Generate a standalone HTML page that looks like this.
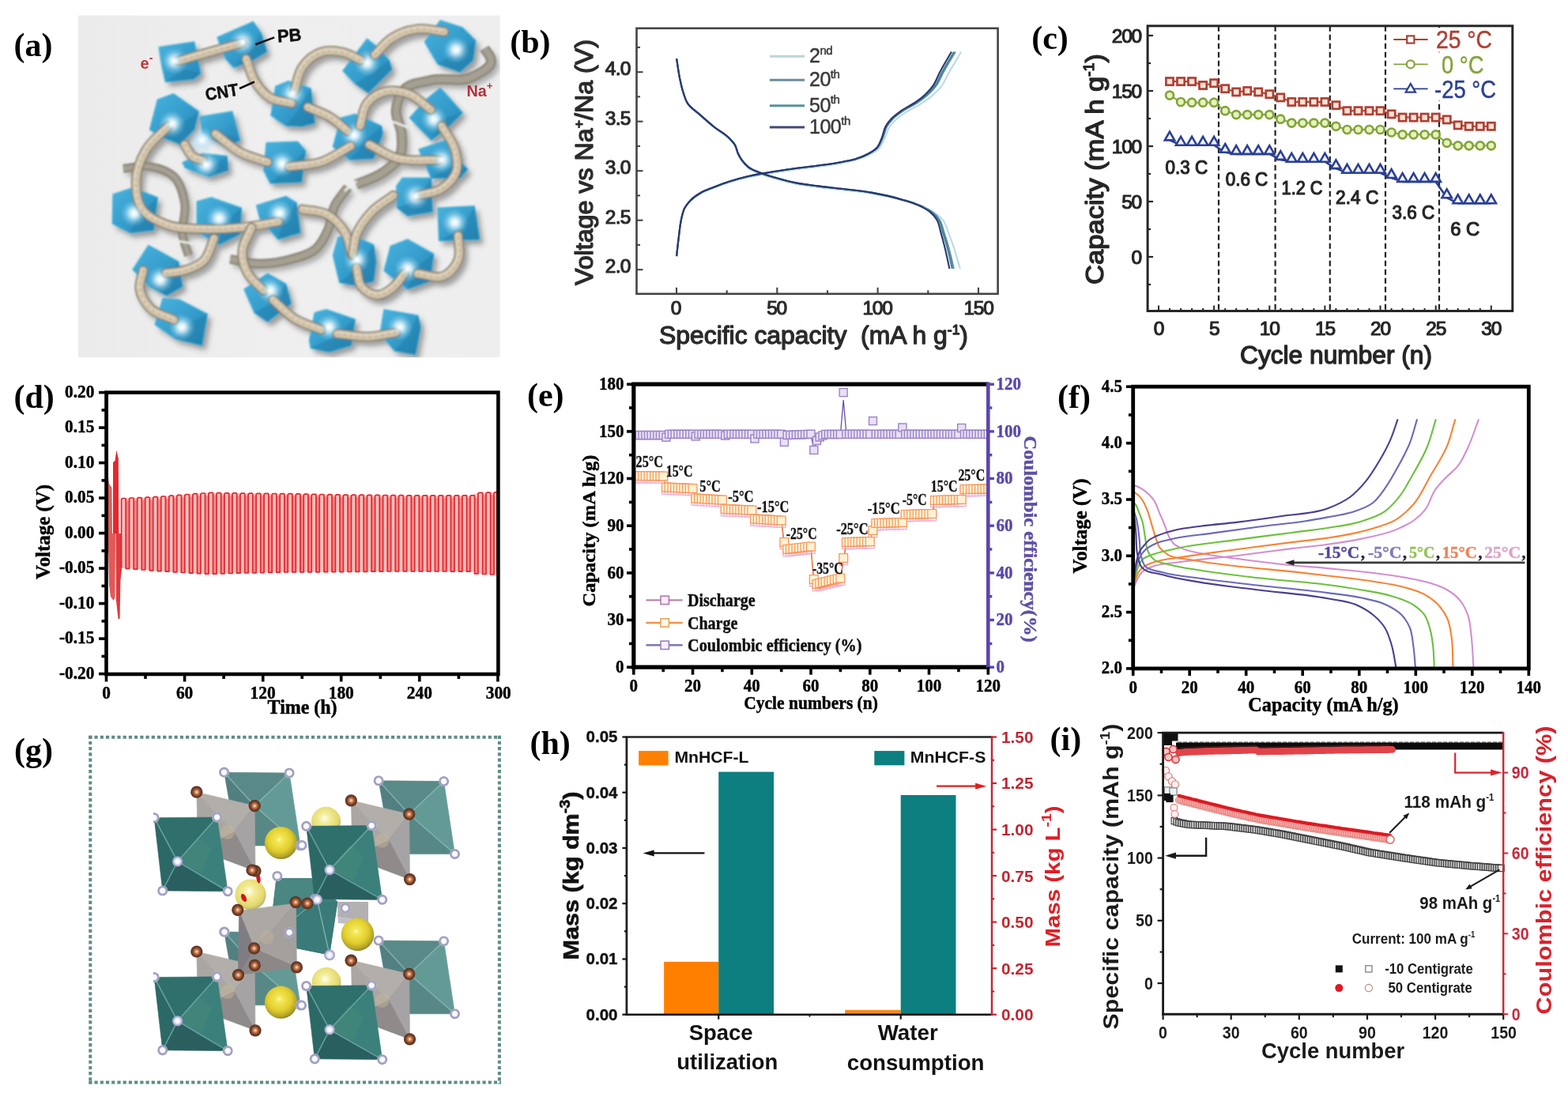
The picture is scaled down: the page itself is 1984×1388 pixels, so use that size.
<!DOCTYPE html>
<html lang="en">
<head>
<meta charset="utf-8">
<title>Figure</title>
<style>
html,body{margin:0;padding:0;background:#fff;}
body{width:1984px;height:1388px;overflow:hidden;}
svg{display:block;}
text{white-space:pre;}
</style>
</head>
<body>
<svg width="1984" height="1388" viewBox="0 0 1984 1388">
<defs>

<radialGradient id="aGlow" cx="0.5" cy="0.5" r="0.5"><stop offset="0" stop-color="#ffffff" stop-opacity="1"/><stop offset="0.22" stop-color="#f2fbff" stop-opacity="0.95"/><stop offset="0.55" stop-color="#bfe6f6" stop-opacity="0.5"/><stop offset="1" stop-color="#8fd0ec" stop-opacity="0"/></radialGradient>
<linearGradient id="aBg" x1="0" y1="0" x2="1" y2="0"><stop offset="0" stop-color="#ebebeb"/><stop offset="0.5" stop-color="#efefef"/><stop offset="1" stop-color="#eeeeee"/></linearGradient>
<linearGradient id="aCube" x1="0" y1="0" x2="1" y2="1"><stop offset="0" stop-color="#44aedb"/><stop offset="0.5" stop-color="#2a97c8"/><stop offset="1" stop-color="#1878aa"/></linearGradient>
<filter id="aSh" x="-20%" y="-20%" width="140%" height="140%"><feGaussianBlur stdDeviation="3.2"/></filter>
<filter id="aSoft" x="-10%" y="-10%" width="120%" height="120%"><feGaussianBlur stdDeviation="0.8"/></filter>
<pattern id="aGrid" width="3" height="3" patternUnits="userSpaceOnUse"><path d="M0 0H3M0 0V3" stroke="#7fd0ee" stroke-width="0.7" fill="none" opacity="0.5"/></pattern>
<pattern id="aTube" width="4" height="4" patternUnits="userSpaceOnUse" patternTransform="rotate(35)"><rect width="4" height="4" fill="#bfb398"/><path d="M0 1H4M0 3H4" stroke="#ece2cc" stroke-width="0.9" opacity="0.75"/></pattern>
<clipPath id="aclip"><rect x="99" y="19.6" width="533.6" height="432.6"/></clipPath>

<clipPath id="eclip"><rect x="795" y="480" width="455.8" height="370"/></clipPath>

<radialGradient id="gW" cx="0.5" cy="0.5" r="0.5"><stop offset="0" stop-color="#ffffff"/><stop offset="0.45" stop-color="#eef0ff"/><stop offset="0.72" stop-color="#b9bbdc"/><stop offset="1" stop-color="#8d8fb4"/></radialGradient>
<radialGradient id="gR" cx="0.5" cy="0.5" r="0.5"><stop offset="0" stop-color="#ffffff"/><stop offset="0.5" stop-color="#f4f4fb"/><stop offset="0.62" stop-color="#a9a9c8"/><stop offset="0.9" stop-color="#9a9abc"/><stop offset="1" stop-color="#c9c9dc"/></radialGradient>
<radialGradient id="gB" cx="0.5" cy="0.5" r="0.5"><stop offset="0" stop-color="#fff4e8"/><stop offset="0.22" stop-color="#e0996c"/><stop offset="0.6" stop-color="#8a4a2c"/><stop offset="1" stop-color="#4c2a1c"/></radialGradient>
<radialGradient id="gY" cx="0.45" cy="0.4" r="0.6"><stop offset="0" stop-color="#fffbe0"/><stop offset="0.12" stop-color="#f6e95a"/><stop offset="0.6" stop-color="#e2cf2e"/><stop offset="0.88" stop-color="#b5a528"/><stop offset="1" stop-color="#8f8430"/></radialGradient>
<radialGradient id="gYp" cx="0.45" cy="0.4" r="0.6"><stop offset="0" stop-color="#fffff0"/><stop offset="0.3" stop-color="#f3ec9a"/><stop offset="0.8" stop-color="#e3d86a"/><stop offset="1" stop-color="#b9b27a"/></radialGradient>
<clipPath id="gclip"><rect x="194" y="940" width="400" height="420"/></clipPath>

</defs>
<rect x="0" y="0" width="1984" height="1388" fill="#ffffff"/>
<g id="labels">
<text font-family='"Liberation Serif", serif' font-size="42" font-weight="bold" fill="#000" x="17.5" y="71">(a)</text>
<text font-family='"Liberation Serif", serif' font-size="42" font-weight="bold" fill="#000" x="645.2" y="67">(b)</text>
<text font-family='"Liberation Serif", serif' font-size="42" font-weight="bold" fill="#000" x="1305.2" y="61.6">(c)</text>
<text font-family='"Liberation Serif", serif' font-size="42" font-weight="bold" fill="#000" x="17.4" y="516.2">(d)</text>
<text font-family='"Liberation Serif", serif' font-size="42" font-weight="bold" fill="#000" x="666.9" y="514.3">(e)</text>
<text font-family='"Liberation Serif", serif' font-size="42" font-weight="bold" fill="#000" x="1338.1" y="516">(f)</text>
<text font-family='"Liberation Serif", serif' font-size="42" font-weight="bold" fill="#000" x="17.9" y="963">(g)</text>
<text font-family='"Liberation Serif", serif' font-size="42" font-weight="bold" fill="#000" x="670.5" y="954">(h)</text>
<text font-family='"Liberation Serif", serif' font-size="42" font-weight="bold" fill="#000" x="1328.5" y="948.5">(i)</text>
</g>
<g id="panel-a">
<rect x="99" y="19.6" width="533.6" height="432.6" fill="url(#aBg)"/>
<g clip-path="url(#aclip)" filter="url(#aSoft)"><g transform="translate(5 6)" opacity="0.5" filter="url(#aSh)"><path d="M225.2 77.2C238.2 73.5 251.1 69.7 264.1 66C278.2 62 292.4 58.1 306.5 54.2" fill="none" stroke="#505050" stroke-width="12" stroke-linecap="round"/><path d="M311.5 74.5C314.9 83.5 316.7 93.4 321.7 101.6C326.9 110.1 333.4 118.6 342 123.6C350.1 128.3 360.1 128.1 369.1 130.4" fill="none" stroke="#505050" stroke-width="12" stroke-linecap="round"/><path d="M372.5 115.1C375.9 105 376.4 93.4 382.7 84.7C388.5 76.5 396.8 69.1 406.4 66C415 63.2 424.6 64.2 433.5 66C441.9 67.8 449.3 72.8 457.2 76.2" fill="none" stroke="#505050" stroke-width="12" stroke-linecap="round"/><path d="M474.1 69.4C480.9 62.6 486.5 54.5 494.4 49.1C504.4 42.4 516.3 38 528.3 36.6C539.5 35.2 550.9 38.8 562.1 40" fill="none" stroke="#505050" stroke-width="12" stroke-linecap="round"/><path d="M389.4 135.5C398.5 139.4 408.1 142.3 416.5 147.3C425.2 152.5 432.3 159.7 440.2 165.9" fill="none" stroke="#505050" stroke-width="12" stroke-linecap="round"/><path d="M455.5 159.2C458.5 149.6 458.3 138.2 464.6 130.4C470.3 123.3 478.8 118 487.6 115.8C497.6 113.3 508.5 115.6 518.1 119.2C528.6 123.1 536.2 132.3 545.2 138.8" fill="none" stroke="#505050" stroke-width="12" stroke-linecap="round"/><path d="M467.3 182.9C478.6 188.5 489.1 196.1 501.2 199.8C518.5 205 537.3 201.6 555.4 202.5" fill="none" stroke="#505050" stroke-width="12" stroke-linecap="round"/><path d="M558.8 159.2C564.4 169.3 572.7 178.4 575.7 189.6C578 198.4 580.1 208.1 577.4 216.7C574.5 225.9 566.8 233.4 558.8 238.7C550 244.6 538.4 244.4 528.3 247.2" fill="none" stroke="#505050" stroke-width="12" stroke-linecap="round"/><path d="M272.6 169.3C283.3 177.2 292.9 186.9 304.8 193C315.4 198.5 327.4 200.9 338.6 204.9" fill="none" stroke="#505050" stroke-width="12" stroke-linecap="round"/><path d="M365.7 210.6C379.3 208.7 393.4 209.1 406.4 204.9C419.8 200.5 431.2 191.3 443.6 184.6" fill="none" stroke="#505050" stroke-width="12" stroke-linecap="round"/><path d="M213.3 159.2C203.7 169.3 191.6 177.6 184.6 189.6C177.4 201.9 172.2 216.1 172 230.3C171.9 241.8 173 254.6 179.5 264.1C186.3 274.1 198.7 279.3 210 283.8C224.8 289.7 241.5 288.9 257.4 289.5C273.2 290.2 289 289.3 304.8 287.8C320.7 286.3 336.4 282.9 352.2 280.4" fill="none" stroke="#505050" stroke-width="12" stroke-linecap="round"/><path d="M382.7 264.8C392.8 266.8 403.9 266.1 413.1 270.9C423.1 276.1 431.3 284.9 436.8 294.6C441.8 303.3 442.5 313.8 445.3 323.4" fill="none" stroke="#505050" stroke-width="12" stroke-linecap="round"/><path d="M497.8 247.2C488.8 254 478.5 259.4 470.7 267.5C462.3 276.3 454.4 286.5 450.4 298C447.8 305.6 447.7 313.8 446.3 321.7" fill="none" stroke="#505050" stroke-width="12" stroke-linecap="round"/><path d="M318.3 287.8C314.4 298 306.9 307.4 306.5 318.3C306.1 327.6 308.9 337.2 313.2 345.4C317.9 354.2 326.8 360.1 333.6 367.4" fill="none" stroke="#505050" stroke-width="12" stroke-linecap="round"/><path d="M345.4 379.3C354.4 387.2 362.3 396.6 372.5 403C382.9 409.5 395.1 412.5 406.4 417.2" fill="none" stroke="#505050" stroke-width="12" stroke-linecap="round"/><path d="M426.7 422.3C440.2 423.5 453.7 426.6 467.3 426C478.7 425.5 489.9 422.4 501.2 420.6" fill="none" stroke="#505050" stroke-width="12" stroke-linecap="round"/><path d="M270.9 301.4C266.4 311 265 322.8 257.4 330.2C251 336.3 242.1 339.5 233.7 342C226 344.3 217.9 344.3 210 345.4" fill="none" stroke="#505050" stroke-width="12" stroke-linecap="round"/><path d="M181.2 342C179.7 349.9 175.7 357.8 176.8 365.7C178 374.6 183.4 383 189.6 389.4C197.5 397.6 210 399.6 220.1 404.7" fill="none" stroke="#505050" stroke-width="12" stroke-linecap="round"/><path d="M451.1 338.6C453.3 346.8 452.3 356.6 457.8 363C462.8 368.7 470.6 373.3 478.2 373.2C485.5 373.1 492.1 367.7 497.8 363C503.7 358.3 507.3 351.3 512 345.4" fill="none" stroke="#505050" stroke-width="12" stroke-linecap="round"/><path d="M528.3 346.1C539.6 347 551.9 353.7 562.1 348.8C569.7 345.2 575.6 337.8 579.1 330.2C583.5 320.4 579.5 308.7 579.7 298" fill="none" stroke="#505050" stroke-width="12" stroke-linecap="round"/><path d="M233.7 182.9C237 187.9 238.9 194.5 243.8 198.1C247.7 201 252.9 201.5 257.4 203.2" fill="none" stroke="#505050" stroke-width="12" stroke-linecap="round"/><path d="M612.9 61C615.8 66 621.1 70.4 621.4 76.2C621.9 86.2 608.1 91.6 599.4 96.5C583.6 105.5 562.8 97.3 545.2 101.6C533.6 104.4 519.5 104.7 511.3 113.4C505.2 120.1 502.1 129.8 501.2 138.8C500.1 149.2 507.2 158.9 508 169.3C508.6 178.3 509.8 188.1 506.3 196.4C502.2 206 492.7 212.4 484.3 218.4C474.2 225.6 461.7 228.6 450.4 233.7" fill="none" stroke="#666" stroke-width="10"/><path d="M440.2 237C434.6 244.9 427.5 252 423.3 260.8C418.7 270.2 419.2 281.6 414.8 291.2C410.9 299.8 406.6 308.7 399.6 314.9C391.3 322.2 379.7 324.7 369.1 327.8C354.9 332 339.9 334.1 325.1 333.6C313.7 333.1 302.5 329.7 291.2 327.8" fill="none" stroke="#666" stroke-width="9"/><path d="M155.8 213.3C167.1 212.4 178.5 208.8 189.6 210.6C200.5 212.4 212.2 215.8 220.1 223.5C228.8 232 231.6 245.4 233.7 257.4C236 270.7 228.9 284.6 231 298C232.3 306.8 236.1 314.9 238.7 323.4" fill="none" stroke="#666" stroke-width="8"/><polygon points="201.1,59.7 245.8,52.8 254.1,92.9 245,100.3 209.3,103.6 204.4,81.3" fill="#4a4a4a"/><polygon points="274.8,47.3 320.4,27.4 330.3,41.5 337.8,65.5 318.7,77.1 295.5,85.4 285.6,74.6" fill="#4a4a4a"/><polygon points="348.6,109.4 365.1,102.5 393.3,111.9 398.3,155.9 381.7,160 361.8,159.2 342.8,145.9" fill="#4a4a4a"/><polygon points="189.4,164.1 199.4,126 219.3,118.6 251.6,140.9 245.8,164.1 227.6,182.4 206,174.1" fill="#4a4a4a"/><polygon points="253.3,147.6 293.9,140.9 303.8,177.4 285.6,185.7 255.7,169.1" fill="#4a4a4a"/><polygon points="230.9,205.6 255.7,194 287.2,197.3 288.9,215.5 264,223.8 234.2,212.2" fill="#4a4a4a"/><polygon points="337,180.7 376.7,179.1 386.7,190.7 381.7,230.4 341.9,232.1 333.6,215.5" fill="#4a4a4a"/><polygon points="433.7,89.6 464.4,49 477.6,59.7 492.5,76.3 495.9,87.9 466,117.7 449.4,106.1" fill="#4a4a4a"/><polygon points="537.3,53.1 557.2,25.7 585.4,34.9 601.9,51.4 598.6,76.3 582,91.2 553.9,81.3" fill="#4a4a4a"/><polygon points="421.3,185.7 431.2,149.2 449.4,144.3 482.6,159.2 484.3,169.1 472.7,200.6 442.8,202.3" fill="#4a4a4a"/><polygon points="518.2,149.2 539,126 557.2,111.1 585.4,142.6 568.8,159.2 545.6,177.4" fill="#4a4a4a"/><polygon points="529.8,189 563.8,177.4 570.4,192.3 592,213.9 582,225.5 545.6,225.5" fill="#4a4a4a"/><polygon points="143,245.7 167.9,237.5 199.4,249.9 194.4,291.3 164.6,294.6 142.2,283" fill="#4a4a4a"/><polygon points="249.1,254.9 267.3,249.9 305.5,263.1 303.8,296.3 277.3,309.6 249.1,293" fill="#4a4a4a"/><polygon points="324.5,259.8 361.8,248.2 375.1,256.5 380.1,294.6 351.9,302.9 328.7,276.4" fill="#4a4a4a"/><polygon points="167.9,341.1 187.8,310.4 225.9,331.1 230.9,362.6 211,374.2 189.4,362.6" fill="#4a4a4a"/><polygon points="196.1,410.7 206,377.5 227.6,379.2 262.4,397.4 255.7,437.2 222.6,428.9" fill="#4a4a4a"/><polygon points="308.8,365.9 338.6,346 361.8,359.3 368.5,384.1 338.6,407.3 322,395.7" fill="#4a4a4a"/><polygon points="501.7,235 509.1,225 545.6,225 547.2,268.1 515.7,273.1 502.5,263.1" fill="#4a4a4a"/><polygon points="553.9,263.1 600.3,260.7 606.9,302.9 555.5,304.6" fill="#4a4a4a"/><polygon points="421.3,322.8 427.9,299.6 449.4,299.6 472.7,309.6 476,331.1 472.7,356 449.4,360.9 429.6,357.6" fill="#4a4a4a"/><polygon points="485.9,342.7 494.2,311.2 515.7,302.9 548.9,321.2 543.9,356 515.7,365.9" fill="#4a4a4a"/><polygon points="391.4,430.6 398.1,395.7 413,391.6 449.4,404 444.5,437.2 416.3,445.5 393.1,440.5" fill="#4a4a4a"/><polygon points="480.9,422.3 485.9,391.6 529,399.1 532.3,414 525.7,448.8 499.2,443.8" fill="#4a4a4a"/></g>
<path d="M612.9 61C615.8 66 621.1 70.4 621.4 76.2C621.9 86.2 608.1 91.6 599.4 96.5C583.6 105.5 562.8 97.3 545.2 101.6C533.6 104.4 519.5 104.7 511.3 113.4C505.2 120.1 502.1 129.8 501.2 138.8C500.1 149.2 507.2 158.9 508 169.3C508.6 178.3 509.8 188.1 506.3 196.4C502.2 206 492.7 212.4 484.3 218.4C474.2 225.6 461.7 228.6 450.4 233.7" fill="none" stroke="#8b8678" stroke-width="13"/>
<path d="M612.9 61C615.8 66 621.1 70.4 621.4 76.2C621.9 86.2 608.1 91.6 599.4 96.5C583.6 105.5 562.8 97.3 545.2 101.6C533.6 104.4 519.5 104.7 511.3 113.4C505.2 120.1 502.1 129.8 501.2 138.8C500.1 149.2 507.2 158.9 508 169.3C508.6 178.3 509.8 188.1 506.3 196.4C502.2 206 492.7 212.4 484.3 218.4C474.2 225.6 461.7 228.6 450.4 233.7" fill="none" stroke="#a5a092" stroke-width="8"/>
<path d="M440.2 237C434.6 244.9 427.5 252 423.3 260.8C418.7 270.2 419.2 281.6 414.8 291.2C410.9 299.8 406.6 308.7 399.6 314.9C391.3 322.2 379.7 324.7 369.1 327.8C354.9 332 339.9 334.1 325.1 333.6C313.7 333.1 302.5 329.7 291.2 327.8" fill="none" stroke="#8b8678" stroke-width="12"/>
<path d="M440.2 237C434.6 244.9 427.5 252 423.3 260.8C418.7 270.2 419.2 281.6 414.8 291.2C410.9 299.8 406.6 308.7 399.6 314.9C391.3 322.2 379.7 324.7 369.1 327.8C354.9 332 339.9 334.1 325.1 333.6C313.7 333.1 302.5 329.7 291.2 327.8" fill="none" stroke="#a5a092" stroke-width="7"/>
<path d="M155.8 213.3C167.1 212.4 178.5 208.8 189.6 210.6C200.5 212.4 212.2 215.8 220.1 223.5C228.8 232 231.6 245.4 233.7 257.4C236 270.7 228.9 284.6 231 298C232.3 306.8 236.1 314.9 238.7 323.4" fill="none" stroke="#8b8678" stroke-width="11"/>
<path d="M155.8 213.3C167.1 212.4 178.5 208.8 189.6 210.6C200.5 212.4 212.2 215.8 220.1 223.5C228.8 232 231.6 245.4 233.7 257.4C236 270.7 228.9 284.6 231 298C232.3 306.8 236.1 314.9 238.7 323.4" fill="none" stroke="#a5a092" stroke-width="6"/>
<rect x="496.3" y="156.2" width="20" height="2.6" fill="#ededed" transform="rotate(20 506.3 157.5)"/>
<rect x="433.6" y="234.1" width="20" height="2.6" fill="#ededed" transform="rotate(-40 443.6 235.4)"/>
<rect x="223.7" y="305.2" width="20" height="2.6" fill="#ededed" transform="rotate(10 233.7 306.5)"/>
<polygon points="201.1,59.7 245.8,52.8 254.1,92.9 245,100.3 209.3,103.6 204.4,81.3" fill="url(#aCube)" stroke="#3fb0dc" stroke-width="1.2" stroke-linejoin="round"/>
<polygon points="232.6,87.8 254.1,92.9 245,100.3 209.3,103.6" fill="#156f9e" opacity="0.45"/>
<polygon points="201.1,59.7 245.8,52.8 254.1,92.9 245,100.3 209.3,103.6 204.4,81.3" fill="url(#aGrid)"/>
<circle cx="220.9" cy="77.1" r="17" fill="url(#aGlow)"/>
<polygon points="274.8,47.3 320.4,27.4 330.3,41.5 337.8,65.5 318.7,77.1 295.5,85.4 285.6,74.6" fill="url(#aCube)" stroke="#3fb0dc" stroke-width="1.2" stroke-linejoin="round"/>
<polygon points="315,65.8 330.3,41.5 337.8,65.5 318.7,77.1 295.5,85.4" fill="#156f9e" opacity="0.45"/>
<polygon points="274.8,47.3 320.4,27.4 330.3,41.5 337.8,65.5 318.7,77.1 295.5,85.4 285.6,74.6" fill="url(#aGrid)"/>
<circle cx="307.1" cy="53.1" r="17" fill="url(#aGlow)"/>
<polygon points="348.6,109.4 365.1,102.5 393.3,111.9 398.3,155.9 381.7,160 361.8,159.2 342.8,145.9" fill="url(#aCube)" stroke="#3fb0dc" stroke-width="1.2" stroke-linejoin="round"/>
<polygon points="376.2,141 393.3,111.9 398.3,155.9 381.7,160 361.8,159.2" fill="#156f9e" opacity="0.45"/>
<polygon points="348.6,109.4 365.1,102.5 393.3,111.9 398.3,155.9 381.7,160 361.8,159.2 342.8,145.9" fill="url(#aGrid)"/>
<circle cx="370.1" cy="118.6" r="17" fill="url(#aGlow)"/>
<polygon points="189.4,164.1 199.4,126 219.3,118.6 251.6,140.9 245.8,164.1 227.6,182.4 206,174.1" fill="url(#aCube)" stroke="#3fb0dc" stroke-width="1.2" stroke-linejoin="round"/>
<polygon points="225.9,158.9 251.6,140.9 245.8,164.1 227.6,182.4 206,174.1" fill="#156f9e" opacity="0.45"/>
<polygon points="189.4,164.1 199.4,126 219.3,118.6 251.6,140.9 245.8,164.1 227.6,182.4 206,174.1" fill="url(#aGrid)"/>
<circle cx="217.6" cy="156.7" r="17" fill="url(#aGlow)"/>
<polygon points="253.3,147.6 293.9,140.9 303.8,177.4 285.6,185.7 255.7,169.1" fill="url(#aCube)" stroke="#3fb0dc" stroke-width="1.2" stroke-linejoin="round"/>
<polygon points="284.5,170.1 303.8,177.4 285.6,185.7" fill="#156f9e" opacity="0.45"/>
<polygon points="253.3,147.6 293.9,140.9 303.8,177.4 285.6,185.7 255.7,169.1" fill="url(#aGrid)"/>
<circle cx="255.7" cy="177.4" r="17" fill="url(#aGlow)"/>
<polygon points="230.9,205.6 255.7,194 287.2,197.3 288.9,215.5 264,223.8 234.2,212.2" fill="url(#aCube)" stroke="#3fb0dc" stroke-width="1.2" stroke-linejoin="round"/>
<polygon points="266.2,214.1 287.2,197.3 288.9,215.5 264,223.8" fill="#156f9e" opacity="0.45"/>
<polygon points="230.9,205.6 255.7,194 287.2,197.3 288.9,215.5 264,223.8 234.2,212.2" fill="url(#aGrid)"/>
<circle cx="260.7" cy="208.1" r="17" fill="url(#aGlow)"/>
<polygon points="337,180.7 376.7,179.1 386.7,190.7 381.7,230.4 341.9,232.1 333.6,215.5" fill="url(#aCube)" stroke="#3fb0dc" stroke-width="1.2" stroke-linejoin="round"/>
<polygon points="365.6,210.8 386.7,190.7 381.7,230.4 341.9,232.1" fill="#156f9e" opacity="0.45"/>
<polygon points="337,180.7 376.7,179.1 386.7,190.7 381.7,230.4 341.9,232.1 333.6,215.5" fill="url(#aGrid)"/>
<circle cx="356.9" cy="207.2" r="17" fill="url(#aGlow)"/>
<polygon points="433.7,89.6 464.4,49 477.6,59.7 492.5,76.3 495.9,87.9 466,117.7 449.4,106.1" fill="url(#aCube)" stroke="#3fb0dc" stroke-width="1.2" stroke-linejoin="round"/>
<polygon points="474.5,89.8 492.5,76.3 495.9,87.9 466,117.7 449.4,106.1" fill="#156f9e" opacity="0.45"/>
<polygon points="433.7,89.6 464.4,49 477.6,59.7 492.5,76.3 495.9,87.9 466,117.7 449.4,106.1" fill="url(#aGrid)"/>
<circle cx="464.4" cy="79.6" r="17" fill="url(#aGlow)"/>
<polygon points="537.3,53.1 557.2,25.7 585.4,34.9 601.9,51.4 598.6,76.3 582,91.2 553.9,81.3" fill="url(#aCube)" stroke="#3fb0dc" stroke-width="1.2" stroke-linejoin="round"/>
<polygon points="579.8,65.1 601.9,51.4 598.6,76.3 582,91.2 553.9,81.3" fill="#156f9e" opacity="0.45"/>
<polygon points="537.3,53.1 557.2,25.7 585.4,34.9 601.9,51.4 598.6,76.3 582,91.2 553.9,81.3" fill="url(#aGrid)"/>
<circle cx="577.1" cy="63" r="17" fill="url(#aGlow)"/>
<polygon points="421.3,185.7 431.2,149.2 449.4,144.3 482.6,159.2 484.3,169.1 472.7,200.6 442.8,202.3" fill="url(#aCube)" stroke="#3fb0dc" stroke-width="1.2" stroke-linejoin="round"/>
<polygon points="460.9,178.9 482.6,159.2 484.3,169.1 472.7,200.6 442.8,202.3" fill="#156f9e" opacity="0.45"/>
<polygon points="421.3,185.7 431.2,149.2 449.4,144.3 482.6,159.2 484.3,169.1 472.7,200.6 442.8,202.3" fill="url(#aGrid)"/>
<circle cx="447.8" cy="170.8" r="17" fill="url(#aGlow)"/>
<polygon points="518.2,149.2 539,126 557.2,111.1 585.4,142.6 568.8,159.2 545.6,177.4" fill="url(#aCube)" stroke="#3fb0dc" stroke-width="1.2" stroke-linejoin="round"/>
<polygon points="558.3,150.3 585.4,142.6 568.8,159.2 545.6,177.4" fill="#156f9e" opacity="0.45"/>
<polygon points="518.2,149.2 539,126 557.2,111.1 585.4,142.6 568.8,159.2 545.6,177.4" fill="url(#aGrid)"/>
<circle cx="548.9" cy="150.9" r="17" fill="url(#aGlow)"/>
<polygon points="529.8,189 563.8,177.4 570.4,192.3 592,213.9 582,225.5 545.6,225.5" fill="url(#aCube)" stroke="#3fb0dc" stroke-width="1.2" stroke-linejoin="round"/>
<polygon points="570,209.9 592,213.9 582,225.5 545.6,225.5" fill="#156f9e" opacity="0.45"/>
<polygon points="529.8,189 563.8,177.4 570.4,192.3 592,213.9 582,225.5 545.6,225.5" fill="url(#aGrid)"/>
<circle cx="558.8" cy="202.3" r="17" fill="url(#aGlow)"/>
<polygon points="143,245.7 167.9,237.5 199.4,249.9 194.4,291.3 164.6,294.6 142.2,283" fill="url(#aCube)" stroke="#3fb0dc" stroke-width="1.2" stroke-linejoin="round"/>
<polygon points="174.6,273 199.4,249.9 194.4,291.3 164.6,294.6" fill="#156f9e" opacity="0.45"/>
<polygon points="143,245.7 167.9,237.5 199.4,249.9 194.4,291.3 164.6,294.6 142.2,283" fill="url(#aGrid)"/>
<circle cx="169.6" cy="269.8" r="17" fill="url(#aGlow)"/>
<polygon points="249.1,254.9 267.3,249.9 305.5,263.1 303.8,296.3 277.3,309.6 249.1,293" fill="url(#aCube)" stroke="#3fb0dc" stroke-width="1.2" stroke-linejoin="round"/>
<polygon points="281.4,283.8 305.5,263.1 303.8,296.3 277.3,309.6" fill="#156f9e" opacity="0.45"/>
<polygon points="249.1,254.9 267.3,249.9 305.5,263.1 303.8,296.3 277.3,309.6 249.1,293" fill="url(#aGrid)"/>
<circle cx="277.3" cy="276.4" r="17" fill="url(#aGlow)"/>
<polygon points="324.5,259.8 361.8,248.2 375.1,256.5 380.1,294.6 351.9,302.9 328.7,276.4" fill="url(#aCube)" stroke="#3fb0dc" stroke-width="1.2" stroke-linejoin="round"/>
<polygon points="359.7,279.1 375.1,256.5 380.1,294.6 351.9,302.9" fill="#156f9e" opacity="0.45"/>
<polygon points="324.5,259.8 361.8,248.2 375.1,256.5 380.1,294.6 351.9,302.9 328.7,276.4" fill="url(#aGrid)"/>
<circle cx="353.5" cy="269.8" r="17" fill="url(#aGlow)"/>
<polygon points="167.9,341.1 187.8,310.4 225.9,331.1 230.9,362.6 211,374.2 189.4,362.6" fill="url(#aCube)" stroke="#3fb0dc" stroke-width="1.2" stroke-linejoin="round"/>
<polygon points="208.2,353 225.9,331.1 230.9,362.6 211,374.2 189.4,362.6" fill="#156f9e" opacity="0.45"/>
<polygon points="167.9,341.1 187.8,310.4 225.9,331.1 230.9,362.6 211,374.2 189.4,362.6" fill="url(#aGrid)"/>
<circle cx="202.7" cy="353.5" r="17" fill="url(#aGlow)"/>
<polygon points="196.1,410.7 206,377.5 227.6,379.2 262.4,397.4 255.7,437.2 222.6,428.9" fill="url(#aCube)" stroke="#3fb0dc" stroke-width="1.2" stroke-linejoin="round"/>
<polygon points="234.4,411.1 262.4,397.4 255.7,437.2 222.6,428.9" fill="#156f9e" opacity="0.45"/>
<polygon points="196.1,410.7 206,377.5 227.6,379.2 262.4,397.4 255.7,437.2 222.6,428.9" fill="url(#aGrid)"/>
<circle cx="230.1" cy="414" r="17" fill="url(#aGlow)"/>
<polygon points="308.8,365.9 338.6,346 361.8,359.3 368.5,384.1 338.6,407.3 322,395.7" fill="url(#aCube)" stroke="#3fb0dc" stroke-width="1.2" stroke-linejoin="round"/>
<polygon points="345.7,382.4 361.8,359.3 368.5,384.1 338.6,407.3 322,395.7" fill="#156f9e" opacity="0.45"/>
<polygon points="308.8,365.9 338.6,346 361.8,359.3 368.5,384.1 338.6,407.3 322,395.7" fill="url(#aGrid)"/>
<circle cx="341.9" cy="367.6" r="17" fill="url(#aGlow)"/>
<polygon points="501.7,235 509.1,225 545.6,225 547.2,268.1 515.7,273.1 502.5,263.1" fill="url(#aCube)" stroke="#3fb0dc" stroke-width="1.2" stroke-linejoin="round"/>
<polygon points="526.3,254.2 545.6,225 547.2,268.1 515.7,273.1 502.5,263.1" fill="#156f9e" opacity="0.45"/>
<polygon points="501.7,235 509.1,225 545.6,225 547.2,268.1 515.7,273.1 502.5,263.1" fill="url(#aGrid)"/>
<circle cx="525.7" cy="248.2" r="17" fill="url(#aGlow)"/>
<polygon points="553.9,263.1 600.3,260.7 606.9,302.9 555.5,304.6" fill="url(#aCube)" stroke="#3fb0dc" stroke-width="1.2" stroke-linejoin="round"/>
<polygon points="585.1,288.8 600.3,260.7 606.9,302.9 555.5,304.6" fill="#156f9e" opacity="0.45"/>
<polygon points="553.9,263.1 600.3,260.7 606.9,302.9 555.5,304.6" fill="url(#aGrid)"/>
<circle cx="575.4" cy="281.4" r="17" fill="url(#aGlow)"/>
<polygon points="421.3,322.8 427.9,299.6 449.4,299.6 472.7,309.6 476,331.1 472.7,356 449.4,360.9 429.6,357.6" fill="url(#aCube)" stroke="#3fb0dc" stroke-width="1.2" stroke-linejoin="round"/>
<polygon points="455.9,335.7 472.7,309.6 476,331.1 472.7,356 449.4,360.9 429.6,357.6" fill="#156f9e" opacity="0.45"/>
<polygon points="421.3,322.8 427.9,299.6 449.4,299.6 472.7,309.6 476,331.1 472.7,356 449.4,360.9 429.6,357.6" fill="url(#aGrid)"/>
<circle cx="451.1" cy="328.6" r="17" fill="url(#aGlow)"/>
<polygon points="485.9,342.7 494.2,311.2 515.7,302.9 548.9,321.2 543.9,356 515.7,365.9" fill="url(#aCube)" stroke="#3fb0dc" stroke-width="1.2" stroke-linejoin="round"/>
<polygon points="523.4,339.3 548.9,321.2 543.9,356 515.7,365.9" fill="#156f9e" opacity="0.45"/>
<polygon points="485.9,342.7 494.2,311.2 515.7,302.9 548.9,321.2 543.9,356 515.7,365.9" fill="url(#aGrid)"/>
<circle cx="515.7" cy="340.2" r="17" fill="url(#aGlow)"/>
<polygon points="391.4,430.6 398.1,395.7 413,391.6 449.4,404 444.5,437.2 416.3,445.5 393.1,440.5" fill="url(#aCube)" stroke="#3fb0dc" stroke-width="1.2" stroke-linejoin="round"/>
<polygon points="421.1,426.7 449.4,404 444.5,437.2 416.3,445.5 393.1,440.5" fill="#156f9e" opacity="0.45"/>
<polygon points="391.4,430.6 398.1,395.7 413,391.6 449.4,404 444.5,437.2 416.3,445.5 393.1,440.5" fill="url(#aGrid)"/>
<circle cx="416.3" cy="414" r="17" fill="url(#aGlow)"/>
<polygon points="480.9,422.3 485.9,391.6 529,399.1 532.3,414 525.7,448.8 499.2,443.8" fill="url(#aCube)" stroke="#3fb0dc" stroke-width="1.2" stroke-linejoin="round"/>
<polygon points="514.8,425.9 529,399.1 532.3,414 525.7,448.8 499.2,443.8" fill="#156f9e" opacity="0.45"/>
<polygon points="480.9,422.3 485.9,391.6 529,399.1 532.3,414 525.7,448.8 499.2,443.8" fill="url(#aGrid)"/>
<circle cx="505.8" cy="414" r="17" fill="url(#aGlow)"/>
<path d="M225.2 77.2C238.2 73.5 251.1 69.7 264.1 66C278.2 62 292.4 58.1 306.5 54.2" fill="none" stroke="#7c7466" stroke-width="12.4" stroke-linecap="round"/>
<path d="M225.2 77.2C238.2 73.5 251.1 69.7 264.1 66C278.2 62 292.4 58.1 306.5 54.2" fill="none" stroke="url(#aTube)" stroke-width="9.4" stroke-linecap="round"/>
<path d="M225.2 77.2C238.2 73.5 251.1 69.7 264.1 66C278.2 62 292.4 58.1 306.5 54.2" fill="none" stroke="#f3ecdc" stroke-width="2.4" stroke-linecap="round" opacity="0.5" transform="translate(-1 -1.6)"/>
<path d="M225.2 77.2C238.2 73.5 251.1 69.7 264.1 66C278.2 62 292.4 58.1 306.5 54.2" fill="none" stroke="#d08c7a" stroke-width="2.2" stroke-dasharray="3 5" opacity="0.5"/>
<path d="M311.5 74.5C314.9 83.5 316.7 93.4 321.7 101.6C326.9 110.1 333.4 118.6 342 123.6C350.1 128.3 360.1 128.1 369.1 130.4" fill="none" stroke="#7c7466" stroke-width="12.4" stroke-linecap="round"/>
<path d="M311.5 74.5C314.9 83.5 316.7 93.4 321.7 101.6C326.9 110.1 333.4 118.6 342 123.6C350.1 128.3 360.1 128.1 369.1 130.4" fill="none" stroke="url(#aTube)" stroke-width="9.4" stroke-linecap="round"/>
<path d="M311.5 74.5C314.9 83.5 316.7 93.4 321.7 101.6C326.9 110.1 333.4 118.6 342 123.6C350.1 128.3 360.1 128.1 369.1 130.4" fill="none" stroke="#f3ecdc" stroke-width="2.4" stroke-linecap="round" opacity="0.5" transform="translate(-1 -1.6)"/>
<path d="M311.5 74.5C314.9 83.5 316.7 93.4 321.7 101.6C326.9 110.1 333.4 118.6 342 123.6C350.1 128.3 360.1 128.1 369.1 130.4" fill="none" stroke="#d08c7a" stroke-width="2.2" stroke-dasharray="3 5" opacity="0.5"/>
<path d="M372.5 115.1C375.9 105 376.4 93.4 382.7 84.7C388.5 76.5 396.8 69.1 406.4 66C415 63.2 424.6 64.2 433.5 66C441.9 67.8 449.3 72.8 457.2 76.2" fill="none" stroke="#7c7466" stroke-width="12.4" stroke-linecap="round"/>
<path d="M372.5 115.1C375.9 105 376.4 93.4 382.7 84.7C388.5 76.5 396.8 69.1 406.4 66C415 63.2 424.6 64.2 433.5 66C441.9 67.8 449.3 72.8 457.2 76.2" fill="none" stroke="url(#aTube)" stroke-width="9.4" stroke-linecap="round"/>
<path d="M372.5 115.1C375.9 105 376.4 93.4 382.7 84.7C388.5 76.5 396.8 69.1 406.4 66C415 63.2 424.6 64.2 433.5 66C441.9 67.8 449.3 72.8 457.2 76.2" fill="none" stroke="#f3ecdc" stroke-width="2.4" stroke-linecap="round" opacity="0.5" transform="translate(-1 -1.6)"/>
<path d="M372.5 115.1C375.9 105 376.4 93.4 382.7 84.7C388.5 76.5 396.8 69.1 406.4 66C415 63.2 424.6 64.2 433.5 66C441.9 67.8 449.3 72.8 457.2 76.2" fill="none" stroke="#d08c7a" stroke-width="2.2" stroke-dasharray="3 5" opacity="0.5"/>
<path d="M474.1 69.4C480.9 62.6 486.5 54.5 494.4 49.1C504.4 42.4 516.3 38 528.3 36.6C539.5 35.2 550.9 38.8 562.1 40" fill="none" stroke="#7c7466" stroke-width="12.4" stroke-linecap="round"/>
<path d="M474.1 69.4C480.9 62.6 486.5 54.5 494.4 49.1C504.4 42.4 516.3 38 528.3 36.6C539.5 35.2 550.9 38.8 562.1 40" fill="none" stroke="url(#aTube)" stroke-width="9.4" stroke-linecap="round"/>
<path d="M474.1 69.4C480.9 62.6 486.5 54.5 494.4 49.1C504.4 42.4 516.3 38 528.3 36.6C539.5 35.2 550.9 38.8 562.1 40" fill="none" stroke="#f3ecdc" stroke-width="2.4" stroke-linecap="round" opacity="0.5" transform="translate(-1 -1.6)"/>
<path d="M474.1 69.4C480.9 62.6 486.5 54.5 494.4 49.1C504.4 42.4 516.3 38 528.3 36.6C539.5 35.2 550.9 38.8 562.1 40" fill="none" stroke="#d08c7a" stroke-width="2.2" stroke-dasharray="3 5" opacity="0.5"/>
<path d="M389.4 135.5C398.5 139.4 408.1 142.3 416.5 147.3C425.2 152.5 432.3 159.7 440.2 165.9" fill="none" stroke="#7c7466" stroke-width="12.4" stroke-linecap="round"/>
<path d="M389.4 135.5C398.5 139.4 408.1 142.3 416.5 147.3C425.2 152.5 432.3 159.7 440.2 165.9" fill="none" stroke="url(#aTube)" stroke-width="9.4" stroke-linecap="round"/>
<path d="M389.4 135.5C398.5 139.4 408.1 142.3 416.5 147.3C425.2 152.5 432.3 159.7 440.2 165.9" fill="none" stroke="#f3ecdc" stroke-width="2.4" stroke-linecap="round" opacity="0.5" transform="translate(-1 -1.6)"/>
<path d="M389.4 135.5C398.5 139.4 408.1 142.3 416.5 147.3C425.2 152.5 432.3 159.7 440.2 165.9" fill="none" stroke="#d08c7a" stroke-width="2.2" stroke-dasharray="3 5" opacity="0.5"/>
<path d="M455.5 159.2C458.5 149.6 458.3 138.2 464.6 130.4C470.3 123.3 478.8 118 487.6 115.8C497.6 113.3 508.5 115.6 518.1 119.2C528.6 123.1 536.2 132.3 545.2 138.8" fill="none" stroke="#7c7466" stroke-width="12.4" stroke-linecap="round"/>
<path d="M455.5 159.2C458.5 149.6 458.3 138.2 464.6 130.4C470.3 123.3 478.8 118 487.6 115.8C497.6 113.3 508.5 115.6 518.1 119.2C528.6 123.1 536.2 132.3 545.2 138.8" fill="none" stroke="url(#aTube)" stroke-width="9.4" stroke-linecap="round"/>
<path d="M455.5 159.2C458.5 149.6 458.3 138.2 464.6 130.4C470.3 123.3 478.8 118 487.6 115.8C497.6 113.3 508.5 115.6 518.1 119.2C528.6 123.1 536.2 132.3 545.2 138.8" fill="none" stroke="#f3ecdc" stroke-width="2.4" stroke-linecap="round" opacity="0.5" transform="translate(-1 -1.6)"/>
<path d="M455.5 159.2C458.5 149.6 458.3 138.2 464.6 130.4C470.3 123.3 478.8 118 487.6 115.8C497.6 113.3 508.5 115.6 518.1 119.2C528.6 123.1 536.2 132.3 545.2 138.8" fill="none" stroke="#d08c7a" stroke-width="2.2" stroke-dasharray="3 5" opacity="0.5"/>
<path d="M467.3 182.9C478.6 188.5 489.1 196.1 501.2 199.8C518.5 205 537.3 201.6 555.4 202.5" fill="none" stroke="#7c7466" stroke-width="12.4" stroke-linecap="round"/>
<path d="M467.3 182.9C478.6 188.5 489.1 196.1 501.2 199.8C518.5 205 537.3 201.6 555.4 202.5" fill="none" stroke="url(#aTube)" stroke-width="9.4" stroke-linecap="round"/>
<path d="M467.3 182.9C478.6 188.5 489.1 196.1 501.2 199.8C518.5 205 537.3 201.6 555.4 202.5" fill="none" stroke="#f3ecdc" stroke-width="2.4" stroke-linecap="round" opacity="0.5" transform="translate(-1 -1.6)"/>
<path d="M467.3 182.9C478.6 188.5 489.1 196.1 501.2 199.8C518.5 205 537.3 201.6 555.4 202.5" fill="none" stroke="#d08c7a" stroke-width="2.2" stroke-dasharray="3 5" opacity="0.5"/>
<path d="M558.8 159.2C564.4 169.3 572.7 178.4 575.7 189.6C578 198.4 580.1 208.1 577.4 216.7C574.5 225.9 566.8 233.4 558.8 238.7C550 244.6 538.4 244.4 528.3 247.2" fill="none" stroke="#7c7466" stroke-width="12.4" stroke-linecap="round"/>
<path d="M558.8 159.2C564.4 169.3 572.7 178.4 575.7 189.6C578 198.4 580.1 208.1 577.4 216.7C574.5 225.9 566.8 233.4 558.8 238.7C550 244.6 538.4 244.4 528.3 247.2" fill="none" stroke="url(#aTube)" stroke-width="9.4" stroke-linecap="round"/>
<path d="M558.8 159.2C564.4 169.3 572.7 178.4 575.7 189.6C578 198.4 580.1 208.1 577.4 216.7C574.5 225.9 566.8 233.4 558.8 238.7C550 244.6 538.4 244.4 528.3 247.2" fill="none" stroke="#f3ecdc" stroke-width="2.4" stroke-linecap="round" opacity="0.5" transform="translate(-1 -1.6)"/>
<path d="M558.8 159.2C564.4 169.3 572.7 178.4 575.7 189.6C578 198.4 580.1 208.1 577.4 216.7C574.5 225.9 566.8 233.4 558.8 238.7C550 244.6 538.4 244.4 528.3 247.2" fill="none" stroke="#d08c7a" stroke-width="2.2" stroke-dasharray="3 5" opacity="0.5"/>
<path d="M272.6 169.3C283.3 177.2 292.9 186.9 304.8 193C315.4 198.5 327.4 200.9 338.6 204.9" fill="none" stroke="#7c7466" stroke-width="12.4" stroke-linecap="round"/>
<path d="M272.6 169.3C283.3 177.2 292.9 186.9 304.8 193C315.4 198.5 327.4 200.9 338.6 204.9" fill="none" stroke="url(#aTube)" stroke-width="9.4" stroke-linecap="round"/>
<path d="M272.6 169.3C283.3 177.2 292.9 186.9 304.8 193C315.4 198.5 327.4 200.9 338.6 204.9" fill="none" stroke="#f3ecdc" stroke-width="2.4" stroke-linecap="round" opacity="0.5" transform="translate(-1 -1.6)"/>
<path d="M272.6 169.3C283.3 177.2 292.9 186.9 304.8 193C315.4 198.5 327.4 200.9 338.6 204.9" fill="none" stroke="#d08c7a" stroke-width="2.2" stroke-dasharray="3 5" opacity="0.5"/>
<path d="M365.7 210.6C379.3 208.7 393.4 209.1 406.4 204.9C419.8 200.5 431.2 191.3 443.6 184.6" fill="none" stroke="#7c7466" stroke-width="12.4" stroke-linecap="round"/>
<path d="M365.7 210.6C379.3 208.7 393.4 209.1 406.4 204.9C419.8 200.5 431.2 191.3 443.6 184.6" fill="none" stroke="url(#aTube)" stroke-width="9.4" stroke-linecap="round"/>
<path d="M365.7 210.6C379.3 208.7 393.4 209.1 406.4 204.9C419.8 200.5 431.2 191.3 443.6 184.6" fill="none" stroke="#f3ecdc" stroke-width="2.4" stroke-linecap="round" opacity="0.5" transform="translate(-1 -1.6)"/>
<path d="M365.7 210.6C379.3 208.7 393.4 209.1 406.4 204.9C419.8 200.5 431.2 191.3 443.6 184.6" fill="none" stroke="#d08c7a" stroke-width="2.2" stroke-dasharray="3 5" opacity="0.5"/>
<path d="M213.3 159.2C203.7 169.3 191.6 177.6 184.6 189.6C177.4 201.9 172.2 216.1 172 230.3C171.9 241.8 173 254.6 179.5 264.1C186.3 274.1 198.7 279.3 210 283.8C224.8 289.7 241.5 288.9 257.4 289.5C273.2 290.2 289 289.3 304.8 287.8C320.7 286.3 336.4 282.9 352.2 280.4" fill="none" stroke="#7c7466" stroke-width="12.4" stroke-linecap="round"/>
<path d="M213.3 159.2C203.7 169.3 191.6 177.6 184.6 189.6C177.4 201.9 172.2 216.1 172 230.3C171.9 241.8 173 254.6 179.5 264.1C186.3 274.1 198.7 279.3 210 283.8C224.8 289.7 241.5 288.9 257.4 289.5C273.2 290.2 289 289.3 304.8 287.8C320.7 286.3 336.4 282.9 352.2 280.4" fill="none" stroke="url(#aTube)" stroke-width="9.4" stroke-linecap="round"/>
<path d="M213.3 159.2C203.7 169.3 191.6 177.6 184.6 189.6C177.4 201.9 172.2 216.1 172 230.3C171.9 241.8 173 254.6 179.5 264.1C186.3 274.1 198.7 279.3 210 283.8C224.8 289.7 241.5 288.9 257.4 289.5C273.2 290.2 289 289.3 304.8 287.8C320.7 286.3 336.4 282.9 352.2 280.4" fill="none" stroke="#f3ecdc" stroke-width="2.4" stroke-linecap="round" opacity="0.5" transform="translate(-1 -1.6)"/>
<path d="M213.3 159.2C203.7 169.3 191.6 177.6 184.6 189.6C177.4 201.9 172.2 216.1 172 230.3C171.9 241.8 173 254.6 179.5 264.1C186.3 274.1 198.7 279.3 210 283.8C224.8 289.7 241.5 288.9 257.4 289.5C273.2 290.2 289 289.3 304.8 287.8C320.7 286.3 336.4 282.9 352.2 280.4" fill="none" stroke="#d08c7a" stroke-width="2.2" stroke-dasharray="3 5" opacity="0.5"/>
<path d="M382.7 264.8C392.8 266.8 403.9 266.1 413.1 270.9C423.1 276.1 431.3 284.9 436.8 294.6C441.8 303.3 442.5 313.8 445.3 323.4" fill="none" stroke="#7c7466" stroke-width="12.4" stroke-linecap="round"/>
<path d="M382.7 264.8C392.8 266.8 403.9 266.1 413.1 270.9C423.1 276.1 431.3 284.9 436.8 294.6C441.8 303.3 442.5 313.8 445.3 323.4" fill="none" stroke="url(#aTube)" stroke-width="9.4" stroke-linecap="round"/>
<path d="M382.7 264.8C392.8 266.8 403.9 266.1 413.1 270.9C423.1 276.1 431.3 284.9 436.8 294.6C441.8 303.3 442.5 313.8 445.3 323.4" fill="none" stroke="#f3ecdc" stroke-width="2.4" stroke-linecap="round" opacity="0.5" transform="translate(-1 -1.6)"/>
<path d="M382.7 264.8C392.8 266.8 403.9 266.1 413.1 270.9C423.1 276.1 431.3 284.9 436.8 294.6C441.8 303.3 442.5 313.8 445.3 323.4" fill="none" stroke="#d08c7a" stroke-width="2.2" stroke-dasharray="3 5" opacity="0.5"/>
<path d="M497.8 247.2C488.8 254 478.5 259.4 470.7 267.5C462.3 276.3 454.4 286.5 450.4 298C447.8 305.6 447.7 313.8 446.3 321.7" fill="none" stroke="#7c7466" stroke-width="12.4" stroke-linecap="round"/>
<path d="M497.8 247.2C488.8 254 478.5 259.4 470.7 267.5C462.3 276.3 454.4 286.5 450.4 298C447.8 305.6 447.7 313.8 446.3 321.7" fill="none" stroke="url(#aTube)" stroke-width="9.4" stroke-linecap="round"/>
<path d="M497.8 247.2C488.8 254 478.5 259.4 470.7 267.5C462.3 276.3 454.4 286.5 450.4 298C447.8 305.6 447.7 313.8 446.3 321.7" fill="none" stroke="#f3ecdc" stroke-width="2.4" stroke-linecap="round" opacity="0.5" transform="translate(-1 -1.6)"/>
<path d="M497.8 247.2C488.8 254 478.5 259.4 470.7 267.5C462.3 276.3 454.4 286.5 450.4 298C447.8 305.6 447.7 313.8 446.3 321.7" fill="none" stroke="#d08c7a" stroke-width="2.2" stroke-dasharray="3 5" opacity="0.5"/>
<path d="M318.3 287.8C314.4 298 306.9 307.4 306.5 318.3C306.1 327.6 308.9 337.2 313.2 345.4C317.9 354.2 326.8 360.1 333.6 367.4" fill="none" stroke="#7c7466" stroke-width="12.4" stroke-linecap="round"/>
<path d="M318.3 287.8C314.4 298 306.9 307.4 306.5 318.3C306.1 327.6 308.9 337.2 313.2 345.4C317.9 354.2 326.8 360.1 333.6 367.4" fill="none" stroke="url(#aTube)" stroke-width="9.4" stroke-linecap="round"/>
<path d="M318.3 287.8C314.4 298 306.9 307.4 306.5 318.3C306.1 327.6 308.9 337.2 313.2 345.4C317.9 354.2 326.8 360.1 333.6 367.4" fill="none" stroke="#f3ecdc" stroke-width="2.4" stroke-linecap="round" opacity="0.5" transform="translate(-1 -1.6)"/>
<path d="M318.3 287.8C314.4 298 306.9 307.4 306.5 318.3C306.1 327.6 308.9 337.2 313.2 345.4C317.9 354.2 326.8 360.1 333.6 367.4" fill="none" stroke="#d08c7a" stroke-width="2.2" stroke-dasharray="3 5" opacity="0.5"/>
<path d="M345.4 379.3C354.4 387.2 362.3 396.6 372.5 403C382.9 409.5 395.1 412.5 406.4 417.2" fill="none" stroke="#7c7466" stroke-width="12.4" stroke-linecap="round"/>
<path d="M345.4 379.3C354.4 387.2 362.3 396.6 372.5 403C382.9 409.5 395.1 412.5 406.4 417.2" fill="none" stroke="url(#aTube)" stroke-width="9.4" stroke-linecap="round"/>
<path d="M345.4 379.3C354.4 387.2 362.3 396.6 372.5 403C382.9 409.5 395.1 412.5 406.4 417.2" fill="none" stroke="#f3ecdc" stroke-width="2.4" stroke-linecap="round" opacity="0.5" transform="translate(-1 -1.6)"/>
<path d="M345.4 379.3C354.4 387.2 362.3 396.6 372.5 403C382.9 409.5 395.1 412.5 406.4 417.2" fill="none" stroke="#d08c7a" stroke-width="2.2" stroke-dasharray="3 5" opacity="0.5"/>
<path d="M426.7 422.3C440.2 423.5 453.7 426.6 467.3 426C478.7 425.5 489.9 422.4 501.2 420.6" fill="none" stroke="#7c7466" stroke-width="12.4" stroke-linecap="round"/>
<path d="M426.7 422.3C440.2 423.5 453.7 426.6 467.3 426C478.7 425.5 489.9 422.4 501.2 420.6" fill="none" stroke="url(#aTube)" stroke-width="9.4" stroke-linecap="round"/>
<path d="M426.7 422.3C440.2 423.5 453.7 426.6 467.3 426C478.7 425.5 489.9 422.4 501.2 420.6" fill="none" stroke="#f3ecdc" stroke-width="2.4" stroke-linecap="round" opacity="0.5" transform="translate(-1 -1.6)"/>
<path d="M426.7 422.3C440.2 423.5 453.7 426.6 467.3 426C478.7 425.5 489.9 422.4 501.2 420.6" fill="none" stroke="#d08c7a" stroke-width="2.2" stroke-dasharray="3 5" opacity="0.5"/>
<path d="M270.9 301.4C266.4 311 265 322.8 257.4 330.2C251 336.3 242.1 339.5 233.7 342C226 344.3 217.9 344.3 210 345.4" fill="none" stroke="#7c7466" stroke-width="12.4" stroke-linecap="round"/>
<path d="M270.9 301.4C266.4 311 265 322.8 257.4 330.2C251 336.3 242.1 339.5 233.7 342C226 344.3 217.9 344.3 210 345.4" fill="none" stroke="url(#aTube)" stroke-width="9.4" stroke-linecap="round"/>
<path d="M270.9 301.4C266.4 311 265 322.8 257.4 330.2C251 336.3 242.1 339.5 233.7 342C226 344.3 217.9 344.3 210 345.4" fill="none" stroke="#f3ecdc" stroke-width="2.4" stroke-linecap="round" opacity="0.5" transform="translate(-1 -1.6)"/>
<path d="M270.9 301.4C266.4 311 265 322.8 257.4 330.2C251 336.3 242.1 339.5 233.7 342C226 344.3 217.9 344.3 210 345.4" fill="none" stroke="#d08c7a" stroke-width="2.2" stroke-dasharray="3 5" opacity="0.5"/>
<path d="M181.2 342C179.7 349.9 175.7 357.8 176.8 365.7C178 374.6 183.4 383 189.6 389.4C197.5 397.6 210 399.6 220.1 404.7" fill="none" stroke="#7c7466" stroke-width="12.4" stroke-linecap="round"/>
<path d="M181.2 342C179.7 349.9 175.7 357.8 176.8 365.7C178 374.6 183.4 383 189.6 389.4C197.5 397.6 210 399.6 220.1 404.7" fill="none" stroke="url(#aTube)" stroke-width="9.4" stroke-linecap="round"/>
<path d="M181.2 342C179.7 349.9 175.7 357.8 176.8 365.7C178 374.6 183.4 383 189.6 389.4C197.5 397.6 210 399.6 220.1 404.7" fill="none" stroke="#f3ecdc" stroke-width="2.4" stroke-linecap="round" opacity="0.5" transform="translate(-1 -1.6)"/>
<path d="M181.2 342C179.7 349.9 175.7 357.8 176.8 365.7C178 374.6 183.4 383 189.6 389.4C197.5 397.6 210 399.6 220.1 404.7" fill="none" stroke="#d08c7a" stroke-width="2.2" stroke-dasharray="3 5" opacity="0.5"/>
<path d="M451.1 338.6C453.3 346.8 452.3 356.6 457.8 363C462.8 368.7 470.6 373.3 478.2 373.2C485.5 373.1 492.1 367.7 497.8 363C503.7 358.3 507.3 351.3 512 345.4" fill="none" stroke="#7c7466" stroke-width="12.4" stroke-linecap="round"/>
<path d="M451.1 338.6C453.3 346.8 452.3 356.6 457.8 363C462.8 368.7 470.6 373.3 478.2 373.2C485.5 373.1 492.1 367.7 497.8 363C503.7 358.3 507.3 351.3 512 345.4" fill="none" stroke="url(#aTube)" stroke-width="9.4" stroke-linecap="round"/>
<path d="M451.1 338.6C453.3 346.8 452.3 356.6 457.8 363C462.8 368.7 470.6 373.3 478.2 373.2C485.5 373.1 492.1 367.7 497.8 363C503.7 358.3 507.3 351.3 512 345.4" fill="none" stroke="#f3ecdc" stroke-width="2.4" stroke-linecap="round" opacity="0.5" transform="translate(-1 -1.6)"/>
<path d="M451.1 338.6C453.3 346.8 452.3 356.6 457.8 363C462.8 368.7 470.6 373.3 478.2 373.2C485.5 373.1 492.1 367.7 497.8 363C503.7 358.3 507.3 351.3 512 345.4" fill="none" stroke="#d08c7a" stroke-width="2.2" stroke-dasharray="3 5" opacity="0.5"/>
<path d="M528.3 346.1C539.6 347 551.9 353.7 562.1 348.8C569.7 345.2 575.6 337.8 579.1 330.2C583.5 320.4 579.5 308.7 579.7 298" fill="none" stroke="#7c7466" stroke-width="12.4" stroke-linecap="round"/>
<path d="M528.3 346.1C539.6 347 551.9 353.7 562.1 348.8C569.7 345.2 575.6 337.8 579.1 330.2C583.5 320.4 579.5 308.7 579.7 298" fill="none" stroke="url(#aTube)" stroke-width="9.4" stroke-linecap="round"/>
<path d="M528.3 346.1C539.6 347 551.9 353.7 562.1 348.8C569.7 345.2 575.6 337.8 579.1 330.2C583.5 320.4 579.5 308.7 579.7 298" fill="none" stroke="#f3ecdc" stroke-width="2.4" stroke-linecap="round" opacity="0.5" transform="translate(-1 -1.6)"/>
<path d="M528.3 346.1C539.6 347 551.9 353.7 562.1 348.8C569.7 345.2 575.6 337.8 579.1 330.2C583.5 320.4 579.5 308.7 579.7 298" fill="none" stroke="#d08c7a" stroke-width="2.2" stroke-dasharray="3 5" opacity="0.5"/>
<path d="M233.7 182.9C237 187.9 238.9 194.5 243.8 198.1C247.7 201 252.9 201.5 257.4 203.2" fill="none" stroke="#7c7466" stroke-width="12.4" stroke-linecap="round"/>
<path d="M233.7 182.9C237 187.9 238.9 194.5 243.8 198.1C247.7 201 252.9 201.5 257.4 203.2" fill="none" stroke="url(#aTube)" stroke-width="9.4" stroke-linecap="round"/>
<path d="M233.7 182.9C237 187.9 238.9 194.5 243.8 198.1C247.7 201 252.9 201.5 257.4 203.2" fill="none" stroke="#f3ecdc" stroke-width="2.4" stroke-linecap="round" opacity="0.5" transform="translate(-1 -1.6)"/>
<path d="M233.7 182.9C237 187.9 238.9 194.5 243.8 198.1C247.7 201 252.9 201.5 257.4 203.2" fill="none" stroke="#d08c7a" stroke-width="2.2" stroke-dasharray="3 5" opacity="0.5"/>
<circle cx="220.9" cy="77.1" r="11" fill="url(#aGlow)"/>
<circle cx="307.1" cy="53.1" r="11" fill="url(#aGlow)"/>
<circle cx="370.1" cy="118.6" r="11" fill="url(#aGlow)"/>
<circle cx="217.6" cy="156.7" r="11" fill="url(#aGlow)"/>
<circle cx="255.7" cy="177.4" r="11" fill="url(#aGlow)"/>
<circle cx="260.7" cy="208.1" r="11" fill="url(#aGlow)"/>
<circle cx="356.9" cy="207.2" r="11" fill="url(#aGlow)"/>
<circle cx="464.4" cy="79.6" r="11" fill="url(#aGlow)"/>
<circle cx="577.1" cy="63" r="11" fill="url(#aGlow)"/>
<circle cx="447.8" cy="170.8" r="11" fill="url(#aGlow)"/>
<circle cx="548.9" cy="150.9" r="11" fill="url(#aGlow)"/>
<circle cx="558.8" cy="202.3" r="11" fill="url(#aGlow)"/>
<circle cx="169.6" cy="269.8" r="11" fill="url(#aGlow)"/>
<circle cx="277.3" cy="276.4" r="11" fill="url(#aGlow)"/>
<circle cx="353.5" cy="269.8" r="11" fill="url(#aGlow)"/>
<circle cx="202.7" cy="353.5" r="11" fill="url(#aGlow)"/>
<circle cx="230.1" cy="414" r="11" fill="url(#aGlow)"/>
<circle cx="341.9" cy="367.6" r="11" fill="url(#aGlow)"/>
<circle cx="525.7" cy="248.2" r="11" fill="url(#aGlow)"/>
<circle cx="575.4" cy="281.4" r="11" fill="url(#aGlow)"/>
<circle cx="451.1" cy="328.6" r="11" fill="url(#aGlow)"/>
<circle cx="515.7" cy="340.2" r="11" fill="url(#aGlow)"/>
<circle cx="416.3" cy="414" r="11" fill="url(#aGlow)"/>
<circle cx="505.8" cy="414" r="11" fill="url(#aGlow)"/></g>
<line x1="323.4" y1="56.2" x2="347.1" y2="47.4" stroke="#111" stroke-width="2.6" />
<line x1="303" y1="112" x2="322" y2="103.5" stroke="#111" stroke-width="2.6" />
<text font-family='"Liberation Sans", sans-serif' font-size="22.5" font-weight="bold" fill="#111" textLength="30.5" lengthAdjust="spacingAndGlyphs" transform="translate(351.5 53.4) rotate(-4)" stroke="#111" stroke-width="0.5">PB</text>
<text font-family='"Liberation Sans", sans-serif' font-size="22" font-weight="bold" fill="#111" textLength="42" lengthAdjust="spacingAndGlyphs" transform="translate(261 127.2) rotate(-9)" stroke="#111" stroke-width="0.5">CNT</text>
<text font-family='"Liberation Sans", sans-serif' font-size="20" font-weight="bold" fill="#c2343c" x="177.5" y="86.5">e<tspan font-size="14" dy="-9">-</tspan><tspan dy="9">&#8203;</tspan></text>
<text font-family='"Liberation Sans", sans-serif' font-size="19.5" font-weight="bold" fill="#b3303a" textLength="33" lengthAdjust="spacingAndGlyphs" x="590.5" y="122">Na<tspan font-size="13" dy="-9">+</tspan><tspan dy="9">&#8203;</tspan></text>
</g>
<g id="panel-b">
<path d="M856.1 74.1C857.4 82.3 858.3 90.6 860 98.8C861.4 105.4 862.7 112.1 864.9 118.6C866.3 122.8 867.5 127.2 869.8 131C873.6 137.2 880.3 141 885.7 145.8C891.7 151.3 897.8 156.8 904.1 161.9C910 166.7 917.1 170.2 922.4 175.6C925.1 178.4 927.9 181.1 929.8 184.4C931.8 187.8 932.1 191.9 933.8 195.5C935.1 198.3 936.6 201.1 938.4 203.7C940.8 207.1 943.6 210.3 946.9 212.9C951.9 216.8 958.2 218.6 964.1 220.9C970.5 223.4 977.1 225.1 983.7 227C991.8 229.3 999.9 231.5 1008.2 233.1C1017.1 234.8 1026.1 235.7 1035 236.9C1045.5 238.3 1056.1 239.2 1066.7 240.5C1079.5 242 1092.4 243.2 1105.2 245.4C1118.1 247.6 1131 250.3 1143.6 253.9C1152.4 256.4 1161.4 258.7 1169.8 262.5C1174.5 264.7 1179.4 266.8 1183.7 269.9C1187.5 272.7 1191.2 275.8 1193.9 279.7C1197.3 284.4 1198.4 290.3 1200.5 295.6C1202.9 301.6 1205.1 307.8 1207.1 313.9C1210 322.5 1212.3 331.3 1214.9 340" fill="none" stroke="#b9dbe6" stroke-width="2.1" stroke-linecap="butt"/>
<path d="M856.1 324.1C857 316.2 857.8 308.3 858.8 300.4C859.9 292.3 860.4 284 862.4 276.1C863.4 272 864.2 267.8 866.1 264.1C868 260.5 870.7 257.3 873.5 254.4C877.1 250.9 881.4 248 885.7 245.4C891.4 242 897.9 240 904.1 237.6C910.1 235.3 916.2 233.1 922.4 231.1C930.5 228.6 938.7 226.5 946.9 224.6C953 223.2 959.1 222 965.3 220.9C975.5 219 985.7 217.5 995.9 216C1008.9 214.1 1022 212.8 1035 211C1045.6 209.5 1056.2 208.3 1066.7 206.2C1072.2 205.1 1077.7 204.1 1083 202.5C1088.7 200.8 1094.4 198.8 1099.7 196C1104 193.8 1108.5 191.7 1111.8 188.2C1115.1 184.8 1116.9 180.2 1119 176C1121.4 171.3 1122.2 165.8 1125 161.3C1127.3 157.7 1130.4 154.5 1133.5 151.5C1137.5 147.7 1142.2 144.7 1146.8 141.7C1153.1 137.6 1160.1 134.8 1166.3 130.7C1170.9 127.7 1175.5 124.5 1179.6 120.9C1183.5 117.5 1187.4 114 1190.5 109.9C1194.6 104.7 1197 98.4 1200.2 92.7C1205.4 83.6 1210.8 74.6 1216.1 65.5" fill="none" stroke="#b9dbe6" stroke-width="2.1" />
<path d="M856.1 74.1C857.4 82.3 858.3 90.5 860 98.6C861.4 105.2 862.7 111.8 864.9 118.2C866.3 122.3 867.5 126.7 869.8 130.4C873.6 136.6 880.3 140.3 885.7 145.1C891.7 150.5 897.8 155.9 904.1 161C910 165.7 917 169.1 922.4 174.5C925.1 177.2 927.9 179.8 929.8 183.1C931.8 186.4 932.2 190.5 933.8 194C935.1 196.8 936.6 199.6 938.4 202.2C940.8 205.6 943.6 208.8 946.9 211.4C951.9 215.3 958.2 217.1 964.1 219.4C970.5 221.9 977.1 223.6 983.7 225.5C991.8 227.8 999.9 230 1008.2 231.6C1017.1 233.3 1026.1 234.2 1035 235.4C1045.5 236.8 1056.1 237.7 1066.7 239C1079.2 240.5 1091.8 241.7 1104.2 243.9C1116.8 246.1 1129.3 248.8 1141.6 252.4C1150.1 254.9 1158.8 257.1 1166.8 261C1171.2 263.2 1175.8 265.3 1179.7 268.4C1183.2 271.2 1186.5 274.4 1188.9 278.2C1192 282.9 1192.8 288.8 1194.5 294.1C1196.5 300.2 1198.4 306.3 1200.1 312.4C1202.7 321.5 1204.6 330.8 1206.9 340" fill="none" stroke="#5f8fa6" stroke-width="2.1" stroke-linecap="butt"/>
<path d="M856.1 324.1C857 316.1 857.8 308.2 858.8 300.2C859.9 292 860.4 283.7 862.4 275.7C863.4 271.6 864.2 267.3 866.1 263.5C868 259.9 870.6 256.6 873.5 253.7C877 250 881.3 247.1 885.7 244.5C891.4 241 897.9 239 904.1 236.5C910.1 234.1 916.2 231.8 922.4 229.8C930.5 227.2 938.7 225 946.9 223.1C953 221.7 959.1 220.5 965.3 219.4C975.5 217.5 985.7 216 995.9 214.5C1008.9 212.6 1022 211.3 1035 209.5C1045.6 208 1056.2 206.8 1066.7 204.7C1072.2 203.6 1077.7 202.7 1083 201C1088.5 199.3 1094 197.3 1099 194.5C1103.1 192.3 1107.4 190.1 1110.5 186.7C1113.6 183.3 1115.1 178.7 1117 174.5C1119.2 169.8 1119.8 164.3 1122.4 159.8C1124.5 156.2 1127.3 153 1130.2 150C1134 146.2 1138.5 143.2 1142.9 140.2C1148.9 136.1 1155.8 133.3 1161.8 129.2C1166.1 126.2 1170.5 123 1174.4 119.4C1178.1 116 1181.7 112.4 1184.6 108.4C1188.5 103.2 1190.6 96.9 1193.7 91.2C1198.5 82.5 1203.8 74.1 1208.9 65.5" fill="none" stroke="#5f8fa6" stroke-width="2.1" />
<path d="M856.1 74.1C857.4 82.3 858.3 90.5 860 98.6C861.4 105.2 862.7 111.8 864.9 118.2C866.3 122.3 867.5 126.7 869.8 130.4C873.6 136.6 880.3 140.3 885.7 145.1C891.7 150.5 897.8 155.9 904.1 161C910 165.7 917 169.1 922.4 174.5C925.1 177.2 927.9 179.8 929.8 183.1C931.8 186.4 932.2 190.5 933.8 194C935.1 196.8 936.6 199.6 938.4 202.2C940.8 205.6 943.6 208.8 946.9 211.4C951.9 215.3 958.2 217.1 964.1 219.4C970.5 221.9 977.1 223.6 983.7 225.5C991.8 227.8 999.9 230 1008.2 231.6C1017.1 233.3 1026.1 234.2 1035 235.4C1045.5 236.8 1056.1 237.7 1066.7 239C1079.1 240.5 1091.6 241.7 1103.9 243.9C1116.4 246.1 1128.9 248.8 1141.1 252.4C1149.5 254.9 1158.1 257.1 1166 261C1170.4 263.2 1174.9 265.3 1178.7 268.4C1182.1 271.2 1185.3 274.4 1187.7 278.2C1190.7 282.9 1191.3 288.8 1193 294.1C1194.9 300.2 1196.7 306.3 1198.4 312.4C1200.8 321.5 1202.7 330.8 1204.9 340" fill="none" stroke="#3f8592" stroke-width="2.1" stroke-linecap="butt"/>
<path d="M856.1 324.1C857 316.1 857.8 308.2 858.8 300.2C859.9 292 860.4 283.7 862.4 275.7C863.4 271.6 864.2 267.3 866.1 263.5C868 259.9 870.6 256.6 873.5 253.7C877 250 881.3 247.1 885.7 244.5C891.4 241 897.9 239 904.1 236.5C910.1 234.1 916.2 231.8 922.4 229.8C930.5 227.2 938.7 225 946.9 223.1C953 221.7 959.1 220.5 965.3 219.4C975.5 217.5 985.7 216 995.9 214.5C1008.9 212.6 1022 211.3 1035 209.5C1045.6 208 1056.2 206.8 1066.7 204.7C1072.2 203.6 1077.7 202.7 1083 201C1088.5 199.3 1093.9 197.3 1098.9 194.5C1102.9 192.3 1107.1 190.1 1110.2 186.7C1113.2 183.3 1114.7 178.7 1116.6 174.5C1118.7 169.7 1119.2 164.3 1121.7 159.8C1123.8 156.2 1126.5 153 1129.4 150C1133.1 146.2 1137.6 143.2 1141.9 140.2C1147.8 136.1 1154.7 133.3 1160.6 129.2C1164.9 126.2 1169.2 123 1173.1 119.4C1176.7 116 1180.3 112.4 1183.2 108.4C1187 103.2 1189 96.9 1192.1 91.2C1196.8 82.5 1202.1 74.1 1207.1 65.5" fill="none" stroke="#3f8592" stroke-width="2.1" />
<path d="M856.1 74.1C857.4 82.3 858.3 90.5 860 98.6C861.4 105.2 862.7 111.8 864.9 118.2C866.3 122.3 867.5 126.7 869.8 130.4C873.6 136.6 880.3 140.3 885.7 145.1C891.7 150.5 897.8 155.9 904.1 161C910 165.7 917 169.1 922.4 174.5C925.1 177.2 927.9 179.8 929.8 183.1C931.8 186.4 932.2 190.5 933.8 194C935.1 196.8 936.6 199.6 938.4 202.2C940.8 205.6 943.6 208.8 946.9 211.4C951.9 215.3 958.2 217.1 964.1 219.4C970.5 221.9 977.1 223.6 983.7 225.5C991.8 227.8 999.9 230 1008.2 231.6C1017.1 233.3 1026.1 234.2 1035 235.4C1045.5 236.8 1056.1 237.7 1066.7 239C1079 240.5 1091.3 241.7 1103.5 243.9C1115.9 246.1 1128.2 248.8 1140.2 252.4C1148.5 254.9 1157 257.1 1164.7 261C1168.9 263.2 1173.3 265.3 1176.9 268.4C1180.2 271.2 1183.3 274.5 1185.5 278.2C1188.3 283 1188.9 288.8 1190.4 294.1C1192.2 300.2 1193.8 306.3 1195.3 312.4C1197.6 321.5 1199.4 330.8 1201.4 340" fill="none" stroke="#2c356f" stroke-width="2.1" stroke-linecap="butt"/>
<path d="M856.1 324.1C857 316.1 857.8 308.2 858.8 300.2C859.9 292 860.4 283.7 862.4 275.7C863.4 271.6 864.2 267.3 866.1 263.5C868 259.9 870.6 256.6 873.5 253.7C877 250 881.3 247.1 885.7 244.5C891.4 241 897.9 239 904.1 236.5C910.1 234.1 916.2 231.8 922.4 229.8C930.5 227.2 938.7 225 946.9 223.1C953 221.7 959.1 220.5 965.3 219.4C975.5 217.5 985.7 216 995.9 214.5C1008.9 212.6 1022 211.3 1035 209.5C1045.6 208 1056.2 206.8 1066.7 204.7C1072.2 203.6 1077.7 202.7 1083 201C1088.4 199.3 1093.7 197.3 1098.6 194.5C1102.5 192.3 1106.7 190.1 1109.6 186.7C1112.6 183.3 1113.9 178.7 1115.7 174.5C1117.7 169.7 1118.1 164.3 1120.6 159.8C1122.6 156.2 1125.2 153 1128 150C1131.6 146.2 1136 143.2 1140.2 140.2C1146 136.1 1152.8 133.3 1158.6 129.2C1162.8 126.2 1167 123 1170.8 119.4C1174.4 116 1177.8 112.4 1180.6 108.4C1184.3 103.2 1186.2 96.9 1189.2 91.2C1193.8 82.5 1199 74.1 1203.9 65.5" fill="none" stroke="#2c356f" stroke-width="2.1" />
<rect x="805.5" y="35.8" width="457.1" height="336" fill="none" stroke="#444444" stroke-width="2.6"/>
<line x1="805.5" y1="341.2" x2="813.5" y2="341.2" stroke="#444444" stroke-width="2.1" />
<line x1="805.5" y1="309.9" x2="810" y2="309.9" stroke="#444444" stroke-width="2.1" />
<line x1="805.5" y1="278.7" x2="813.5" y2="278.7" stroke="#444444" stroke-width="2.1" />
<line x1="805.5" y1="247.4" x2="810" y2="247.4" stroke="#444444" stroke-width="2.1" />
<line x1="805.5" y1="216.2" x2="813.5" y2="216.2" stroke="#444444" stroke-width="2.1" />
<line x1="805.5" y1="184.9" x2="810" y2="184.9" stroke="#444444" stroke-width="2.1" />
<line x1="805.5" y1="153.7" x2="813.5" y2="153.7" stroke="#444444" stroke-width="2.1" />
<line x1="805.5" y1="122.4" x2="810" y2="122.4" stroke="#444444" stroke-width="2.1" />
<line x1="805.5" y1="91.2" x2="813.5" y2="91.2" stroke="#444444" stroke-width="2.1" />
<line x1="805.5" y1="59.9" x2="810" y2="59.9" stroke="#444444" stroke-width="2.1" />
<line x1="856" y1="371.8" x2="856" y2="363.8" stroke="#444444" stroke-width="2.1" />
<line x1="919.7" y1="371.8" x2="919.7" y2="367.3" stroke="#444444" stroke-width="2.1" />
<line x1="983.3" y1="371.8" x2="983.3" y2="363.8" stroke="#444444" stroke-width="2.1" />
<line x1="1047" y1="371.8" x2="1047" y2="367.3" stroke="#444444" stroke-width="2.1" />
<line x1="1110.6" y1="371.8" x2="1110.6" y2="363.8" stroke="#444444" stroke-width="2.1" />
<line x1="1174.3" y1="371.8" x2="1174.3" y2="367.3" stroke="#444444" stroke-width="2.1" />
<line x1="1238" y1="371.8" x2="1238" y2="363.8" stroke="#444444" stroke-width="2.1" />
<text font-family='"Liberation Sans", sans-serif' font-size="24.5" text-anchor="end" fill="#2b2b2b" letter-spacing="-0.8" x="797.5" y="95.4" stroke="#2b2b2b" stroke-width="1.15" stroke-linejoin="round">4.0</text>
<text font-family='"Liberation Sans", sans-serif' font-size="24.5" text-anchor="end" fill="#2b2b2b" letter-spacing="-0.8" x="797.5" y="157.9" stroke="#2b2b2b" stroke-width="1.15" stroke-linejoin="round">3.5</text>
<text font-family='"Liberation Sans", sans-serif' font-size="24.5" text-anchor="end" fill="#2b2b2b" letter-spacing="-0.8" x="797.5" y="220.4" stroke="#2b2b2b" stroke-width="1.15" stroke-linejoin="round">3.0</text>
<text font-family='"Liberation Sans", sans-serif' font-size="24.5" text-anchor="end" fill="#2b2b2b" letter-spacing="-0.8" x="797.5" y="282.9" stroke="#2b2b2b" stroke-width="1.15" stroke-linejoin="round">2.5</text>
<text font-family='"Liberation Sans", sans-serif' font-size="24.5" text-anchor="end" fill="#2b2b2b" letter-spacing="-0.8" x="797.5" y="345.4" stroke="#2b2b2b" stroke-width="1.15" stroke-linejoin="round">2.0</text>
<text font-family='"Liberation Sans", sans-serif' font-size="24.5" text-anchor="middle" fill="#2b2b2b" letter-spacing="-1.3" x="855" y="398.2" stroke="#2b2b2b" stroke-width="1.15" stroke-linejoin="round">0</text>
<text font-family='"Liberation Sans", sans-serif' font-size="24.5" text-anchor="middle" fill="#2b2b2b" letter-spacing="-1.3" x="982.5" y="398.2" stroke="#2b2b2b" stroke-width="1.15" stroke-linejoin="round">50</text>
<text font-family='"Liberation Sans", sans-serif' font-size="24.5" text-anchor="middle" fill="#2b2b2b" letter-spacing="-1.3" x="1110" y="398.2" stroke="#2b2b2b" stroke-width="1.15" stroke-linejoin="round">100</text>
<text font-family='"Liberation Sans", sans-serif' font-size="24.5" text-anchor="middle" fill="#2b2b2b" letter-spacing="-1.3" x="1238" y="398.2" stroke="#2b2b2b" stroke-width="1.15" stroke-linejoin="round">150</text>
<text font-family='"Liberation Sans", sans-serif' font-size="31" fill="#2b2b2b" textLength="391" lengthAdjust="spacingAndGlyphs" x="834" y="434.5" stroke="#2b2b2b" stroke-width="1.3" stroke-linejoin="round" xml:space="preserve">Specific capacity  (mA h g<tspan font-size="17" dy="-12">-1</tspan><tspan dy="12">&#8203;</tspan>)</text>
<text font-family='"Liberation Sans", sans-serif' font-size="31" fill="#2b2b2b" textLength="311" lengthAdjust="spacingAndGlyphs" transform="translate(750 361) rotate(-90)" stroke="#2b2b2b" stroke-width="1.3" stroke-linejoin="round">Voltage vs Na<tspan font-size="17" dy="-12">+</tspan><tspan dy="12">&#8203;</tspan>/Na (V)</text>
<line x1="973.9" y1="71.3" x2="1018" y2="71.3" stroke="#b9d6da" stroke-width="3" />
<text font-family='"Liberation Sans", sans-serif' font-size="25" fill="#3a3a3a" letter-spacing="-0.5" x="1024" y="79.1" stroke="#3a3a3a" stroke-width="0.5">2<tspan font-size="15" dy="-10.5">nd</tspan><tspan dy="10.5">&#8203;</tspan></text>
<line x1="973.9" y1="101.3" x2="1018" y2="101.3" stroke="#6a8c9c" stroke-width="3" />
<text font-family='"Liberation Sans", sans-serif' font-size="25" fill="#3a3a3a" letter-spacing="-0.5" x="1024" y="109.1" stroke="#3a3a3a" stroke-width="0.5">20<tspan font-size="15" dy="-10.5">th</tspan><tspan dy="10.5">&#8203;</tspan></text>
<line x1="973.9" y1="133.8" x2="1018" y2="133.8" stroke="#56909a" stroke-width="3" />
<text font-family='"Liberation Sans", sans-serif' font-size="25" fill="#3a3a3a" letter-spacing="-0.5" x="1024" y="141.6" stroke="#3a3a3a" stroke-width="0.5">50<tspan font-size="15" dy="-10.5">th</tspan><tspan dy="10.5">&#8203;</tspan></text>
<line x1="973.9" y1="161" x2="1018" y2="161" stroke="#45457a" stroke-width="3" />
<text font-family='"Liberation Sans", sans-serif' font-size="25" fill="#3a3a3a" letter-spacing="-0.5" x="1024" y="168.8" stroke="#3a3a3a" stroke-width="0.5">100<tspan font-size="15" dy="-10.5">th</tspan><tspan dy="10.5">&#8203;</tspan></text>
</g>
<g id="panel-c">
<line x1="1542" y1="32.8" x2="1542" y2="393.5" stroke="#222" stroke-width="2.2" stroke-dasharray="7 4"/>
<line x1="1613.6" y1="32.8" x2="1613.6" y2="393.5" stroke="#222" stroke-width="2.2" stroke-dasharray="7 4"/>
<line x1="1682.8" y1="32.8" x2="1682.8" y2="393.5" stroke="#222" stroke-width="2.2" stroke-dasharray="7 4"/>
<line x1="1753" y1="32.8" x2="1753" y2="393.5" stroke="#222" stroke-width="2.2" stroke-dasharray="7 4"/>
<line x1="1821" y1="32.8" x2="1821" y2="393.5" stroke="#222" stroke-width="2.2" stroke-dasharray="7 4"/>
<polyline points="1480,177.4 1494.1,183.7 1508.1,183.7 1522.1,183.7 1536.1,183.7 1550.2,192.8 1564.2,194.9 1578.2,194.9 1592.2,194.9 1606.3,194.9 1620.3,201.9 1634.3,204.7 1648.3,204.7 1662.4,204.7 1676.4,204.7 1690.4,213.1 1704.5,218.7 1718.5,218.7 1732.5,218.7 1746.5,218.7 1760.6,225 1774.6,229.9 1788.6,229.9 1802.6,229.9 1816.7,229.9 1830.7,250.2 1844.7,257.2 1858.7,257.2 1872.8,257.2 1886.8,257.2" fill="none" stroke="#2a3f94" stroke-width="2.6" />
<polygon points="1480,166.6 1486.2,177.4 1473.8,177.4" fill="#eef1fb" stroke="#2a3f94" stroke-width="2.6"/>
<polygon points="1494.1,172.9 1500.3,183.7 1487.9,183.7" fill="#eef1fb" stroke="#2a3f94" stroke-width="2.6"/>
<polygon points="1508.1,172.9 1514.3,183.7 1501.9,183.7" fill="#eef1fb" stroke="#2a3f94" stroke-width="2.6"/>
<polygon points="1522.1,172.9 1528.3,183.7 1515.9,183.7" fill="#eef1fb" stroke="#2a3f94" stroke-width="2.6"/>
<polygon points="1536.1,172.9 1542.3,183.7 1529.9,183.7" fill="#eef1fb" stroke="#2a3f94" stroke-width="2.6"/>
<polygon points="1550.2,182 1556.4,192.8 1544,192.8" fill="#eef1fb" stroke="#2a3f94" stroke-width="2.6"/>
<polygon points="1564.2,184.1 1570.4,194.9 1558,194.9" fill="#eef1fb" stroke="#2a3f94" stroke-width="2.6"/>
<polygon points="1578.2,184.1 1584.4,194.9 1572,194.9" fill="#eef1fb" stroke="#2a3f94" stroke-width="2.6"/>
<polygon points="1592.2,184.1 1598.4,194.9 1586,194.9" fill="#eef1fb" stroke="#2a3f94" stroke-width="2.6"/>
<polygon points="1606.3,184.1 1612.5,194.9 1600.1,194.9" fill="#eef1fb" stroke="#2a3f94" stroke-width="2.6"/>
<polygon points="1620.3,191.1 1626.5,201.9 1614.1,201.9" fill="#eef1fb" stroke="#2a3f94" stroke-width="2.6"/>
<polygon points="1634.3,193.9 1640.5,204.7 1628.1,204.7" fill="#eef1fb" stroke="#2a3f94" stroke-width="2.6"/>
<polygon points="1648.3,193.9 1654.5,204.7 1642.1,204.7" fill="#eef1fb" stroke="#2a3f94" stroke-width="2.6"/>
<polygon points="1662.4,193.9 1668.6,204.7 1656.2,204.7" fill="#eef1fb" stroke="#2a3f94" stroke-width="2.6"/>
<polygon points="1676.4,193.9 1682.6,204.7 1670.2,204.7" fill="#eef1fb" stroke="#2a3f94" stroke-width="2.6"/>
<polygon points="1690.4,202.3 1696.6,213.1 1684.2,213.1" fill="#eef1fb" stroke="#2a3f94" stroke-width="2.6"/>
<polygon points="1704.5,207.9 1710.7,218.7 1698.3,218.7" fill="#eef1fb" stroke="#2a3f94" stroke-width="2.6"/>
<polygon points="1718.5,207.9 1724.7,218.7 1712.3,218.7" fill="#eef1fb" stroke="#2a3f94" stroke-width="2.6"/>
<polygon points="1732.5,207.9 1738.7,218.7 1726.3,218.7" fill="#eef1fb" stroke="#2a3f94" stroke-width="2.6"/>
<polygon points="1746.5,207.9 1752.7,218.7 1740.3,218.7" fill="#eef1fb" stroke="#2a3f94" stroke-width="2.6"/>
<polygon points="1760.6,214.2 1766.8,225 1754.4,225" fill="#eef1fb" stroke="#2a3f94" stroke-width="2.6"/>
<polygon points="1774.6,219.1 1780.8,229.9 1768.4,229.9" fill="#eef1fb" stroke="#2a3f94" stroke-width="2.6"/>
<polygon points="1788.6,219.1 1794.8,229.9 1782.4,229.9" fill="#eef1fb" stroke="#2a3f94" stroke-width="2.6"/>
<polygon points="1802.6,219.1 1808.8,229.9 1796.4,229.9" fill="#eef1fb" stroke="#2a3f94" stroke-width="2.6"/>
<polygon points="1816.7,219.1 1822.9,229.9 1810.5,229.9" fill="#eef1fb" stroke="#2a3f94" stroke-width="2.6"/>
<polygon points="1830.7,239.4 1836.9,250.2 1824.5,250.2" fill="#eef1fb" stroke="#2a3f94" stroke-width="2.6"/>
<polygon points="1844.7,246.4 1850.9,257.2 1838.5,257.2" fill="#eef1fb" stroke="#2a3f94" stroke-width="2.6"/>
<polygon points="1858.7,246.4 1864.9,257.2 1852.5,257.2" fill="#eef1fb" stroke="#2a3f94" stroke-width="2.6"/>
<polygon points="1872.8,246.4 1879,257.2 1866.6,257.2" fill="#eef1fb" stroke="#2a3f94" stroke-width="2.6"/>
<polygon points="1886.8,246.4 1893,257.2 1880.6,257.2" fill="#eef1fb" stroke="#2a3f94" stroke-width="2.6"/>
<polyline points="1480,120.6 1494.1,129 1508.1,129.7 1522.1,129.7 1536.1,129.7 1550.2,140.2 1564.2,145.1 1578.2,145.1 1592.2,145.1 1606.3,145.1 1620.3,150.7 1634.3,155.6 1648.3,155.6 1662.4,155.6 1676.4,155.6 1690.4,159.8 1704.5,164 1718.5,164 1732.5,164 1746.5,164 1760.6,167.5 1774.6,170.3 1788.6,170.3 1802.6,170.3 1816.7,170.3 1830.7,180.8 1844.7,184.3 1858.7,184.3 1872.8,184.3 1886.8,184.3" fill="none" stroke="#83a43a" stroke-width="2" />
<circle cx="1480" cy="120.6" r="5" fill="#e6f3bd" stroke="#83a43a" stroke-width="2.7"/>
<circle cx="1494.1" cy="129" r="5" fill="#e6f3bd" stroke="#83a43a" stroke-width="2.7"/>
<circle cx="1508.1" cy="129.7" r="5" fill="#e6f3bd" stroke="#83a43a" stroke-width="2.7"/>
<circle cx="1522.1" cy="129.7" r="5" fill="#e6f3bd" stroke="#83a43a" stroke-width="2.7"/>
<circle cx="1536.1" cy="129.7" r="5" fill="#e6f3bd" stroke="#83a43a" stroke-width="2.7"/>
<circle cx="1550.2" cy="140.2" r="5" fill="#e6f3bd" stroke="#83a43a" stroke-width="2.7"/>
<circle cx="1564.2" cy="145.1" r="5" fill="#e6f3bd" stroke="#83a43a" stroke-width="2.7"/>
<circle cx="1578.2" cy="145.1" r="5" fill="#e6f3bd" stroke="#83a43a" stroke-width="2.7"/>
<circle cx="1592.2" cy="145.1" r="5" fill="#e6f3bd" stroke="#83a43a" stroke-width="2.7"/>
<circle cx="1606.3" cy="145.1" r="5" fill="#e6f3bd" stroke="#83a43a" stroke-width="2.7"/>
<circle cx="1620.3" cy="150.7" r="5" fill="#e6f3bd" stroke="#83a43a" stroke-width="2.7"/>
<circle cx="1634.3" cy="155.6" r="5" fill="#e6f3bd" stroke="#83a43a" stroke-width="2.7"/>
<circle cx="1648.3" cy="155.6" r="5" fill="#e6f3bd" stroke="#83a43a" stroke-width="2.7"/>
<circle cx="1662.4" cy="155.6" r="5" fill="#e6f3bd" stroke="#83a43a" stroke-width="2.7"/>
<circle cx="1676.4" cy="155.6" r="5" fill="#e6f3bd" stroke="#83a43a" stroke-width="2.7"/>
<circle cx="1690.4" cy="159.8" r="5" fill="#e6f3bd" stroke="#83a43a" stroke-width="2.7"/>
<circle cx="1704.5" cy="164" r="5" fill="#e6f3bd" stroke="#83a43a" stroke-width="2.7"/>
<circle cx="1718.5" cy="164" r="5" fill="#e6f3bd" stroke="#83a43a" stroke-width="2.7"/>
<circle cx="1732.5" cy="164" r="5" fill="#e6f3bd" stroke="#83a43a" stroke-width="2.7"/>
<circle cx="1746.5" cy="164" r="5" fill="#e6f3bd" stroke="#83a43a" stroke-width="2.7"/>
<circle cx="1760.6" cy="167.5" r="5" fill="#e6f3bd" stroke="#83a43a" stroke-width="2.7"/>
<circle cx="1774.6" cy="170.3" r="5" fill="#e6f3bd" stroke="#83a43a" stroke-width="2.7"/>
<circle cx="1788.6" cy="170.3" r="5" fill="#e6f3bd" stroke="#83a43a" stroke-width="2.7"/>
<circle cx="1802.6" cy="170.3" r="5" fill="#e6f3bd" stroke="#83a43a" stroke-width="2.7"/>
<circle cx="1816.7" cy="170.3" r="5" fill="#e6f3bd" stroke="#83a43a" stroke-width="2.7"/>
<circle cx="1830.7" cy="180.8" r="5" fill="#e6f3bd" stroke="#83a43a" stroke-width="2.7"/>
<circle cx="1844.7" cy="184.3" r="5" fill="#e6f3bd" stroke="#83a43a" stroke-width="2.7"/>
<circle cx="1858.7" cy="184.3" r="5" fill="#e6f3bd" stroke="#83a43a" stroke-width="2.7"/>
<circle cx="1872.8" cy="184.3" r="5" fill="#e6f3bd" stroke="#83a43a" stroke-width="2.7"/>
<circle cx="1886.8" cy="184.3" r="5" fill="#e6f3bd" stroke="#83a43a" stroke-width="2.7"/>
<polyline points="1480,103.1 1494.1,103.1 1508.1,103.1 1522.1,108 1536.1,105.2 1550.2,112.2 1564.2,116.4 1578.2,115 1592.2,116.4 1606.3,119.2 1620.3,123.4 1634.3,129 1648.3,129 1662.4,129 1676.4,129 1690.4,133.2 1704.5,140.2 1718.5,140.2 1732.5,140.2 1746.5,140.2 1760.6,144.4 1774.6,148.6 1788.6,148.6 1802.6,148.6 1816.7,148.6 1830.7,151.4 1844.7,158.4 1858.7,159.8 1872.8,159.8 1886.8,159.8" fill="none" stroke="#ae4034" stroke-width="2" />
<rect x="1475.4" y="98.5" width="9.2" height="9.2" fill="#fbe3d6" stroke="#ae4034" stroke-width="2.7"/>
<rect x="1489.5" y="98.5" width="9.2" height="9.2" fill="#fbe3d6" stroke="#ae4034" stroke-width="2.7"/>
<rect x="1503.5" y="98.5" width="9.2" height="9.2" fill="#fbe3d6" stroke="#ae4034" stroke-width="2.7"/>
<rect x="1517.5" y="103.4" width="9.2" height="9.2" fill="#fbe3d6" stroke="#ae4034" stroke-width="2.7"/>
<rect x="1531.5" y="100.6" width="9.2" height="9.2" fill="#fbe3d6" stroke="#ae4034" stroke-width="2.7"/>
<rect x="1545.6" y="107.6" width="9.2" height="9.2" fill="#fbe3d6" stroke="#ae4034" stroke-width="2.7"/>
<rect x="1559.6" y="111.8" width="9.2" height="9.2" fill="#fbe3d6" stroke="#ae4034" stroke-width="2.7"/>
<rect x="1573.6" y="110.4" width="9.2" height="9.2" fill="#fbe3d6" stroke="#ae4034" stroke-width="2.7"/>
<rect x="1587.6" y="111.8" width="9.2" height="9.2" fill="#fbe3d6" stroke="#ae4034" stroke-width="2.7"/>
<rect x="1601.7" y="114.6" width="9.2" height="9.2" fill="#fbe3d6" stroke="#ae4034" stroke-width="2.7"/>
<rect x="1615.7" y="118.8" width="9.2" height="9.2" fill="#fbe3d6" stroke="#ae4034" stroke-width="2.7"/>
<rect x="1629.7" y="124.4" width="9.2" height="9.2" fill="#fbe3d6" stroke="#ae4034" stroke-width="2.7"/>
<rect x="1643.7" y="124.4" width="9.2" height="9.2" fill="#fbe3d6" stroke="#ae4034" stroke-width="2.7"/>
<rect x="1657.8" y="124.4" width="9.2" height="9.2" fill="#fbe3d6" stroke="#ae4034" stroke-width="2.7"/>
<rect x="1671.8" y="124.4" width="9.2" height="9.2" fill="#fbe3d6" stroke="#ae4034" stroke-width="2.7"/>
<rect x="1685.8" y="128.6" width="9.2" height="9.2" fill="#fbe3d6" stroke="#ae4034" stroke-width="2.7"/>
<rect x="1699.9" y="135.6" width="9.2" height="9.2" fill="#fbe3d6" stroke="#ae4034" stroke-width="2.7"/>
<rect x="1713.9" y="135.6" width="9.2" height="9.2" fill="#fbe3d6" stroke="#ae4034" stroke-width="2.7"/>
<rect x="1727.9" y="135.6" width="9.2" height="9.2" fill="#fbe3d6" stroke="#ae4034" stroke-width="2.7"/>
<rect x="1741.9" y="135.6" width="9.2" height="9.2" fill="#fbe3d6" stroke="#ae4034" stroke-width="2.7"/>
<rect x="1756" y="139.8" width="9.2" height="9.2" fill="#fbe3d6" stroke="#ae4034" stroke-width="2.7"/>
<rect x="1770" y="144" width="9.2" height="9.2" fill="#fbe3d6" stroke="#ae4034" stroke-width="2.7"/>
<rect x="1784" y="144" width="9.2" height="9.2" fill="#fbe3d6" stroke="#ae4034" stroke-width="2.7"/>
<rect x="1798" y="144" width="9.2" height="9.2" fill="#fbe3d6" stroke="#ae4034" stroke-width="2.7"/>
<rect x="1812.1" y="144" width="9.2" height="9.2" fill="#fbe3d6" stroke="#ae4034" stroke-width="2.7"/>
<rect x="1826.1" y="146.8" width="9.2" height="9.2" fill="#fbe3d6" stroke="#ae4034" stroke-width="2.7"/>
<rect x="1840.1" y="153.8" width="9.2" height="9.2" fill="#fbe3d6" stroke="#ae4034" stroke-width="2.7"/>
<rect x="1854.1" y="155.2" width="9.2" height="9.2" fill="#fbe3d6" stroke="#ae4034" stroke-width="2.7"/>
<rect x="1868.2" y="155.2" width="9.2" height="9.2" fill="#fbe3d6" stroke="#ae4034" stroke-width="2.7"/>
<rect x="1882.2" y="155.2" width="9.2" height="9.2" fill="#fbe3d6" stroke="#ae4034" stroke-width="2.7"/>
<rect x="1452.1" y="32.8" width="461.7" height="360.7" fill="none" stroke="#262626" stroke-width="3"/>
<line x1="1452.1" y1="360" x2="1456.1" y2="360" stroke="#262626" stroke-width="2.2" />
<line x1="1452.1" y1="325" x2="1459.1" y2="325" stroke="#262626" stroke-width="2.2" />
<line x1="1452.1" y1="290" x2="1456.1" y2="290" stroke="#262626" stroke-width="2.2" />
<line x1="1452.1" y1="255" x2="1459.1" y2="255" stroke="#262626" stroke-width="2.2" />
<line x1="1452.1" y1="220" x2="1456.1" y2="220" stroke="#262626" stroke-width="2.2" />
<line x1="1452.1" y1="185" x2="1459.1" y2="185" stroke="#262626" stroke-width="2.2" />
<line x1="1452.1" y1="150" x2="1456.1" y2="150" stroke="#262626" stroke-width="2.2" />
<line x1="1452.1" y1="115" x2="1459.1" y2="115" stroke="#262626" stroke-width="2.2" />
<line x1="1452.1" y1="80" x2="1456.1" y2="80" stroke="#262626" stroke-width="2.2" />
<line x1="1452.1" y1="45" x2="1459.1" y2="45" stroke="#262626" stroke-width="2.2" />
<line x1="1466" y1="393.5" x2="1466" y2="386.5" stroke="#262626" stroke-width="2" />
<line x1="1480" y1="393.5" x2="1480" y2="390" stroke="#262626" stroke-width="2" />
<line x1="1494.1" y1="393.5" x2="1494.1" y2="390" stroke="#262626" stroke-width="2" />
<line x1="1508.1" y1="393.5" x2="1508.1" y2="390" stroke="#262626" stroke-width="2" />
<line x1="1522.1" y1="393.5" x2="1522.1" y2="390" stroke="#262626" stroke-width="2" />
<line x1="1536.1" y1="393.5" x2="1536.1" y2="386.5" stroke="#262626" stroke-width="2" />
<line x1="1550.2" y1="393.5" x2="1550.2" y2="390" stroke="#262626" stroke-width="2" />
<line x1="1564.2" y1="393.5" x2="1564.2" y2="390" stroke="#262626" stroke-width="2" />
<line x1="1578.2" y1="393.5" x2="1578.2" y2="390" stroke="#262626" stroke-width="2" />
<line x1="1592.2" y1="393.5" x2="1592.2" y2="390" stroke="#262626" stroke-width="2" />
<line x1="1606.3" y1="393.5" x2="1606.3" y2="386.5" stroke="#262626" stroke-width="2" />
<line x1="1620.3" y1="393.5" x2="1620.3" y2="390" stroke="#262626" stroke-width="2" />
<line x1="1634.3" y1="393.5" x2="1634.3" y2="390" stroke="#262626" stroke-width="2" />
<line x1="1648.3" y1="393.5" x2="1648.3" y2="390" stroke="#262626" stroke-width="2" />
<line x1="1662.4" y1="393.5" x2="1662.4" y2="390" stroke="#262626" stroke-width="2" />
<line x1="1676.4" y1="393.5" x2="1676.4" y2="386.5" stroke="#262626" stroke-width="2" />
<line x1="1690.4" y1="393.5" x2="1690.4" y2="390" stroke="#262626" stroke-width="2" />
<line x1="1704.5" y1="393.5" x2="1704.5" y2="390" stroke="#262626" stroke-width="2" />
<line x1="1718.5" y1="393.5" x2="1718.5" y2="390" stroke="#262626" stroke-width="2" />
<line x1="1732.5" y1="393.5" x2="1732.5" y2="390" stroke="#262626" stroke-width="2" />
<line x1="1746.5" y1="393.5" x2="1746.5" y2="386.5" stroke="#262626" stroke-width="2" />
<line x1="1760.6" y1="393.5" x2="1760.6" y2="390" stroke="#262626" stroke-width="2" />
<line x1="1774.6" y1="393.5" x2="1774.6" y2="390" stroke="#262626" stroke-width="2" />
<line x1="1788.6" y1="393.5" x2="1788.6" y2="390" stroke="#262626" stroke-width="2" />
<line x1="1802.6" y1="393.5" x2="1802.6" y2="390" stroke="#262626" stroke-width="2" />
<line x1="1816.7" y1="393.5" x2="1816.7" y2="386.5" stroke="#262626" stroke-width="2" />
<line x1="1830.7" y1="393.5" x2="1830.7" y2="390" stroke="#262626" stroke-width="2" />
<line x1="1844.7" y1="393.5" x2="1844.7" y2="390" stroke="#262626" stroke-width="2" />
<line x1="1858.7" y1="393.5" x2="1858.7" y2="390" stroke="#262626" stroke-width="2" />
<line x1="1872.8" y1="393.5" x2="1872.8" y2="390" stroke="#262626" stroke-width="2" />
<line x1="1886.8" y1="393.5" x2="1886.8" y2="386.5" stroke="#262626" stroke-width="2" />
<text font-family='"Liberation Sans", sans-serif' font-size="24.5" text-anchor="end" fill="#262626" letter-spacing="-1.2" x="1444" y="333.8" stroke="#262626" stroke-width="1.15" stroke-linejoin="round">0</text>
<text font-family='"Liberation Sans", sans-serif' font-size="24.5" text-anchor="end" fill="#262626" letter-spacing="-1.2" x="1444" y="263.8" stroke="#262626" stroke-width="1.15" stroke-linejoin="round">50</text>
<text font-family='"Liberation Sans", sans-serif' font-size="24.5" text-anchor="end" fill="#262626" letter-spacing="-1.2" x="1444" y="193.8" stroke="#262626" stroke-width="1.15" stroke-linejoin="round">100</text>
<text font-family='"Liberation Sans", sans-serif' font-size="24.5" text-anchor="end" fill="#262626" letter-spacing="-1.2" x="1444" y="123.8" stroke="#262626" stroke-width="1.15" stroke-linejoin="round">150</text>
<text font-family='"Liberation Sans", sans-serif' font-size="24.5" text-anchor="end" fill="#262626" letter-spacing="-1.2" x="1444" y="53.8" stroke="#262626" stroke-width="1.15" stroke-linejoin="round">200</text>
<text font-family='"Liberation Sans", sans-serif' font-size="24.5" text-anchor="middle" fill="#262626" letter-spacing="-1.2" x="1466" y="424" stroke="#262626" stroke-width="1.15" stroke-linejoin="round">0</text>
<text font-family='"Liberation Sans", sans-serif' font-size="24.5" text-anchor="middle" fill="#262626" letter-spacing="-1.2" x="1536.1" y="424" stroke="#262626" stroke-width="1.15" stroke-linejoin="round">5</text>
<text font-family='"Liberation Sans", sans-serif' font-size="24.5" text-anchor="middle" fill="#262626" letter-spacing="-1.2" x="1606.3" y="424" stroke="#262626" stroke-width="1.15" stroke-linejoin="round">10</text>
<text font-family='"Liberation Sans", sans-serif' font-size="24.5" text-anchor="middle" fill="#262626" letter-spacing="-1.2" x="1676.4" y="424" stroke="#262626" stroke-width="1.15" stroke-linejoin="round">15</text>
<text font-family='"Liberation Sans", sans-serif' font-size="24.5" text-anchor="middle" fill="#262626" letter-spacing="-1.2" x="1746.5" y="424" stroke="#262626" stroke-width="1.15" stroke-linejoin="round">20</text>
<text font-family='"Liberation Sans", sans-serif' font-size="24.5" text-anchor="middle" fill="#262626" letter-spacing="-1.2" x="1816.7" y="424" stroke="#262626" stroke-width="1.15" stroke-linejoin="round">25</text>
<text font-family='"Liberation Sans", sans-serif' font-size="24.5" text-anchor="middle" fill="#262626" letter-spacing="-1.2" x="1886.8" y="424" stroke="#262626" stroke-width="1.15" stroke-linejoin="round">30</text>
<text font-family='"Liberation Sans", sans-serif' font-size="32" fill="#262626" textLength="243" lengthAdjust="spacingAndGlyphs" x="1569" y="460" stroke="#262626" stroke-width="1.4" stroke-linejoin="round">Cycle number (n)</text>
<text font-family='"Liberation Sans", sans-serif' font-size="32" fill="#262626" textLength="292" lengthAdjust="spacingAndGlyphs" transform="translate(1396 360) rotate(-90)" stroke="#262626" stroke-width="1.4" stroke-linejoin="round">Capacity (mA h g<tspan font-size="18" dy="-12">-1</tspan><tspan dy="12">&#8203;</tspan>)</text>
<text font-family='"Liberation Sans", sans-serif' font-size="24" fill="#262626" textLength="53.6" lengthAdjust="spacingAndGlyphs" x="1474.6" y="219.6" stroke="#262626" stroke-width="1.2" stroke-linejoin="round">0.3 C</text>
<text font-family='"Liberation Sans", sans-serif' font-size="24" fill="#262626" textLength="53.6" lengthAdjust="spacingAndGlyphs" x="1550.7" y="235.1" stroke="#262626" stroke-width="1.2" stroke-linejoin="round">0.6 C</text>
<text font-family='"Liberation Sans", sans-serif' font-size="24" fill="#262626" textLength="51.8" lengthAdjust="spacingAndGlyphs" x="1621.6" y="245.5" stroke="#262626" stroke-width="1.2" stroke-linejoin="round">1.2 C</text>
<text font-family='"Liberation Sans", sans-serif' font-size="24" fill="#262626" textLength="54.3" lengthAdjust="spacingAndGlyphs" x="1690" y="258.3" stroke="#262626" stroke-width="1.2" stroke-linejoin="round">2.4 C</text>
<text font-family='"Liberation Sans", sans-serif' font-size="24" fill="#262626" textLength="53.6" lengthAdjust="spacingAndGlyphs" x="1761.6" y="276.6" stroke="#262626" stroke-width="1.2" stroke-linejoin="round">3.6 C</text>
<text font-family='"Liberation Sans", sans-serif' font-size="24" fill="#262626" textLength="37" lengthAdjust="spacingAndGlyphs" x="1835.3" y="298.4" stroke="#262626" stroke-width="1.2" stroke-linejoin="round">6 C</text>
<rect x="1812" y="35" width="84" height="30" fill="#fff"/>
<line x1="1763.3" y1="50" x2="1806.6" y2="50" stroke="#ae4034" stroke-width="1.8" />
<rect x="1780.2" y="45.4" width="9.2" height="9.2" fill="#fff" stroke="#ae4034" stroke-width="2.2"/>
<text font-family='"Liberation Sans", sans-serif' font-size="31.5" fill="#ae4034" textLength="71" lengthAdjust="spacingAndGlyphs" x="1817" y="61.4" stroke="#ae4034" stroke-width="0.5">25 °C</text>
<rect x="1812" y="66.3" width="84" height="30" fill="#fff"/>
<line x1="1763.3" y1="81.3" x2="1806.6" y2="81.3" stroke="#83a43a" stroke-width="1.8" />
<circle cx="1784.8" cy="81.3" r="5" fill="#fff" stroke="#83a43a" stroke-width="2.2"/>
<text font-family='"Liberation Sans", sans-serif' font-size="31.5" fill="#83a43a" textLength="53.5" lengthAdjust="spacingAndGlyphs" x="1824" y="92.7" stroke="#83a43a" stroke-width="0.5">0 °C</text>
<rect x="1812" y="97.4" width="84" height="30" fill="#fff"/>
<line x1="1763.3" y1="112.4" x2="1806.6" y2="112.4" stroke="#2a3f94" stroke-width="1.8" />
<polygon points="1784.8,105.9 1791,116.7 1778.6,116.7" fill="#fff" stroke="#2a3f94" stroke-width="2.2"/>
<text font-family='"Liberation Sans", sans-serif' font-size="31.5" fill="#2a3f94" textLength="78" lengthAdjust="spacingAndGlyphs" x="1815" y="123.8" stroke="#2a3f94" stroke-width="0.5">-25 °C</text>
</g>
<g id="panel-d">
<polygon points="153.6,630.6 157.6,630.4 161.6,630.2 165.6,630.1 169.6,629.9 173.6,629.7 177.6,629.6 181.6,629.4 185.6,629.2 189.6,629 193.6,628.9 197.6,628.7 201.6,628.5 205.6,628.1 209.6,627.8 213.6,627.5 217.6,627.1 221.6,626.8 225.6,626.4 229.6,626.1 233.6,625.8 237.6,625.4 241.6,625.1 245.6,624.8 249.6,624.5 253.6,624.2 257.6,623.9 261.6,623.6 265.6,623.4 269.6,623.5 273.6,623.5 277.6,623.6 281.6,623.7 285.6,623.8 289.6,623.8 293.6,623.9 297.6,624 301.6,624 305.6,624.1 309.6,624.1 313.6,624.1 317.6,624.2 321.6,624.2 325.6,624.3 329.6,624.3 333.6,624.3 337.6,624.4 341.6,624.4 345.6,624.5 349.6,624.5 353.6,624.5 357.6,624.6 361.6,624.6 365.6,624.7 369.6,624.8 373.6,624.9 377.6,625 381.6,625 385.6,625.1 389.6,625.2 393.6,625.3 397.6,625.4 401.6,625.4 405.6,625.5 409.6,625.6 413.6,625.7 417.6,625.8 421.6,625.8 425.6,625.9 429.6,626 433.6,626 437.6,626.1 441.6,626.1 445.6,626.1 449.6,626.2 453.6,626.2 457.6,626.2 461.6,626.3 465.6,626.3 469.6,626.4 473.6,626.4 477.6,626.4 481.6,626.5 485.6,626.5 489.6,626.5 493.6,626.6 497.6,626.6 501.6,626.6 505.6,626.7 509.6,626.7 513.6,626.7 517.6,626.8 521.6,626.8 525.6,626.8 529.6,626.8 533.6,626.8 537.6,626.8 541.6,626.8 545.6,626.8 549.6,626.8 553.6,626.8 557.6,626.8 561.6,626.8 565.6,626.8 569.6,626.8 573.6,626.8 577.6,626.8 581.6,626.8 585.6,626.8 589.6,626.8 593.6,626.8 597.6,626.8 601.6,624.4 605.6,623.3 609.6,623.3 613.6,623.2 617.6,623.1 621.6,623 625.6,622.9 629,622.8 629,727.3 625.6,727.1 621.6,726.9 617.6,726.7 613.6,726.5 609.6,726.3 605.6,726.1 601.6,725.2 597.6,723.2 593.6,723.2 589.6,723.2 585.6,723.1 581.6,723.1 577.6,723.1 573.6,723.1 569.6,723.1 565.6,723 561.6,723 557.6,723 553.6,723 549.6,723 545.6,722.9 541.6,722.9 537.6,722.9 533.6,722.9 529.6,722.8 525.6,722.8 521.6,722.8 517.6,722.8 513.6,722.9 509.6,722.9 505.6,722.9 501.6,723 497.6,723 493.6,723 489.6,723.1 485.6,723.1 481.6,723.1 477.6,723.2 473.6,723.2 469.6,723.2 465.6,723.3 461.6,723.3 457.6,723.4 453.6,723.4 449.6,723.4 445.6,723.5 441.6,723.5 437.6,723.5 433.6,723.6 429.6,723.6 425.6,723.6 421.6,723.6 417.6,723.7 413.6,723.7 409.6,723.7 405.6,723.7 401.6,723.8 397.6,723.8 393.6,723.8 389.6,723.8 385.6,723.9 381.6,723.9 377.6,723.9 373.6,723.9 369.6,723.9 365.6,724 361.6,724 357.6,724 353.6,724.1 349.6,724.2 345.6,724.3 341.6,724.4 337.6,724.4 333.6,724.5 329.6,724.6 325.6,724.7 321.6,724.8 317.6,724.8 313.6,724.9 309.6,725 305.6,725.1 301.6,725.2 297.6,725.3 293.6,725.4 289.6,725.6 285.6,725.7 281.6,725.8 277.6,726 273.6,726.1 269.6,726.2 265.6,726.4 261.6,726.2 257.6,726 253.6,725.8 249.6,725.6 245.6,725.3 241.6,725.1 237.6,724.8 233.6,724.6 229.6,724.3 225.6,724.1 221.6,723.8 217.6,723.6 213.6,723.3 209.6,723.1 205.6,722.8 201.6,722.6 197.6,722.3 193.6,722 189.6,721.6 185.6,721.3 181.6,721 177.6,720.6 173.6,720.3 169.6,720 165.6,719.6 161.6,719.3 157.6,719 153.6,718.6" fill="#fbc0bc"/>
<polygon points="136.5,600 138,612 141.5,617 142,675 136.5,675" fill="#d8605c"/>
<polygon points="136.5,675 138,740 140,755 143.5,760 145.5,756 146,675" fill="#e25a58"/>
<polygon points="143,675 143,585 145.5,583 147.3,569.5 149.8,580 150.3,675" fill="#e8262c"/>
<polygon points="146.5,675 147,760 149.5,783 151.6,783 152.4,735 154,722 154,675" fill="#e03a3e"/>
<line x1="136.3" y1="499" x2="136.3" y2="700" stroke="#5a1010" stroke-width="1.5" />
<rect x="159.2" y="633.5" width="4.4" height="85.8" fill="#f18c8c"/><rect x="169.2" y="633" width="4.4" height="87.1" fill="#f18c8c"/><rect x="179.3" y="632.6" width="4.4" height="88.4" fill="#f18c8c"/><rect x="189.3" y="632.2" width="4.4" height="89.6" fill="#f18c8c"/><rect x="199.3" y="631.7" width="4.4" height="90.8" fill="#f18c8c"/><rect x="209.4" y="631" width="4.4" height="92.2" fill="#f18c8c"/><rect x="219.4" y="630.2" width="4.4" height="93.6" fill="#f18c8c"/><rect x="229.4" y="629.4" width="4.4" height="95.1" fill="#f18c8c"/><rect x="239.5" y="628.5" width="4.4" height="96.6" fill="#f18c8c"/><rect x="249.5" y="627.7" width="4.4" height="98" fill="#f18c8c"/><rect x="259.5" y="627" width="4.4" height="99.2" fill="#f18c8c"/><rect x="269.5" y="626.4" width="4.4" height="99.7" fill="#f18c8c"/><rect x="279.6" y="626.6" width="4.4" height="99.2" fill="#f18c8c"/><rect x="289.6" y="626.8" width="4.4" height="98.7" fill="#f18c8c"/><rect x="299.6" y="626.9" width="4.4" height="98.2" fill="#f18c8c"/><rect x="309.7" y="627.1" width="4.4" height="97.9" fill="#f18c8c"/><rect x="319.7" y="627.2" width="4.4" height="97.6" fill="#f18c8c"/><rect x="329.7" y="627.3" width="4.4" height="97.3" fill="#f18c8c"/><rect x="339.8" y="627.4" width="4.4" height="97" fill="#f18c8c"/><rect x="349.8" y="627.5" width="4.4" height="96.7" fill="#f18c8c"/><rect x="359.8" y="627.6" width="4.4" height="96.4" fill="#f18c8c"/><rect x="369.8" y="627.7" width="4.4" height="96.2" fill="#f18c8c"/><rect x="379.9" y="627.9" width="4.4" height="95.9" fill="#f18c8c"/><rect x="389.9" y="628.1" width="4.4" height="95.7" fill="#f18c8c"/><rect x="399.9" y="628.3" width="4.4" height="95.4" fill="#f18c8c"/><rect x="410" y="628.5" width="4.4" height="95.2" fill="#f18c8c"/><rect x="420" y="628.7" width="4.4" height="94.9" fill="#f18c8c"/><rect x="430" y="628.9" width="4.4" height="94.6" fill="#f18c8c"/><rect x="440.1" y="629.1" width="4.4" height="94.4" fill="#f18c8c"/><rect x="450.1" y="629.2" width="4.4" height="94.2" fill="#f18c8c"/><rect x="460.1" y="629.2" width="4.4" height="94.1" fill="#f18c8c"/><rect x="470.1" y="629.3" width="4.4" height="93.9" fill="#f18c8c"/><rect x="480.2" y="629.4" width="4.4" height="93.7" fill="#f18c8c"/><rect x="490.2" y="629.5" width="4.4" height="93.5" fill="#f18c8c"/><rect x="500.2" y="629.6" width="4.4" height="93.4" fill="#f18c8c"/><rect x="510.3" y="629.7" width="4.4" height="93.2" fill="#f18c8c"/><rect x="520.3" y="629.8" width="4.4" height="93" fill="#f18c8c"/><rect x="530.3" y="629.8" width="4.4" height="93.1" fill="#f18c8c"/><rect x="540.4" y="629.8" width="4.4" height="93.1" fill="#f18c8c"/><rect x="550.4" y="629.8" width="4.4" height="93.2" fill="#f18c8c"/><rect x="560.4" y="629.8" width="4.4" height="93.2" fill="#f18c8c"/><rect x="570.4" y="629.8" width="4.4" height="93.3" fill="#f18c8c"/><rect x="580.5" y="629.8" width="4.4" height="93.3" fill="#f18c8c"/><rect x="590.5" y="629.8" width="4.4" height="93.4" fill="#f18c8c"/><rect x="600.5" y="629.8" width="4.4" height="96.1" fill="#f18c8c"/><rect x="610.6" y="626.3" width="4.4" height="100.2" fill="#f18c8c"/><rect x="620.6" y="626.1" width="4.4" height="100.9" fill="#f18c8c"/>
<path d="M153.6 718.6L153.6 631.9L154.8 630.5L158.6 630.5L159.2 631.5L159.2 719.3L163.6 719.3L163.6 631.4L164.8 630L168.6 630L169.2 631L169.2 720.1L173.7 720.1L173.7 631L174.9 629.6L178.7 629.6L179.3 630.6L179.3 721L183.7 721L183.7 630.6L184.9 629.2L188.7 629.2L189.3 630.2L189.3 721.8L193.7 721.8L193.7 630.1L194.9 628.7L198.7 628.7L199.3 629.7L199.3 722.6L203.8 722.6L203.8 629.4L204.9 628L208.8 628L209.4 629L209.4 723.2L213.8 723.2L213.8 628.6L215 627.2L218.8 627.2L219.4 628.2L219.4 723.8L223.8 723.8L223.8 627.8L225 626.4L228.8 626.4L229.4 627.4L229.4 724.5L233.8 724.5L233.8 626.9L235 625.5L238.9 625.5L239.5 626.5L239.5 725.1L243.9 725.1L243.9 626.1L245.1 624.7L248.9 624.7L249.5 625.7L249.5 725.7L253.9 725.7L253.9 625.4L255.1 624L258.9 624L259.5 625L259.5 726.2L263.9 726.2L263.9 624.8L265.1 623.4L268.9 623.4L269.5 624.4L269.5 726.2L274 726.2L274 625L275.2 623.6L279 623.6L279.6 624.6L279.6 725.8L284 725.8L284 625.2L285.2 623.8L289 623.8L289.6 624.8L289.6 725.5L294 725.5L294 625.3L295.2 623.9L299 623.9L299.6 624.9L299.6 725.2L304 725.2L304 625.5L305.2 624.1L309.1 624.1L309.7 625.1L309.7 725L314.1 725L314.1 625.6L315.3 624.2L319.1 624.2L319.7 625.2L319.7 724.8L324.1 724.8L324.1 625.7L325.3 624.3L329.1 624.3L329.7 625.3L329.7 724.6L334.1 724.6L334.1 625.8L335.3 624.4L339.2 624.4L339.8 625.4L339.8 724.4L344.2 724.4L344.2 625.9L345.4 624.5L349.2 624.5L349.8 625.5L349.8 724.2L354.2 724.2L354.2 626L355.4 624.6L359.2 624.6L359.8 625.6L359.8 724L364.2 724L364.2 626.1L365.4 624.7L369.2 624.7L369.8 625.7L369.8 723.9L374.3 723.9L374.3 626.3L375.5 624.9L379.3 624.9L379.9 625.9L379.9 723.9L384.3 723.9L384.3 626.5L385.5 625.1L389.3 625.1L389.9 626.1L389.9 723.8L394.3 723.8L394.3 626.7L395.5 625.3L399.3 625.3L399.9 626.3L399.9 723.8L404.3 723.8L404.3 626.9L405.5 625.5L409.4 625.5L410 626.5L410 723.7L414.4 723.7L414.4 627.1L415.6 625.7L419.4 625.7L420 626.7L420 723.6L424.4 723.6L424.4 627.3L425.6 625.9L429.4 625.9L430 626.9L430 723.6L434.4 723.6L434.4 627.5L435.6 626.1L439.5 626.1L440.1 627.1L440.1 723.5L444.5 723.5L444.5 627.6L445.7 626.2L449.5 626.2L450.1 627.2L450.1 723.4L454.5 723.4L454.5 627.6L455.7 626.2L459.5 626.2L460.1 627.2L460.1 723.3L464.5 723.3L464.5 627.7L465.7 626.3L469.5 626.3L470.1 627.3L470.1 723.2L474.6 723.2L474.6 627.8L475.8 626.4L479.6 626.4L480.2 627.4L480.2 723.1L484.6 723.1L484.6 627.9L485.8 626.5L489.6 626.5L490.2 627.5L490.2 723L494.6 723L494.6 628L495.8 626.6L499.6 626.6L500.2 627.6L500.2 723L504.6 723L504.6 628.1L505.8 626.7L509.7 626.7L510.3 627.7L510.3 722.9L514.7 722.9L514.7 628.2L515.9 626.8L519.7 626.8L520.3 627.8L520.3 722.8L524.7 722.8L524.7 628.2L525.9 626.8L529.7 626.8L530.3 627.8L530.3 722.9L534.7 722.9L534.7 628.2L535.9 626.8L539.8 626.8L540.4 627.8L540.4 722.9L544.8 722.9L544.8 628.2L546 626.8L549.8 626.8L550.4 627.8L550.4 723L554.8 723L554.8 628.2L556 626.8L559.8 626.8L560.4 627.8L560.4 723L564.8 723L564.8 628.2L566 626.8L569.8 626.8L570.4 627.8L570.4 723.1L574.9 723.1L574.9 628.2L576.1 626.8L579.9 626.8L580.5 627.8L580.5 723.1L584.9 723.1L584.9 628.2L586.1 626.8L589.9 626.8L590.5 627.8L590.5 723.2L594.9 723.2L594.9 628.2L596.1 626.8L599.9 626.8L600.5 627.8L600.5 725.9L604.9 725.9L604.9 624.7L606.1 623.3L610 623.3L610.6 624.3L610.6 726.5L615 726.5L615 624.5L616.2 623.1L620 623.1L620.6 624.1L620.6 727L625 727L625 624.3L626.2 622.9L628.4 622.9L629 623.9L629 727.4L629 727.4" fill="none" stroke="#e3252e" stroke-width="1.7" stroke-linejoin="round"/>
<rect x="134.5" y="496.6" width="495.9" height="356.4" fill="none" stroke="#000" stroke-width="4.6"/>
<line x1="125" y1="852.6" x2="134.5" y2="852.6" stroke="#000" stroke-width="3.6" />
<line x1="128.5" y1="830.4" x2="134.5" y2="830.4" stroke="#000" stroke-width="3.6" />
<line x1="125" y1="808.1" x2="134.5" y2="808.1" stroke="#000" stroke-width="3.6" />
<line x1="128.5" y1="785.9" x2="134.5" y2="785.9" stroke="#000" stroke-width="3.6" />
<line x1="125" y1="763.6" x2="134.5" y2="763.6" stroke="#000" stroke-width="3.6" />
<line x1="128.5" y1="741.4" x2="134.5" y2="741.4" stroke="#000" stroke-width="3.6" />
<line x1="125" y1="719.1" x2="134.5" y2="719.1" stroke="#000" stroke-width="3.6" />
<line x1="128.5" y1="696.9" x2="134.5" y2="696.9" stroke="#000" stroke-width="3.6" />
<line x1="125" y1="674.6" x2="134.5" y2="674.6" stroke="#000" stroke-width="3.6" />
<line x1="128.5" y1="652.4" x2="134.5" y2="652.4" stroke="#000" stroke-width="3.6" />
<line x1="125" y1="630.1" x2="134.5" y2="630.1" stroke="#000" stroke-width="3.6" />
<line x1="128.5" y1="607.9" x2="134.5" y2="607.9" stroke="#000" stroke-width="3.6" />
<line x1="125" y1="585.6" x2="134.5" y2="585.6" stroke="#000" stroke-width="3.6" />
<line x1="128.5" y1="563.4" x2="134.5" y2="563.4" stroke="#000" stroke-width="3.6" />
<line x1="125" y1="541.1" x2="134.5" y2="541.1" stroke="#000" stroke-width="3.6" />
<line x1="128.5" y1="518.9" x2="134.5" y2="518.9" stroke="#000" stroke-width="3.6" />
<line x1="125" y1="496.6" x2="134.5" y2="496.6" stroke="#000" stroke-width="3.6" />
<line x1="134.5" y1="853" x2="134.5" y2="862.5" stroke="#000" stroke-width="3.6" />
<line x1="184" y1="853" x2="184" y2="859" stroke="#000" stroke-width="3.6" />
<line x1="233.6" y1="853" x2="233.6" y2="862.5" stroke="#000" stroke-width="3.6" />
<line x1="283.1" y1="853" x2="283.1" y2="859" stroke="#000" stroke-width="3.6" />
<line x1="332.7" y1="853" x2="332.7" y2="862.5" stroke="#000" stroke-width="3.6" />
<line x1="382.2" y1="853" x2="382.2" y2="859" stroke="#000" stroke-width="3.6" />
<line x1="431.7" y1="853" x2="431.7" y2="862.5" stroke="#000" stroke-width="3.6" />
<line x1="481.3" y1="853" x2="481.3" y2="859" stroke="#000" stroke-width="3.6" />
<line x1="530.8" y1="853" x2="530.8" y2="862.5" stroke="#000" stroke-width="3.6" />
<line x1="580.4" y1="853" x2="580.4" y2="859" stroke="#000" stroke-width="3.6" />
<line x1="629.9" y1="853" x2="629.9" y2="862.5" stroke="#000" stroke-width="3.6" />
<text font-family='"Liberation Serif", serif' font-size="23" font-weight="bold" fill="#000" textLength="37.4" lengthAdjust="spacingAndGlyphs" x="82.1" y="502.8" stroke="#000" stroke-width="0.45" stroke-linejoin="round">0.20</text>
<text font-family='"Liberation Serif", serif' font-size="23" font-weight="bold" fill="#000" textLength="37.4" lengthAdjust="spacingAndGlyphs" x="82.1" y="547.3" stroke="#000" stroke-width="0.45" stroke-linejoin="round">0.15</text>
<text font-family='"Liberation Serif", serif' font-size="23" font-weight="bold" fill="#000" textLength="37.4" lengthAdjust="spacingAndGlyphs" x="82.1" y="591.8" stroke="#000" stroke-width="0.45" stroke-linejoin="round">0.10</text>
<text font-family='"Liberation Serif", serif' font-size="23" font-weight="bold" fill="#000" textLength="37.4" lengthAdjust="spacingAndGlyphs" x="82.1" y="636.3" stroke="#000" stroke-width="0.45" stroke-linejoin="round">0.05</text>
<text font-family='"Liberation Serif", serif' font-size="23" font-weight="bold" fill="#000" textLength="37.4" lengthAdjust="spacingAndGlyphs" x="82.1" y="680.8" stroke="#000" stroke-width="0.45" stroke-linejoin="round">0.00</text>
<text font-family='"Liberation Serif", serif' font-size="23" font-weight="bold" fill="#000" textLength="44.6" lengthAdjust="spacingAndGlyphs" x="74.9" y="725.3" stroke="#000" stroke-width="0.45" stroke-linejoin="round">-0.05</text>
<text font-family='"Liberation Serif", serif' font-size="23" font-weight="bold" fill="#000" textLength="44.6" lengthAdjust="spacingAndGlyphs" x="74.9" y="769.8" stroke="#000" stroke-width="0.45" stroke-linejoin="round">-0.10</text>
<text font-family='"Liberation Serif", serif' font-size="23" font-weight="bold" fill="#000" textLength="44.6" lengthAdjust="spacingAndGlyphs" x="74.9" y="814.3" stroke="#000" stroke-width="0.45" stroke-linejoin="round">-0.15</text>
<text font-family='"Liberation Serif", serif' font-size="23" font-weight="bold" fill="#000" textLength="44.6" lengthAdjust="spacingAndGlyphs" x="74.9" y="858.8" stroke="#000" stroke-width="0.45" stroke-linejoin="round">-0.20</text>
<text font-family='"Liberation Serif", serif' font-size="23" font-weight="bold" fill="#000" textLength="10.7" lengthAdjust="spacingAndGlyphs" x="129.2" y="884" stroke="#000" stroke-width="0.45" stroke-linejoin="round">0</text>
<text font-family='"Liberation Serif", serif' font-size="23" font-weight="bold" fill="#000" textLength="21.4" lengthAdjust="spacingAndGlyphs" x="222.9" y="884" stroke="#000" stroke-width="0.45" stroke-linejoin="round">60</text>
<text font-family='"Liberation Serif", serif' font-size="23" font-weight="bold" fill="#000" textLength="32.1" lengthAdjust="spacingAndGlyphs" x="316.6" y="884" stroke="#000" stroke-width="0.45" stroke-linejoin="round">120</text>
<text font-family='"Liberation Serif", serif' font-size="23" font-weight="bold" fill="#000" textLength="32.1" lengthAdjust="spacingAndGlyphs" x="415.7" y="884" stroke="#000" stroke-width="0.45" stroke-linejoin="round">180</text>
<text font-family='"Liberation Serif", serif' font-size="23" font-weight="bold" fill="#000" textLength="32.1" lengthAdjust="spacingAndGlyphs" x="514.8" y="884" stroke="#000" stroke-width="0.45" stroke-linejoin="round">240</text>
<text font-family='"Liberation Serif", serif' font-size="23" font-weight="bold" fill="#000" textLength="32.1" lengthAdjust="spacingAndGlyphs" x="614.7" y="884" stroke="#000" stroke-width="0.45" stroke-linejoin="round">300</text>
<text font-family='"Liberation Serif", serif' font-size="24.5" font-weight="bold" text-anchor="middle" fill="#000" textLength="88" lengthAdjust="spacingAndGlyphs" x="382.6" y="902.5" stroke="#000" stroke-width="0.45" stroke-linejoin="round">Time (h)</text>
<text font-family='"Liberation Serif", serif' font-size="24.5" font-weight="bold" fill="#000" textLength="120" lengthAdjust="spacingAndGlyphs" transform="translate(62.8 733) rotate(-90)" stroke="#000" stroke-width="0.45" stroke-linejoin="round">Voltage (V)</text>
</g>
<g id="panel-e">
<g clip-path="url(#eclip)">
<polyline points="805.5,605.4 809.3,605.5 813,605.5 816.8,605.6 820.5,605.6 824.2,605.7 828,605.7 831.7,605.8 835.4,605.8 839.2,605.9 842.9,619.9 846.6,620.1 850.4,620.2 854.1,620.4 857.9,620.6 861.6,620.7 865.3,620.9 869.1,621.1 872.8,621.2 876.5,621.4 880.3,633.9 884,634.1 887.8,634.3 891.5,634.6 895.2,634.8 899,635 902.7,635.2 906.4,635.5 910.2,635.7 913.9,635.9 917.7,647.4 921.4,647.6 925.1,647.7 928.9,647.9 932.6,648.1 936.3,648.2 940.1,648.4 943.8,648.6 947.6,648.7 951.3,648.9 955,659.9 958.8,660.1 962.5,660.3 966.2,660.6 970,660.8 973.7,661 977.5,661.2 981.2,661.5 984.9,661.7 988.7,661.9 992.4,689.4 996.1,698.4 999.9,698 1003.6,697.5 1007.4,697.1 1011.1,696.6 1014.8,696.2 1018.6,695.8 1022.3,695.3 1026,694.9 1029.8,736.4 1033.5,742.4 1037.3,741.5 1041,740.5 1044.7,739.6 1048.5,738.6 1052.2,737.7 1056,736.8 1059.7,735.8 1063.4,734.9 1067.2,709.4 1070.9,689.4 1074.6,689.3 1078.4,689.2 1082.1,689.1 1085.8,689 1089.6,688.8 1093.3,688.7 1097.1,688.6 1100.8,688.5 1104.5,674.4 1108.3,665.4 1112,665.3 1115.8,665.2 1119.5,665.1 1123.2,665 1127,664.8 1130.7,664.7 1134.4,664.6 1138.2,664.5 1141.9,664.4 1145.7,654.4 1149.4,654.3 1153.1,654.2 1156.9,654.1 1160.6,654 1164.3,653.8 1168.1,653.7 1171.8,653.6 1175.5,653.5 1179.3,653.4 1183,636.4 1186.8,636.3 1190.5,636.2 1194.2,636.1 1198,636 1201.7,635.8 1205.4,635.7 1209.2,635.6 1212.9,635.5 1216.7,635.4 1220.4,622.4 1224.1,622.3 1227.9,622.3 1231.6,622.2 1235.3,622.1 1239.1,622.1 1242.8,622 1246.6,622 1250.3,621.9" fill="none" stroke="#c06aa8" stroke-width="1.2" />
<rect x="800.1" y="600" width="10.8" height="10.8" fill="#fcebf3" stroke="#eeb0d4" stroke-width="1.2"/>
<rect x="803.9" y="600.1" width="10.8" height="10.8" fill="#fcebf3" stroke="#eeb0d4" stroke-width="1.2"/>
<rect x="807.6" y="600.1" width="10.8" height="10.8" fill="#fcebf3" stroke="#eeb0d4" stroke-width="1.2"/>
<rect x="811.4" y="600.2" width="10.8" height="10.8" fill="#fcebf3" stroke="#eeb0d4" stroke-width="1.2"/>
<rect x="815.1" y="600.2" width="10.8" height="10.8" fill="#fcebf3" stroke="#eeb0d4" stroke-width="1.2"/>
<rect x="818.8" y="600.3" width="10.8" height="10.8" fill="#fcebf3" stroke="#eeb0d4" stroke-width="1.2"/>
<rect x="822.6" y="600.3" width="10.8" height="10.8" fill="#fcebf3" stroke="#eeb0d4" stroke-width="1.2"/>
<rect x="826.3" y="600.4" width="10.8" height="10.8" fill="#fcebf3" stroke="#eeb0d4" stroke-width="1.2"/>
<rect x="830" y="600.4" width="10.8" height="10.8" fill="#fcebf3" stroke="#eeb0d4" stroke-width="1.2"/>
<rect x="833.8" y="600.5" width="10.8" height="10.8" fill="#fcebf3" stroke="#eeb0d4" stroke-width="1.2"/>
<rect x="837.5" y="614.5" width="10.8" height="10.8" fill="#fcebf3" stroke="#eeb0d4" stroke-width="1.2"/>
<rect x="841.2" y="614.7" width="10.8" height="10.8" fill="#fcebf3" stroke="#eeb0d4" stroke-width="1.2"/>
<rect x="845" y="614.8" width="10.8" height="10.8" fill="#fcebf3" stroke="#eeb0d4" stroke-width="1.2"/>
<rect x="848.7" y="615" width="10.8" height="10.8" fill="#fcebf3" stroke="#eeb0d4" stroke-width="1.2"/>
<rect x="852.5" y="615.2" width="10.8" height="10.8" fill="#fcebf3" stroke="#eeb0d4" stroke-width="1.2"/>
<rect x="856.2" y="615.3" width="10.8" height="10.8" fill="#fcebf3" stroke="#eeb0d4" stroke-width="1.2"/>
<rect x="859.9" y="615.5" width="10.8" height="10.8" fill="#fcebf3" stroke="#eeb0d4" stroke-width="1.2"/>
<rect x="863.7" y="615.7" width="10.8" height="10.8" fill="#fcebf3" stroke="#eeb0d4" stroke-width="1.2"/>
<rect x="867.4" y="615.8" width="10.8" height="10.8" fill="#fcebf3" stroke="#eeb0d4" stroke-width="1.2"/>
<rect x="871.1" y="616" width="10.8" height="10.8" fill="#fcebf3" stroke="#eeb0d4" stroke-width="1.2"/>
<rect x="874.9" y="628.5" width="10.8" height="10.8" fill="#fcebf3" stroke="#eeb0d4" stroke-width="1.2"/>
<rect x="878.6" y="628.7" width="10.8" height="10.8" fill="#fcebf3" stroke="#eeb0d4" stroke-width="1.2"/>
<rect x="882.4" y="628.9" width="10.8" height="10.8" fill="#fcebf3" stroke="#eeb0d4" stroke-width="1.2"/>
<rect x="886.1" y="629.2" width="10.8" height="10.8" fill="#fcebf3" stroke="#eeb0d4" stroke-width="1.2"/>
<rect x="889.8" y="629.4" width="10.8" height="10.8" fill="#fcebf3" stroke="#eeb0d4" stroke-width="1.2"/>
<rect x="893.6" y="629.6" width="10.8" height="10.8" fill="#fcebf3" stroke="#eeb0d4" stroke-width="1.2"/>
<rect x="897.3" y="629.8" width="10.8" height="10.8" fill="#fcebf3" stroke="#eeb0d4" stroke-width="1.2"/>
<rect x="901" y="630.1" width="10.8" height="10.8" fill="#fcebf3" stroke="#eeb0d4" stroke-width="1.2"/>
<rect x="904.8" y="630.3" width="10.8" height="10.8" fill="#fcebf3" stroke="#eeb0d4" stroke-width="1.2"/>
<rect x="908.5" y="630.5" width="10.8" height="10.8" fill="#fcebf3" stroke="#eeb0d4" stroke-width="1.2"/>
<rect x="912.3" y="642" width="10.8" height="10.8" fill="#fcebf3" stroke="#eeb0d4" stroke-width="1.2"/>
<rect x="916" y="642.2" width="10.8" height="10.8" fill="#fcebf3" stroke="#eeb0d4" stroke-width="1.2"/>
<rect x="919.7" y="642.3" width="10.8" height="10.8" fill="#fcebf3" stroke="#eeb0d4" stroke-width="1.2"/>
<rect x="923.5" y="642.5" width="10.8" height="10.8" fill="#fcebf3" stroke="#eeb0d4" stroke-width="1.2"/>
<rect x="927.2" y="642.7" width="10.8" height="10.8" fill="#fcebf3" stroke="#eeb0d4" stroke-width="1.2"/>
<rect x="930.9" y="642.8" width="10.8" height="10.8" fill="#fcebf3" stroke="#eeb0d4" stroke-width="1.2"/>
<rect x="934.7" y="643" width="10.8" height="10.8" fill="#fcebf3" stroke="#eeb0d4" stroke-width="1.2"/>
<rect x="938.4" y="643.2" width="10.8" height="10.8" fill="#fcebf3" stroke="#eeb0d4" stroke-width="1.2"/>
<rect x="942.2" y="643.3" width="10.8" height="10.8" fill="#fcebf3" stroke="#eeb0d4" stroke-width="1.2"/>
<rect x="945.9" y="643.5" width="10.8" height="10.8" fill="#fcebf3" stroke="#eeb0d4" stroke-width="1.2"/>
<rect x="949.6" y="654.5" width="10.8" height="10.8" fill="#fcebf3" stroke="#eeb0d4" stroke-width="1.2"/>
<rect x="953.4" y="654.7" width="10.8" height="10.8" fill="#fcebf3" stroke="#eeb0d4" stroke-width="1.2"/>
<rect x="957.1" y="654.9" width="10.8" height="10.8" fill="#fcebf3" stroke="#eeb0d4" stroke-width="1.2"/>
<rect x="960.9" y="655.2" width="10.8" height="10.8" fill="#fcebf3" stroke="#eeb0d4" stroke-width="1.2"/>
<rect x="964.6" y="655.4" width="10.8" height="10.8" fill="#fcebf3" stroke="#eeb0d4" stroke-width="1.2"/>
<rect x="968.3" y="655.6" width="10.8" height="10.8" fill="#fcebf3" stroke="#eeb0d4" stroke-width="1.2"/>
<rect x="972.1" y="655.8" width="10.8" height="10.8" fill="#fcebf3" stroke="#eeb0d4" stroke-width="1.2"/>
<rect x="975.8" y="656.1" width="10.8" height="10.8" fill="#fcebf3" stroke="#eeb0d4" stroke-width="1.2"/>
<rect x="979.5" y="656.3" width="10.8" height="10.8" fill="#fcebf3" stroke="#eeb0d4" stroke-width="1.2"/>
<rect x="983.3" y="656.5" width="10.8" height="10.8" fill="#fcebf3" stroke="#eeb0d4" stroke-width="1.2"/>
<rect x="987" y="684" width="10.8" height="10.8" fill="#fcebf3" stroke="#eeb0d4" stroke-width="1.2"/>
<rect x="990.8" y="693" width="10.8" height="10.8" fill="#fcebf3" stroke="#eeb0d4" stroke-width="1.2"/>
<rect x="994.5" y="692.6" width="10.8" height="10.8" fill="#fcebf3" stroke="#eeb0d4" stroke-width="1.2"/>
<rect x="998.2" y="692.1" width="10.8" height="10.8" fill="#fcebf3" stroke="#eeb0d4" stroke-width="1.2"/>
<rect x="1002" y="691.7" width="10.8" height="10.8" fill="#fcebf3" stroke="#eeb0d4" stroke-width="1.2"/>
<rect x="1005.7" y="691.2" width="10.8" height="10.8" fill="#fcebf3" stroke="#eeb0d4" stroke-width="1.2"/>
<rect x="1009.4" y="690.8" width="10.8" height="10.8" fill="#fcebf3" stroke="#eeb0d4" stroke-width="1.2"/>
<rect x="1013.2" y="690.4" width="10.8" height="10.8" fill="#fcebf3" stroke="#eeb0d4" stroke-width="1.2"/>
<rect x="1016.9" y="689.9" width="10.8" height="10.8" fill="#fcebf3" stroke="#eeb0d4" stroke-width="1.2"/>
<rect x="1020.6" y="689.5" width="10.8" height="10.8" fill="#fcebf3" stroke="#eeb0d4" stroke-width="1.2"/>
<rect x="1024.4" y="731" width="10.8" height="10.8" fill="#fcebf3" stroke="#eeb0d4" stroke-width="1.2"/>
<rect x="1028.1" y="737" width="10.8" height="10.8" fill="#fcebf3" stroke="#eeb0d4" stroke-width="1.2"/>
<rect x="1031.9" y="736.1" width="10.8" height="10.8" fill="#fcebf3" stroke="#eeb0d4" stroke-width="1.2"/>
<rect x="1035.6" y="735.1" width="10.8" height="10.8" fill="#fcebf3" stroke="#eeb0d4" stroke-width="1.2"/>
<rect x="1039.3" y="734.2" width="10.8" height="10.8" fill="#fcebf3" stroke="#eeb0d4" stroke-width="1.2"/>
<rect x="1043.1" y="733.2" width="10.8" height="10.8" fill="#fcebf3" stroke="#eeb0d4" stroke-width="1.2"/>
<rect x="1046.8" y="732.3" width="10.8" height="10.8" fill="#fcebf3" stroke="#eeb0d4" stroke-width="1.2"/>
<rect x="1050.5" y="731.4" width="10.8" height="10.8" fill="#fcebf3" stroke="#eeb0d4" stroke-width="1.2"/>
<rect x="1054.3" y="730.4" width="10.8" height="10.8" fill="#fcebf3" stroke="#eeb0d4" stroke-width="1.2"/>
<rect x="1058" y="729.5" width="10.8" height="10.8" fill="#fcebf3" stroke="#eeb0d4" stroke-width="1.2"/>
<rect x="1061.8" y="704" width="10.8" height="10.8" fill="#fcebf3" stroke="#eeb0d4" stroke-width="1.2"/>
<rect x="1065.5" y="684" width="10.8" height="10.8" fill="#fcebf3" stroke="#eeb0d4" stroke-width="1.2"/>
<rect x="1069.2" y="683.9" width="10.8" height="10.8" fill="#fcebf3" stroke="#eeb0d4" stroke-width="1.2"/>
<rect x="1073" y="683.8" width="10.8" height="10.8" fill="#fcebf3" stroke="#eeb0d4" stroke-width="1.2"/>
<rect x="1076.7" y="683.7" width="10.8" height="10.8" fill="#fcebf3" stroke="#eeb0d4" stroke-width="1.2"/>
<rect x="1080.4" y="683.6" width="10.8" height="10.8" fill="#fcebf3" stroke="#eeb0d4" stroke-width="1.2"/>
<rect x="1084.2" y="683.4" width="10.8" height="10.8" fill="#fcebf3" stroke="#eeb0d4" stroke-width="1.2"/>
<rect x="1087.9" y="683.3" width="10.8" height="10.8" fill="#fcebf3" stroke="#eeb0d4" stroke-width="1.2"/>
<rect x="1091.7" y="683.2" width="10.8" height="10.8" fill="#fcebf3" stroke="#eeb0d4" stroke-width="1.2"/>
<rect x="1095.4" y="683.1" width="10.8" height="10.8" fill="#fcebf3" stroke="#eeb0d4" stroke-width="1.2"/>
<rect x="1099.1" y="669" width="10.8" height="10.8" fill="#fcebf3" stroke="#eeb0d4" stroke-width="1.2"/>
<rect x="1102.9" y="660" width="10.8" height="10.8" fill="#fcebf3" stroke="#eeb0d4" stroke-width="1.2"/>
<rect x="1106.6" y="659.9" width="10.8" height="10.8" fill="#fcebf3" stroke="#eeb0d4" stroke-width="1.2"/>
<rect x="1110.3" y="659.8" width="10.8" height="10.8" fill="#fcebf3" stroke="#eeb0d4" stroke-width="1.2"/>
<rect x="1114.1" y="659.7" width="10.8" height="10.8" fill="#fcebf3" stroke="#eeb0d4" stroke-width="1.2"/>
<rect x="1117.8" y="659.6" width="10.8" height="10.8" fill="#fcebf3" stroke="#eeb0d4" stroke-width="1.2"/>
<rect x="1121.6" y="659.4" width="10.8" height="10.8" fill="#fcebf3" stroke="#eeb0d4" stroke-width="1.2"/>
<rect x="1125.3" y="659.3" width="10.8" height="10.8" fill="#fcebf3" stroke="#eeb0d4" stroke-width="1.2"/>
<rect x="1129" y="659.2" width="10.8" height="10.8" fill="#fcebf3" stroke="#eeb0d4" stroke-width="1.2"/>
<rect x="1132.8" y="659.1" width="10.8" height="10.8" fill="#fcebf3" stroke="#eeb0d4" stroke-width="1.2"/>
<rect x="1136.5" y="659" width="10.8" height="10.8" fill="#fcebf3" stroke="#eeb0d4" stroke-width="1.2"/>
<rect x="1140.2" y="649" width="10.8" height="10.8" fill="#fcebf3" stroke="#eeb0d4" stroke-width="1.2"/>
<rect x="1144" y="648.9" width="10.8" height="10.8" fill="#fcebf3" stroke="#eeb0d4" stroke-width="1.2"/>
<rect x="1147.7" y="648.8" width="10.8" height="10.8" fill="#fcebf3" stroke="#eeb0d4" stroke-width="1.2"/>
<rect x="1151.5" y="648.7" width="10.8" height="10.8" fill="#fcebf3" stroke="#eeb0d4" stroke-width="1.2"/>
<rect x="1155.2" y="648.6" width="10.8" height="10.8" fill="#fcebf3" stroke="#eeb0d4" stroke-width="1.2"/>
<rect x="1158.9" y="648.4" width="10.8" height="10.8" fill="#fcebf3" stroke="#eeb0d4" stroke-width="1.2"/>
<rect x="1162.7" y="648.3" width="10.8" height="10.8" fill="#fcebf3" stroke="#eeb0d4" stroke-width="1.2"/>
<rect x="1166.4" y="648.2" width="10.8" height="10.8" fill="#fcebf3" stroke="#eeb0d4" stroke-width="1.2"/>
<rect x="1170.1" y="648.1" width="10.8" height="10.8" fill="#fcebf3" stroke="#eeb0d4" stroke-width="1.2"/>
<rect x="1173.9" y="648" width="10.8" height="10.8" fill="#fcebf3" stroke="#eeb0d4" stroke-width="1.2"/>
<rect x="1177.6" y="631" width="10.8" height="10.8" fill="#fcebf3" stroke="#eeb0d4" stroke-width="1.2"/>
<rect x="1181.4" y="630.9" width="10.8" height="10.8" fill="#fcebf3" stroke="#eeb0d4" stroke-width="1.2"/>
<rect x="1185.1" y="630.8" width="10.8" height="10.8" fill="#fcebf3" stroke="#eeb0d4" stroke-width="1.2"/>
<rect x="1188.8" y="630.7" width="10.8" height="10.8" fill="#fcebf3" stroke="#eeb0d4" stroke-width="1.2"/>
<rect x="1192.6" y="630.6" width="10.8" height="10.8" fill="#fcebf3" stroke="#eeb0d4" stroke-width="1.2"/>
<rect x="1196.3" y="630.4" width="10.8" height="10.8" fill="#fcebf3" stroke="#eeb0d4" stroke-width="1.2"/>
<rect x="1200" y="630.3" width="10.8" height="10.8" fill="#fcebf3" stroke="#eeb0d4" stroke-width="1.2"/>
<rect x="1203.8" y="630.2" width="10.8" height="10.8" fill="#fcebf3" stroke="#eeb0d4" stroke-width="1.2"/>
<rect x="1207.5" y="630.1" width="10.8" height="10.8" fill="#fcebf3" stroke="#eeb0d4" stroke-width="1.2"/>
<rect x="1211.3" y="630" width="10.8" height="10.8" fill="#fcebf3" stroke="#eeb0d4" stroke-width="1.2"/>
<rect x="1215" y="617" width="10.8" height="10.8" fill="#fcebf3" stroke="#eeb0d4" stroke-width="1.2"/>
<rect x="1218.7" y="616.9" width="10.8" height="10.8" fill="#fcebf3" stroke="#eeb0d4" stroke-width="1.2"/>
<rect x="1222.5" y="616.9" width="10.8" height="10.8" fill="#fcebf3" stroke="#eeb0d4" stroke-width="1.2"/>
<rect x="1226.2" y="616.8" width="10.8" height="10.8" fill="#fcebf3" stroke="#eeb0d4" stroke-width="1.2"/>
<rect x="1229.9" y="616.8" width="10.8" height="10.8" fill="#fcebf3" stroke="#eeb0d4" stroke-width="1.2"/>
<rect x="1233.7" y="616.7" width="10.8" height="10.8" fill="#fcebf3" stroke="#eeb0d4" stroke-width="1.2"/>
<rect x="1237.4" y="616.6" width="10.8" height="10.8" fill="#fcebf3" stroke="#eeb0d4" stroke-width="1.2"/>
<rect x="1241.2" y="616.6" width="10.8" height="10.8" fill="#fcebf3" stroke="#eeb0d4" stroke-width="1.2"/>
<rect x="1244.9" y="616.5" width="10.8" height="10.8" fill="#fcebf3" stroke="#eeb0d4" stroke-width="1.2"/>
<polyline points="805.5,602 809.3,602.1 813,602.1 816.8,602.2 820.5,602.2 824.2,602.3 828,602.3 831.7,602.4 835.4,602.4 839.2,602.5 842.9,616.5 846.6,616.7 850.4,616.8 854.1,617 857.9,617.2 861.6,617.3 865.3,617.5 869.1,617.7 872.8,617.8 876.5,618 880.3,630.5 884,630.7 887.8,630.9 891.5,631.2 895.2,631.4 899,631.6 902.7,631.8 906.4,632.1 910.2,632.3 913.9,632.5 917.7,644 921.4,644.2 925.1,644.3 928.9,644.5 932.6,644.7 936.3,644.8 940.1,645 943.8,645.2 947.6,645.3 951.3,645.5 955,656.5 958.8,656.7 962.5,656.9 966.2,657.2 970,657.4 973.7,657.6 977.5,657.8 981.2,658.1 984.9,658.3 988.7,658.5 992.4,686 996.1,695 999.9,694.6 1003.6,694.1 1007.4,693.7 1011.1,693.2 1014.8,692.8 1018.6,692.4 1022.3,691.9 1026,691.5 1029.8,733 1033.5,739 1037.3,738.1 1041,737.1 1044.7,736.2 1048.5,735.2 1052.2,734.3 1056,733.4 1059.7,732.4 1063.4,731.5 1067.2,706 1070.9,686 1074.6,685.9 1078.4,685.8 1082.1,685.7 1085.8,685.6 1089.6,685.4 1093.3,685.3 1097.1,685.2 1100.8,685.1 1104.5,671 1108.3,662 1112,661.9 1115.8,661.8 1119.5,661.7 1123.2,661.6 1127,661.4 1130.7,661.3 1134.4,661.2 1138.2,661.1 1141.9,661 1145.7,651 1149.4,650.9 1153.1,650.8 1156.9,650.7 1160.6,650.6 1164.3,650.4 1168.1,650.3 1171.8,650.2 1175.5,650.1 1179.3,650 1183,633 1186.8,632.9 1190.5,632.8 1194.2,632.7 1198,632.6 1201.7,632.4 1205.4,632.3 1209.2,632.2 1212.9,632.1 1216.7,632 1220.4,619 1224.1,618.9 1227.9,618.9 1231.6,618.8 1235.3,618.8 1239.1,618.7 1242.8,618.6 1246.6,618.6 1250.3,618.5" fill="none" stroke="#f2843a" stroke-width="1.2" />
<rect x="800.1" y="596.6" width="10.8" height="10.8" fill="#fff2d4" stroke="#f5985a" stroke-width="1.2"/>
<rect x="803.9" y="596.7" width="10.8" height="10.8" fill="#fff2d4" stroke="#f5985a" stroke-width="1.2"/>
<rect x="807.6" y="596.7" width="10.8" height="10.8" fill="#fff2d4" stroke="#f5985a" stroke-width="1.2"/>
<rect x="811.4" y="596.8" width="10.8" height="10.8" fill="#fff2d4" stroke="#f5985a" stroke-width="1.2"/>
<rect x="815.1" y="596.8" width="10.8" height="10.8" fill="#fff2d4" stroke="#f5985a" stroke-width="1.2"/>
<rect x="818.8" y="596.9" width="10.8" height="10.8" fill="#fff2d4" stroke="#f5985a" stroke-width="1.2"/>
<rect x="822.6" y="596.9" width="10.8" height="10.8" fill="#fff2d4" stroke="#f5985a" stroke-width="1.2"/>
<rect x="826.3" y="597" width="10.8" height="10.8" fill="#fff2d4" stroke="#f5985a" stroke-width="1.2"/>
<rect x="830" y="597" width="10.8" height="10.8" fill="#fff2d4" stroke="#f5985a" stroke-width="1.2"/>
<rect x="833.8" y="597.1" width="10.8" height="10.8" fill="#fff2d4" stroke="#f5985a" stroke-width="1.2"/>
<rect x="837.5" y="611.1" width="10.8" height="10.8" fill="#fff2d4" stroke="#f5985a" stroke-width="1.2"/>
<rect x="841.2" y="611.3" width="10.8" height="10.8" fill="#fff2d4" stroke="#f5985a" stroke-width="1.2"/>
<rect x="845" y="611.4" width="10.8" height="10.8" fill="#fff2d4" stroke="#f5985a" stroke-width="1.2"/>
<rect x="848.7" y="611.6" width="10.8" height="10.8" fill="#fff2d4" stroke="#f5985a" stroke-width="1.2"/>
<rect x="852.5" y="611.8" width="10.8" height="10.8" fill="#fff2d4" stroke="#f5985a" stroke-width="1.2"/>
<rect x="856.2" y="611.9" width="10.8" height="10.8" fill="#fff2d4" stroke="#f5985a" stroke-width="1.2"/>
<rect x="859.9" y="612.1" width="10.8" height="10.8" fill="#fff2d4" stroke="#f5985a" stroke-width="1.2"/>
<rect x="863.7" y="612.3" width="10.8" height="10.8" fill="#fff2d4" stroke="#f5985a" stroke-width="1.2"/>
<rect x="867.4" y="612.4" width="10.8" height="10.8" fill="#fff2d4" stroke="#f5985a" stroke-width="1.2"/>
<rect x="871.1" y="612.6" width="10.8" height="10.8" fill="#fff2d4" stroke="#f5985a" stroke-width="1.2"/>
<rect x="874.9" y="625.1" width="10.8" height="10.8" fill="#fff2d4" stroke="#f5985a" stroke-width="1.2"/>
<rect x="878.6" y="625.3" width="10.8" height="10.8" fill="#fff2d4" stroke="#f5985a" stroke-width="1.2"/>
<rect x="882.4" y="625.5" width="10.8" height="10.8" fill="#fff2d4" stroke="#f5985a" stroke-width="1.2"/>
<rect x="886.1" y="625.8" width="10.8" height="10.8" fill="#fff2d4" stroke="#f5985a" stroke-width="1.2"/>
<rect x="889.8" y="626" width="10.8" height="10.8" fill="#fff2d4" stroke="#f5985a" stroke-width="1.2"/>
<rect x="893.6" y="626.2" width="10.8" height="10.8" fill="#fff2d4" stroke="#f5985a" stroke-width="1.2"/>
<rect x="897.3" y="626.4" width="10.8" height="10.8" fill="#fff2d4" stroke="#f5985a" stroke-width="1.2"/>
<rect x="901" y="626.7" width="10.8" height="10.8" fill="#fff2d4" stroke="#f5985a" stroke-width="1.2"/>
<rect x="904.8" y="626.9" width="10.8" height="10.8" fill="#fff2d4" stroke="#f5985a" stroke-width="1.2"/>
<rect x="908.5" y="627.1" width="10.8" height="10.8" fill="#fff2d4" stroke="#f5985a" stroke-width="1.2"/>
<rect x="912.3" y="638.6" width="10.8" height="10.8" fill="#fff2d4" stroke="#f5985a" stroke-width="1.2"/>
<rect x="916" y="638.8" width="10.8" height="10.8" fill="#fff2d4" stroke="#f5985a" stroke-width="1.2"/>
<rect x="919.7" y="638.9" width="10.8" height="10.8" fill="#fff2d4" stroke="#f5985a" stroke-width="1.2"/>
<rect x="923.5" y="639.1" width="10.8" height="10.8" fill="#fff2d4" stroke="#f5985a" stroke-width="1.2"/>
<rect x="927.2" y="639.3" width="10.8" height="10.8" fill="#fff2d4" stroke="#f5985a" stroke-width="1.2"/>
<rect x="930.9" y="639.4" width="10.8" height="10.8" fill="#fff2d4" stroke="#f5985a" stroke-width="1.2"/>
<rect x="934.7" y="639.6" width="10.8" height="10.8" fill="#fff2d4" stroke="#f5985a" stroke-width="1.2"/>
<rect x="938.4" y="639.8" width="10.8" height="10.8" fill="#fff2d4" stroke="#f5985a" stroke-width="1.2"/>
<rect x="942.2" y="639.9" width="10.8" height="10.8" fill="#fff2d4" stroke="#f5985a" stroke-width="1.2"/>
<rect x="945.9" y="640.1" width="10.8" height="10.8" fill="#fff2d4" stroke="#f5985a" stroke-width="1.2"/>
<rect x="949.6" y="651.1" width="10.8" height="10.8" fill="#fff2d4" stroke="#f5985a" stroke-width="1.2"/>
<rect x="953.4" y="651.3" width="10.8" height="10.8" fill="#fff2d4" stroke="#f5985a" stroke-width="1.2"/>
<rect x="957.1" y="651.5" width="10.8" height="10.8" fill="#fff2d4" stroke="#f5985a" stroke-width="1.2"/>
<rect x="960.9" y="651.8" width="10.8" height="10.8" fill="#fff2d4" stroke="#f5985a" stroke-width="1.2"/>
<rect x="964.6" y="652" width="10.8" height="10.8" fill="#fff2d4" stroke="#f5985a" stroke-width="1.2"/>
<rect x="968.3" y="652.2" width="10.8" height="10.8" fill="#fff2d4" stroke="#f5985a" stroke-width="1.2"/>
<rect x="972.1" y="652.4" width="10.8" height="10.8" fill="#fff2d4" stroke="#f5985a" stroke-width="1.2"/>
<rect x="975.8" y="652.7" width="10.8" height="10.8" fill="#fff2d4" stroke="#f5985a" stroke-width="1.2"/>
<rect x="979.5" y="652.9" width="10.8" height="10.8" fill="#fff2d4" stroke="#f5985a" stroke-width="1.2"/>
<rect x="983.3" y="653.1" width="10.8" height="10.8" fill="#fff2d4" stroke="#f5985a" stroke-width="1.2"/>
<rect x="987" y="680.6" width="10.8" height="10.8" fill="#fff2d4" stroke="#f5985a" stroke-width="1.2"/>
<rect x="990.8" y="689.6" width="10.8" height="10.8" fill="#fff2d4" stroke="#f5985a" stroke-width="1.2"/>
<rect x="994.5" y="689.2" width="10.8" height="10.8" fill="#fff2d4" stroke="#f5985a" stroke-width="1.2"/>
<rect x="998.2" y="688.7" width="10.8" height="10.8" fill="#fff2d4" stroke="#f5985a" stroke-width="1.2"/>
<rect x="1002" y="688.3" width="10.8" height="10.8" fill="#fff2d4" stroke="#f5985a" stroke-width="1.2"/>
<rect x="1005.7" y="687.9" width="10.8" height="10.8" fill="#fff2d4" stroke="#f5985a" stroke-width="1.2"/>
<rect x="1009.4" y="687.4" width="10.8" height="10.8" fill="#fff2d4" stroke="#f5985a" stroke-width="1.2"/>
<rect x="1013.2" y="687" width="10.8" height="10.8" fill="#fff2d4" stroke="#f5985a" stroke-width="1.2"/>
<rect x="1016.9" y="686.5" width="10.8" height="10.8" fill="#fff2d4" stroke="#f5985a" stroke-width="1.2"/>
<rect x="1020.6" y="686.1" width="10.8" height="10.8" fill="#fff2d4" stroke="#f5985a" stroke-width="1.2"/>
<rect x="1024.4" y="727.6" width="10.8" height="10.8" fill="#fff2d4" stroke="#f5985a" stroke-width="1.2"/>
<rect x="1028.1" y="733.6" width="10.8" height="10.8" fill="#fff2d4" stroke="#f5985a" stroke-width="1.2"/>
<rect x="1031.9" y="732.7" width="10.8" height="10.8" fill="#fff2d4" stroke="#f5985a" stroke-width="1.2"/>
<rect x="1035.6" y="731.7" width="10.8" height="10.8" fill="#fff2d4" stroke="#f5985a" stroke-width="1.2"/>
<rect x="1039.3" y="730.8" width="10.8" height="10.8" fill="#fff2d4" stroke="#f5985a" stroke-width="1.2"/>
<rect x="1043.1" y="729.9" width="10.8" height="10.8" fill="#fff2d4" stroke="#f5985a" stroke-width="1.2"/>
<rect x="1046.8" y="728.9" width="10.8" height="10.8" fill="#fff2d4" stroke="#f5985a" stroke-width="1.2"/>
<rect x="1050.5" y="728" width="10.8" height="10.8" fill="#fff2d4" stroke="#f5985a" stroke-width="1.2"/>
<rect x="1054.3" y="727" width="10.8" height="10.8" fill="#fff2d4" stroke="#f5985a" stroke-width="1.2"/>
<rect x="1058" y="726.1" width="10.8" height="10.8" fill="#fff2d4" stroke="#f5985a" stroke-width="1.2"/>
<rect x="1061.8" y="700.6" width="10.8" height="10.8" fill="#fff2d4" stroke="#f5985a" stroke-width="1.2"/>
<rect x="1065.5" y="680.6" width="10.8" height="10.8" fill="#fff2d4" stroke="#f5985a" stroke-width="1.2"/>
<rect x="1069.2" y="680.5" width="10.8" height="10.8" fill="#fff2d4" stroke="#f5985a" stroke-width="1.2"/>
<rect x="1073" y="680.4" width="10.8" height="10.8" fill="#fff2d4" stroke="#f5985a" stroke-width="1.2"/>
<rect x="1076.7" y="680.3" width="10.8" height="10.8" fill="#fff2d4" stroke="#f5985a" stroke-width="1.2"/>
<rect x="1080.4" y="680.2" width="10.8" height="10.8" fill="#fff2d4" stroke="#f5985a" stroke-width="1.2"/>
<rect x="1084.2" y="680" width="10.8" height="10.8" fill="#fff2d4" stroke="#f5985a" stroke-width="1.2"/>
<rect x="1087.9" y="679.9" width="10.8" height="10.8" fill="#fff2d4" stroke="#f5985a" stroke-width="1.2"/>
<rect x="1091.7" y="679.8" width="10.8" height="10.8" fill="#fff2d4" stroke="#f5985a" stroke-width="1.2"/>
<rect x="1095.4" y="679.7" width="10.8" height="10.8" fill="#fff2d4" stroke="#f5985a" stroke-width="1.2"/>
<rect x="1099.1" y="665.6" width="10.8" height="10.8" fill="#fff2d4" stroke="#f5985a" stroke-width="1.2"/>
<rect x="1102.9" y="656.6" width="10.8" height="10.8" fill="#fff2d4" stroke="#f5985a" stroke-width="1.2"/>
<rect x="1106.6" y="656.5" width="10.8" height="10.8" fill="#fff2d4" stroke="#f5985a" stroke-width="1.2"/>
<rect x="1110.3" y="656.4" width="10.8" height="10.8" fill="#fff2d4" stroke="#f5985a" stroke-width="1.2"/>
<rect x="1114.1" y="656.3" width="10.8" height="10.8" fill="#fff2d4" stroke="#f5985a" stroke-width="1.2"/>
<rect x="1117.8" y="656.2" width="10.8" height="10.8" fill="#fff2d4" stroke="#f5985a" stroke-width="1.2"/>
<rect x="1121.6" y="656" width="10.8" height="10.8" fill="#fff2d4" stroke="#f5985a" stroke-width="1.2"/>
<rect x="1125.3" y="655.9" width="10.8" height="10.8" fill="#fff2d4" stroke="#f5985a" stroke-width="1.2"/>
<rect x="1129" y="655.8" width="10.8" height="10.8" fill="#fff2d4" stroke="#f5985a" stroke-width="1.2"/>
<rect x="1132.8" y="655.7" width="10.8" height="10.8" fill="#fff2d4" stroke="#f5985a" stroke-width="1.2"/>
<rect x="1136.5" y="655.6" width="10.8" height="10.8" fill="#fff2d4" stroke="#f5985a" stroke-width="1.2"/>
<rect x="1140.2" y="645.6" width="10.8" height="10.8" fill="#fff2d4" stroke="#f5985a" stroke-width="1.2"/>
<rect x="1144" y="645.5" width="10.8" height="10.8" fill="#fff2d4" stroke="#f5985a" stroke-width="1.2"/>
<rect x="1147.7" y="645.4" width="10.8" height="10.8" fill="#fff2d4" stroke="#f5985a" stroke-width="1.2"/>
<rect x="1151.5" y="645.3" width="10.8" height="10.8" fill="#fff2d4" stroke="#f5985a" stroke-width="1.2"/>
<rect x="1155.2" y="645.2" width="10.8" height="10.8" fill="#fff2d4" stroke="#f5985a" stroke-width="1.2"/>
<rect x="1158.9" y="645" width="10.8" height="10.8" fill="#fff2d4" stroke="#f5985a" stroke-width="1.2"/>
<rect x="1162.7" y="644.9" width="10.8" height="10.8" fill="#fff2d4" stroke="#f5985a" stroke-width="1.2"/>
<rect x="1166.4" y="644.8" width="10.8" height="10.8" fill="#fff2d4" stroke="#f5985a" stroke-width="1.2"/>
<rect x="1170.1" y="644.7" width="10.8" height="10.8" fill="#fff2d4" stroke="#f5985a" stroke-width="1.2"/>
<rect x="1173.9" y="644.6" width="10.8" height="10.8" fill="#fff2d4" stroke="#f5985a" stroke-width="1.2"/>
<rect x="1177.6" y="627.6" width="10.8" height="10.8" fill="#fff2d4" stroke="#f5985a" stroke-width="1.2"/>
<rect x="1181.4" y="627.5" width="10.8" height="10.8" fill="#fff2d4" stroke="#f5985a" stroke-width="1.2"/>
<rect x="1185.1" y="627.4" width="10.8" height="10.8" fill="#fff2d4" stroke="#f5985a" stroke-width="1.2"/>
<rect x="1188.8" y="627.3" width="10.8" height="10.8" fill="#fff2d4" stroke="#f5985a" stroke-width="1.2"/>
<rect x="1192.6" y="627.2" width="10.8" height="10.8" fill="#fff2d4" stroke="#f5985a" stroke-width="1.2"/>
<rect x="1196.3" y="627" width="10.8" height="10.8" fill="#fff2d4" stroke="#f5985a" stroke-width="1.2"/>
<rect x="1200" y="626.9" width="10.8" height="10.8" fill="#fff2d4" stroke="#f5985a" stroke-width="1.2"/>
<rect x="1203.8" y="626.8" width="10.8" height="10.8" fill="#fff2d4" stroke="#f5985a" stroke-width="1.2"/>
<rect x="1207.5" y="626.7" width="10.8" height="10.8" fill="#fff2d4" stroke="#f5985a" stroke-width="1.2"/>
<rect x="1211.3" y="626.6" width="10.8" height="10.8" fill="#fff2d4" stroke="#f5985a" stroke-width="1.2"/>
<rect x="1215" y="613.6" width="10.8" height="10.8" fill="#fff2d4" stroke="#f5985a" stroke-width="1.2"/>
<rect x="1218.7" y="613.5" width="10.8" height="10.8" fill="#fff2d4" stroke="#f5985a" stroke-width="1.2"/>
<rect x="1222.5" y="613.5" width="10.8" height="10.8" fill="#fff2d4" stroke="#f5985a" stroke-width="1.2"/>
<rect x="1226.2" y="613.4" width="10.8" height="10.8" fill="#fff2d4" stroke="#f5985a" stroke-width="1.2"/>
<rect x="1229.9" y="613.4" width="10.8" height="10.8" fill="#fff2d4" stroke="#f5985a" stroke-width="1.2"/>
<rect x="1233.7" y="613.3" width="10.8" height="10.8" fill="#fff2d4" stroke="#f5985a" stroke-width="1.2"/>
<rect x="1237.4" y="613.2" width="10.8" height="10.8" fill="#fff2d4" stroke="#f5985a" stroke-width="1.2"/>
<rect x="1241.2" y="613.2" width="10.8" height="10.8" fill="#fff2d4" stroke="#f5985a" stroke-width="1.2"/>
<rect x="1244.9" y="613.1" width="10.8" height="10.8" fill="#fff2d4" stroke="#f5985a" stroke-width="1.2"/>
<polyline points="805.5,550.6 809.3,550.6 813,550.6 816.8,550.6 820.5,550.6 824.2,550.6 828,550.6 831.7,550.6 835.4,550.6 839.2,550.6 842.9,553.2 846.6,549.4 850.4,549.4 854.1,549.4 857.9,549.4 861.6,549.4 865.3,549.4 869.1,549.4 872.8,549.4 876.5,549.4 880.3,552 884,549.4 887.8,549.4 891.5,549.4 895.2,549.4 899,549.4 902.7,549.4 906.4,549.4 910.2,549.4 913.9,549.4 917.7,551.2 921.4,549.4 925.1,549.4 928.9,549.4 932.6,549.4 936.3,549.4 940.1,549.4 943.8,549.4 947.6,549.4 951.3,549.4 955,555 958.8,549.4 962.5,549.4 966.2,549.4 970,549.4 973.7,549.4 977.5,549.4 981.2,549.4 984.9,549.4 988.7,549.4 992.4,559.3 996.1,550.5 999.9,550.4 1003.6,550.2 1007.4,550 1011.1,549.9 1014.8,549.8 1018.6,549.6 1022.3,549.5 1026,549.3 1029.8,569.4 1033.5,557.5 1037.3,553 1041,551 1044.7,549.5 1048.5,549.5 1052.2,549.5 1056,549.5 1059.7,549.5 1063.4,549.5 1067.2,506 1070.9,549.4 1074.6,549.4 1078.4,549.4 1082.1,549.4 1085.8,549.4 1089.6,549.4 1093.3,549.4 1097.1,549.4 1100.8,549.4 1104.5,549.4 1108.3,549.4 1112,549.4 1115.8,549.4 1119.5,549.4 1123.2,549.4 1127,549.4 1130.7,549.4 1134.4,549.4 1138.2,549.4 1141.9,549.4 1145.7,549.4 1149.4,549.4 1153.1,549.4 1156.9,549.4 1160.6,549.4 1164.3,549.4 1168.1,549.4 1171.8,549.4 1175.5,549.4 1179.3,549.4 1183,549.4 1186.8,549.4 1190.5,549.4 1194.2,549.4 1198,549.4 1201.7,549.4 1205.4,549.4 1209.2,549.4 1212.9,549.4 1216.7,549.4 1220.4,549.4 1224.1,549.4 1227.9,549.4 1231.6,549.4 1235.3,549.4 1239.1,549.4 1242.8,549.4 1246.6,549.4 1250.3,549.4" fill="none" stroke="#6650a8" stroke-width="1.3" />
<rect x="800.5" y="545.6" width="10" height="10" fill="#e9e0f5" stroke="#9a84c6" stroke-width="1.4"/>
<rect x="804.3" y="545.6" width="10" height="10" fill="#e9e0f5" stroke="#9a84c6" stroke-width="1.4"/>
<rect x="808" y="545.6" width="10" height="10" fill="#e9e0f5" stroke="#9a84c6" stroke-width="1.4"/>
<rect x="811.8" y="545.6" width="10" height="10" fill="#e9e0f5" stroke="#9a84c6" stroke-width="1.4"/>
<rect x="815.5" y="545.6" width="10" height="10" fill="#e9e0f5" stroke="#9a84c6" stroke-width="1.4"/>
<rect x="819.2" y="545.6" width="10" height="10" fill="#e9e0f5" stroke="#9a84c6" stroke-width="1.4"/>
<rect x="823" y="545.6" width="10" height="10" fill="#e9e0f5" stroke="#9a84c6" stroke-width="1.4"/>
<rect x="826.7" y="545.6" width="10" height="10" fill="#e9e0f5" stroke="#9a84c6" stroke-width="1.4"/>
<rect x="830.4" y="545.6" width="10" height="10" fill="#e9e0f5" stroke="#9a84c6" stroke-width="1.4"/>
<rect x="834.2" y="545.6" width="10" height="10" fill="#e9e0f5" stroke="#9a84c6" stroke-width="1.4"/>
<rect x="837.9" y="548.2" width="10" height="10" fill="#e9e0f5" stroke="#9a84c6" stroke-width="1.4"/>
<rect x="841.6" y="544.4" width="10" height="10" fill="#e9e0f5" stroke="#9a84c6" stroke-width="1.4"/>
<rect x="845.4" y="544.4" width="10" height="10" fill="#e9e0f5" stroke="#9a84c6" stroke-width="1.4"/>
<rect x="849.1" y="544.4" width="10" height="10" fill="#e9e0f5" stroke="#9a84c6" stroke-width="1.4"/>
<rect x="852.9" y="544.4" width="10" height="10" fill="#e9e0f5" stroke="#9a84c6" stroke-width="1.4"/>
<rect x="856.6" y="544.4" width="10" height="10" fill="#e9e0f5" stroke="#9a84c6" stroke-width="1.4"/>
<rect x="860.3" y="544.4" width="10" height="10" fill="#e9e0f5" stroke="#9a84c6" stroke-width="1.4"/>
<rect x="864.1" y="544.4" width="10" height="10" fill="#e9e0f5" stroke="#9a84c6" stroke-width="1.4"/>
<rect x="867.8" y="544.4" width="10" height="10" fill="#e9e0f5" stroke="#9a84c6" stroke-width="1.4"/>
<rect x="871.5" y="544.4" width="10" height="10" fill="#e9e0f5" stroke="#9a84c6" stroke-width="1.4"/>
<rect x="875.3" y="547" width="10" height="10" fill="#e9e0f5" stroke="#9a84c6" stroke-width="1.4"/>
<rect x="879" y="544.4" width="10" height="10" fill="#e9e0f5" stroke="#9a84c6" stroke-width="1.4"/>
<rect x="882.8" y="544.4" width="10" height="10" fill="#e9e0f5" stroke="#9a84c6" stroke-width="1.4"/>
<rect x="886.5" y="544.4" width="10" height="10" fill="#e9e0f5" stroke="#9a84c6" stroke-width="1.4"/>
<rect x="890.2" y="544.4" width="10" height="10" fill="#e9e0f5" stroke="#9a84c6" stroke-width="1.4"/>
<rect x="894" y="544.4" width="10" height="10" fill="#e9e0f5" stroke="#9a84c6" stroke-width="1.4"/>
<rect x="897.7" y="544.4" width="10" height="10" fill="#e9e0f5" stroke="#9a84c6" stroke-width="1.4"/>
<rect x="901.4" y="544.4" width="10" height="10" fill="#e9e0f5" stroke="#9a84c6" stroke-width="1.4"/>
<rect x="905.2" y="544.4" width="10" height="10" fill="#e9e0f5" stroke="#9a84c6" stroke-width="1.4"/>
<rect x="908.9" y="544.4" width="10" height="10" fill="#e9e0f5" stroke="#9a84c6" stroke-width="1.4"/>
<rect x="912.7" y="546.2" width="10" height="10" fill="#e9e0f5" stroke="#9a84c6" stroke-width="1.4"/>
<rect x="916.4" y="544.4" width="10" height="10" fill="#e9e0f5" stroke="#9a84c6" stroke-width="1.4"/>
<rect x="920.1" y="544.4" width="10" height="10" fill="#e9e0f5" stroke="#9a84c6" stroke-width="1.4"/>
<rect x="923.9" y="544.4" width="10" height="10" fill="#e9e0f5" stroke="#9a84c6" stroke-width="1.4"/>
<rect x="927.6" y="544.4" width="10" height="10" fill="#e9e0f5" stroke="#9a84c6" stroke-width="1.4"/>
<rect x="931.3" y="544.4" width="10" height="10" fill="#e9e0f5" stroke="#9a84c6" stroke-width="1.4"/>
<rect x="935.1" y="544.4" width="10" height="10" fill="#e9e0f5" stroke="#9a84c6" stroke-width="1.4"/>
<rect x="938.8" y="544.4" width="10" height="10" fill="#e9e0f5" stroke="#9a84c6" stroke-width="1.4"/>
<rect x="942.6" y="544.4" width="10" height="10" fill="#e9e0f5" stroke="#9a84c6" stroke-width="1.4"/>
<rect x="946.3" y="544.4" width="10" height="10" fill="#e9e0f5" stroke="#9a84c6" stroke-width="1.4"/>
<rect x="950" y="550" width="10" height="10" fill="#e9e0f5" stroke="#9a84c6" stroke-width="1.4"/>
<rect x="953.8" y="544.4" width="10" height="10" fill="#e9e0f5" stroke="#9a84c6" stroke-width="1.4"/>
<rect x="957.5" y="544.4" width="10" height="10" fill="#e9e0f5" stroke="#9a84c6" stroke-width="1.4"/>
<rect x="961.2" y="544.4" width="10" height="10" fill="#e9e0f5" stroke="#9a84c6" stroke-width="1.4"/>
<rect x="965" y="544.4" width="10" height="10" fill="#e9e0f5" stroke="#9a84c6" stroke-width="1.4"/>
<rect x="968.7" y="544.4" width="10" height="10" fill="#e9e0f5" stroke="#9a84c6" stroke-width="1.4"/>
<rect x="972.5" y="544.4" width="10" height="10" fill="#e9e0f5" stroke="#9a84c6" stroke-width="1.4"/>
<rect x="976.2" y="544.4" width="10" height="10" fill="#e9e0f5" stroke="#9a84c6" stroke-width="1.4"/>
<rect x="979.9" y="544.4" width="10" height="10" fill="#e9e0f5" stroke="#9a84c6" stroke-width="1.4"/>
<rect x="983.7" y="544.4" width="10" height="10" fill="#e9e0f5" stroke="#9a84c6" stroke-width="1.4"/>
<rect x="987.4" y="554.3" width="10" height="10" fill="#e9e0f5" stroke="#9a84c6" stroke-width="1.4"/>
<rect x="991.1" y="545.5" width="10" height="10" fill="#e9e0f5" stroke="#9a84c6" stroke-width="1.4"/>
<rect x="994.9" y="545.4" width="10" height="10" fill="#e9e0f5" stroke="#9a84c6" stroke-width="1.4"/>
<rect x="998.6" y="545.2" width="10" height="10" fill="#e9e0f5" stroke="#9a84c6" stroke-width="1.4"/>
<rect x="1002.4" y="545" width="10" height="10" fill="#e9e0f5" stroke="#9a84c6" stroke-width="1.4"/>
<rect x="1006.1" y="544.9" width="10" height="10" fill="#e9e0f5" stroke="#9a84c6" stroke-width="1.4"/>
<rect x="1009.8" y="544.8" width="10" height="10" fill="#e9e0f5" stroke="#9a84c6" stroke-width="1.4"/>
<rect x="1013.6" y="544.6" width="10" height="10" fill="#e9e0f5" stroke="#9a84c6" stroke-width="1.4"/>
<rect x="1017.3" y="544.5" width="10" height="10" fill="#e9e0f5" stroke="#9a84c6" stroke-width="1.4"/>
<rect x="1021" y="544.3" width="10" height="10" fill="#e9e0f5" stroke="#9a84c6" stroke-width="1.4"/>
<rect x="1024.8" y="564.4" width="10" height="10" fill="#e9e0f5" stroke="#9a84c6" stroke-width="1.4"/>
<rect x="1028.5" y="552.5" width="10" height="10" fill="#e9e0f5" stroke="#9a84c6" stroke-width="1.4"/>
<rect x="1032.3" y="548" width="10" height="10" fill="#e9e0f5" stroke="#9a84c6" stroke-width="1.4"/>
<rect x="1036" y="546" width="10" height="10" fill="#e9e0f5" stroke="#9a84c6" stroke-width="1.4"/>
<rect x="1039.7" y="544.5" width="10" height="10" fill="#e9e0f5" stroke="#9a84c6" stroke-width="1.4"/>
<rect x="1043.5" y="544.5" width="10" height="10" fill="#e9e0f5" stroke="#9a84c6" stroke-width="1.4"/>
<rect x="1047.2" y="544.5" width="10" height="10" fill="#e9e0f5" stroke="#9a84c6" stroke-width="1.4"/>
<rect x="1051" y="544.5" width="10" height="10" fill="#e9e0f5" stroke="#9a84c6" stroke-width="1.4"/>
<rect x="1054.7" y="544.5" width="10" height="10" fill="#e9e0f5" stroke="#9a84c6" stroke-width="1.4"/>
<rect x="1058.4" y="544.5" width="10" height="10" fill="#e9e0f5" stroke="#9a84c6" stroke-width="1.4"/>
<rect x="1062.2" y="491.6" width="10" height="10" fill="#e9e0f5" stroke="#9a84c6" stroke-width="1.4"/>
<rect x="1065.9" y="544.4" width="10" height="10" fill="#e9e0f5" stroke="#9a84c6" stroke-width="1.4"/>
<rect x="1069.6" y="544.4" width="10" height="10" fill="#e9e0f5" stroke="#9a84c6" stroke-width="1.4"/>
<rect x="1073.4" y="544.4" width="10" height="10" fill="#e9e0f5" stroke="#9a84c6" stroke-width="1.4"/>
<rect x="1077.1" y="544.4" width="10" height="10" fill="#e9e0f5" stroke="#9a84c6" stroke-width="1.4"/>
<rect x="1080.8" y="544.4" width="10" height="10" fill="#e9e0f5" stroke="#9a84c6" stroke-width="1.4"/>
<rect x="1084.6" y="544.4" width="10" height="10" fill="#e9e0f5" stroke="#9a84c6" stroke-width="1.4"/>
<rect x="1088.3" y="544.4" width="10" height="10" fill="#e9e0f5" stroke="#9a84c6" stroke-width="1.4"/>
<rect x="1092.1" y="544.4" width="10" height="10" fill="#e9e0f5" stroke="#9a84c6" stroke-width="1.4"/>
<rect x="1095.8" y="544.4" width="10" height="10" fill="#e9e0f5" stroke="#9a84c6" stroke-width="1.4"/>
<rect x="1099.5" y="527.6" width="10" height="10" fill="#e9e0f5" stroke="#9a84c6" stroke-width="1.4"/>
<rect x="1103.3" y="544.4" width="10" height="10" fill="#e9e0f5" stroke="#9a84c6" stroke-width="1.4"/>
<rect x="1107" y="544.4" width="10" height="10" fill="#e9e0f5" stroke="#9a84c6" stroke-width="1.4"/>
<rect x="1110.8" y="544.4" width="10" height="10" fill="#e9e0f5" stroke="#9a84c6" stroke-width="1.4"/>
<rect x="1114.5" y="544.4" width="10" height="10" fill="#e9e0f5" stroke="#9a84c6" stroke-width="1.4"/>
<rect x="1118.2" y="544.4" width="10" height="10" fill="#e9e0f5" stroke="#9a84c6" stroke-width="1.4"/>
<rect x="1122" y="544.4" width="10" height="10" fill="#e9e0f5" stroke="#9a84c6" stroke-width="1.4"/>
<rect x="1125.7" y="544.4" width="10" height="10" fill="#e9e0f5" stroke="#9a84c6" stroke-width="1.4"/>
<rect x="1129.4" y="544.4" width="10" height="10" fill="#e9e0f5" stroke="#9a84c6" stroke-width="1.4"/>
<rect x="1133.2" y="544.4" width="10" height="10" fill="#e9e0f5" stroke="#9a84c6" stroke-width="1.4"/>
<rect x="1136.9" y="536" width="10" height="10" fill="#e9e0f5" stroke="#9a84c6" stroke-width="1.4"/>
<rect x="1140.7" y="544.4" width="10" height="10" fill="#e9e0f5" stroke="#9a84c6" stroke-width="1.4"/>
<rect x="1144.4" y="544.4" width="10" height="10" fill="#e9e0f5" stroke="#9a84c6" stroke-width="1.4"/>
<rect x="1148.1" y="544.4" width="10" height="10" fill="#e9e0f5" stroke="#9a84c6" stroke-width="1.4"/>
<rect x="1151.9" y="544.4" width="10" height="10" fill="#e9e0f5" stroke="#9a84c6" stroke-width="1.4"/>
<rect x="1155.6" y="544.4" width="10" height="10" fill="#e9e0f5" stroke="#9a84c6" stroke-width="1.4"/>
<rect x="1159.3" y="544.4" width="10" height="10" fill="#e9e0f5" stroke="#9a84c6" stroke-width="1.4"/>
<rect x="1163.1" y="544.4" width="10" height="10" fill="#e9e0f5" stroke="#9a84c6" stroke-width="1.4"/>
<rect x="1166.8" y="544.4" width="10" height="10" fill="#e9e0f5" stroke="#9a84c6" stroke-width="1.4"/>
<rect x="1170.5" y="544.4" width="10" height="10" fill="#e9e0f5" stroke="#9a84c6" stroke-width="1.4"/>
<rect x="1174.3" y="544.4" width="10" height="10" fill="#e9e0f5" stroke="#9a84c6" stroke-width="1.4"/>
<rect x="1178" y="544.4" width="10" height="10" fill="#e9e0f5" stroke="#9a84c6" stroke-width="1.4"/>
<rect x="1181.8" y="544.4" width="10" height="10" fill="#e9e0f5" stroke="#9a84c6" stroke-width="1.4"/>
<rect x="1185.5" y="544.4" width="10" height="10" fill="#e9e0f5" stroke="#9a84c6" stroke-width="1.4"/>
<rect x="1189.2" y="544.4" width="10" height="10" fill="#e9e0f5" stroke="#9a84c6" stroke-width="1.4"/>
<rect x="1193" y="544.4" width="10" height="10" fill="#e9e0f5" stroke="#9a84c6" stroke-width="1.4"/>
<rect x="1196.7" y="544.4" width="10" height="10" fill="#e9e0f5" stroke="#9a84c6" stroke-width="1.4"/>
<rect x="1200.4" y="544.4" width="10" height="10" fill="#e9e0f5" stroke="#9a84c6" stroke-width="1.4"/>
<rect x="1204.2" y="544.4" width="10" height="10" fill="#e9e0f5" stroke="#9a84c6" stroke-width="1.4"/>
<rect x="1207.9" y="544.4" width="10" height="10" fill="#e9e0f5" stroke="#9a84c6" stroke-width="1.4"/>
<rect x="1211.7" y="536.5" width="10" height="10" fill="#e9e0f5" stroke="#9a84c6" stroke-width="1.4"/>
<rect x="1215.4" y="544.4" width="10" height="10" fill="#e9e0f5" stroke="#9a84c6" stroke-width="1.4"/>
<rect x="1219.1" y="544.4" width="10" height="10" fill="#e9e0f5" stroke="#9a84c6" stroke-width="1.4"/>
<rect x="1222.9" y="544.4" width="10" height="10" fill="#e9e0f5" stroke="#9a84c6" stroke-width="1.4"/>
<rect x="1226.6" y="544.4" width="10" height="10" fill="#e9e0f5" stroke="#9a84c6" stroke-width="1.4"/>
<rect x="1230.3" y="544.4" width="10" height="10" fill="#e9e0f5" stroke="#9a84c6" stroke-width="1.4"/>
<rect x="1234.1" y="544.4" width="10" height="10" fill="#e9e0f5" stroke="#9a84c6" stroke-width="1.4"/>
<rect x="1237.8" y="544.4" width="10" height="10" fill="#e9e0f5" stroke="#9a84c6" stroke-width="1.4"/>
<rect x="1241.6" y="544.4" width="10" height="10" fill="#e9e0f5" stroke="#9a84c6" stroke-width="1.4"/>
<rect x="1245.3" y="544.4" width="10" height="10" fill="#e9e0f5" stroke="#9a84c6" stroke-width="1.4"/>
</g>
<line x1="799.2" y1="486.2" x2="1250.3" y2="486.2" stroke="#000" stroke-width="5.2" />
<line x1="801.8" y1="486.2" x2="801.8" y2="846.8" stroke="#000" stroke-width="5.2" />
<line x1="799.2" y1="844.2" x2="1252.3" y2="844.2" stroke="#000" stroke-width="5.2" />
<line x1="1250.3" y1="483.6" x2="1250.3" y2="845.2" stroke="#5b46ab" stroke-width="4.6" />
<line x1="793" y1="844.2" x2="801.8" y2="844.2" stroke="#000" stroke-width="3.6" />
<line x1="1250.3" y1="844.2" x2="1257.9" y2="844.2" stroke="#5b46ab" stroke-width="3.4" />
<line x1="796" y1="814.4" x2="801.8" y2="814.4" stroke="#000" stroke-width="3.6" />
<line x1="1250.3" y1="814.4" x2="1255.3" y2="814.4" stroke="#5b46ab" stroke-width="3.4" />
<line x1="793" y1="784.5" x2="801.8" y2="784.5" stroke="#000" stroke-width="3.6" />
<line x1="1250.3" y1="784.5" x2="1257.9" y2="784.5" stroke="#5b46ab" stroke-width="3.4" />
<line x1="796" y1="754.7" x2="801.8" y2="754.7" stroke="#000" stroke-width="3.6" />
<line x1="1250.3" y1="754.7" x2="1255.3" y2="754.7" stroke="#5b46ab" stroke-width="3.4" />
<line x1="793" y1="724.9" x2="801.8" y2="724.9" stroke="#000" stroke-width="3.6" />
<line x1="1250.3" y1="724.9" x2="1257.9" y2="724.9" stroke="#5b46ab" stroke-width="3.4" />
<line x1="796" y1="695" x2="801.8" y2="695" stroke="#000" stroke-width="3.6" />
<line x1="1250.3" y1="695" x2="1255.3" y2="695" stroke="#5b46ab" stroke-width="3.4" />
<line x1="793" y1="665.2" x2="801.8" y2="665.2" stroke="#000" stroke-width="3.6" />
<line x1="1250.3" y1="665.2" x2="1257.9" y2="665.2" stroke="#5b46ab" stroke-width="3.4" />
<line x1="796" y1="635.4" x2="801.8" y2="635.4" stroke="#000" stroke-width="3.6" />
<line x1="1250.3" y1="635.4" x2="1255.3" y2="635.4" stroke="#5b46ab" stroke-width="3.4" />
<line x1="793" y1="605.5" x2="801.8" y2="605.5" stroke="#000" stroke-width="3.6" />
<line x1="1250.3" y1="605.5" x2="1257.9" y2="605.5" stroke="#5b46ab" stroke-width="3.4" />
<line x1="796" y1="575.7" x2="801.8" y2="575.7" stroke="#000" stroke-width="3.6" />
<line x1="1250.3" y1="575.7" x2="1255.3" y2="575.7" stroke="#5b46ab" stroke-width="3.4" />
<line x1="793" y1="545.9" x2="801.8" y2="545.9" stroke="#000" stroke-width="3.6" />
<line x1="1250.3" y1="545.9" x2="1257.9" y2="545.9" stroke="#5b46ab" stroke-width="3.4" />
<line x1="796" y1="516" x2="801.8" y2="516" stroke="#000" stroke-width="3.6" />
<line x1="1250.3" y1="516" x2="1255.3" y2="516" stroke="#5b46ab" stroke-width="3.4" />
<line x1="793" y1="486.2" x2="801.8" y2="486.2" stroke="#000" stroke-width="3.6" />
<line x1="1250.3" y1="486.2" x2="1257.9" y2="486.2" stroke="#5b46ab" stroke-width="3.4" />
<line x1="801.8" y1="844.2" x2="801.8" y2="853.7" stroke="#000" stroke-width="3.6" />
<line x1="839.2" y1="844.2" x2="839.2" y2="850.2" stroke="#000" stroke-width="3.6" />
<line x1="876.5" y1="844.2" x2="876.5" y2="853.7" stroke="#000" stroke-width="3.6" />
<line x1="913.9" y1="844.2" x2="913.9" y2="850.2" stroke="#000" stroke-width="3.6" />
<line x1="951.3" y1="844.2" x2="951.3" y2="853.7" stroke="#000" stroke-width="3.6" />
<line x1="988.7" y1="844.2" x2="988.7" y2="850.2" stroke="#000" stroke-width="3.6" />
<line x1="1026" y1="844.2" x2="1026" y2="853.7" stroke="#000" stroke-width="3.6" />
<line x1="1063.4" y1="844.2" x2="1063.4" y2="850.2" stroke="#000" stroke-width="3.6" />
<line x1="1100.8" y1="844.2" x2="1100.8" y2="853.7" stroke="#000" stroke-width="3.6" />
<line x1="1138.2" y1="844.2" x2="1138.2" y2="850.2" stroke="#000" stroke-width="3.6" />
<line x1="1175.5" y1="844.2" x2="1175.5" y2="853.7" stroke="#000" stroke-width="3.6" />
<line x1="1212.9" y1="844.2" x2="1212.9" y2="850.2" stroke="#000" stroke-width="3.6" />
<line x1="1250.3" y1="844.2" x2="1250.3" y2="853.7" stroke="#000" stroke-width="3.6" />
<text font-family='"Liberation Serif", serif' font-size="23.3" font-weight="bold" fill="#000" textLength="10.5" lengthAdjust="spacingAndGlyphs" x="779" y="850.8" stroke="#000" stroke-width="0.45" stroke-linejoin="round">0</text>
<text font-family='"Liberation Serif", serif' font-size="23.3" font-weight="bold" fill="#5b46ab" textLength="10.5" lengthAdjust="spacingAndGlyphs" x="1260.5" y="850.8" stroke="#5b46ab" stroke-width="0.45" stroke-linejoin="round">0</text>
<text font-family='"Liberation Serif", serif' font-size="23.3" font-weight="bold" fill="#000" textLength="21" lengthAdjust="spacingAndGlyphs" x="768.5" y="791.1" stroke="#000" stroke-width="0.45" stroke-linejoin="round">30</text>
<text font-family='"Liberation Serif", serif' font-size="23.3" font-weight="bold" fill="#5b46ab" textLength="21" lengthAdjust="spacingAndGlyphs" x="1260.5" y="791.1" stroke="#5b46ab" stroke-width="0.45" stroke-linejoin="round">20</text>
<text font-family='"Liberation Serif", serif' font-size="23.3" font-weight="bold" fill="#000" textLength="21" lengthAdjust="spacingAndGlyphs" x="768.5" y="731.5" stroke="#000" stroke-width="0.45" stroke-linejoin="round">60</text>
<text font-family='"Liberation Serif", serif' font-size="23.3" font-weight="bold" fill="#5b46ab" textLength="21" lengthAdjust="spacingAndGlyphs" x="1260.5" y="731.5" stroke="#5b46ab" stroke-width="0.45" stroke-linejoin="round">40</text>
<text font-family='"Liberation Serif", serif' font-size="23.3" font-weight="bold" fill="#000" textLength="21" lengthAdjust="spacingAndGlyphs" x="768.5" y="671.8" stroke="#000" stroke-width="0.45" stroke-linejoin="round">90</text>
<text font-family='"Liberation Serif", serif' font-size="23.3" font-weight="bold" fill="#5b46ab" textLength="21" lengthAdjust="spacingAndGlyphs" x="1260.5" y="671.8" stroke="#5b46ab" stroke-width="0.45" stroke-linejoin="round">60</text>
<text font-family='"Liberation Serif", serif' font-size="23.3" font-weight="bold" fill="#000" textLength="31.5" lengthAdjust="spacingAndGlyphs" x="758" y="612.1" stroke="#000" stroke-width="0.45" stroke-linejoin="round">120</text>
<text font-family='"Liberation Serif", serif' font-size="23.3" font-weight="bold" fill="#5b46ab" textLength="21" lengthAdjust="spacingAndGlyphs" x="1260.5" y="612.1" stroke="#5b46ab" stroke-width="0.45" stroke-linejoin="round">80</text>
<text font-family='"Liberation Serif", serif' font-size="23.3" font-weight="bold" fill="#000" textLength="31.5" lengthAdjust="spacingAndGlyphs" x="758" y="552.5" stroke="#000" stroke-width="0.45" stroke-linejoin="round">150</text>
<text font-family='"Liberation Serif", serif' font-size="23.3" font-weight="bold" fill="#5b46ab" textLength="31.5" lengthAdjust="spacingAndGlyphs" x="1260.5" y="552.5" stroke="#5b46ab" stroke-width="0.45" stroke-linejoin="round">100</text>
<text font-family='"Liberation Serif", serif' font-size="23.3" font-weight="bold" fill="#000" textLength="31.5" lengthAdjust="spacingAndGlyphs" x="758" y="492.8" stroke="#000" stroke-width="0.45" stroke-linejoin="round">180</text>
<text font-family='"Liberation Serif", serif' font-size="23.3" font-weight="bold" fill="#5b46ab" textLength="31.5" lengthAdjust="spacingAndGlyphs" x="1260.5" y="492.8" stroke="#5b46ab" stroke-width="0.45" stroke-linejoin="round">120</text>
<text font-family='"Liberation Serif", serif' font-size="23.3" font-weight="bold" fill="#000" textLength="10.5" lengthAdjust="spacingAndGlyphs" x="796.6" y="874.8" stroke="#000" stroke-width="0.45" stroke-linejoin="round">0</text>
<text font-family='"Liberation Serif", serif' font-size="23.3" font-weight="bold" fill="#000" textLength="21" lengthAdjust="spacingAndGlyphs" x="866.1" y="874.8" stroke="#000" stroke-width="0.45" stroke-linejoin="round">20</text>
<text font-family='"Liberation Serif", serif' font-size="23.3" font-weight="bold" fill="#000" textLength="21" lengthAdjust="spacingAndGlyphs" x="940.8" y="874.8" stroke="#000" stroke-width="0.45" stroke-linejoin="round">40</text>
<text font-family='"Liberation Serif", serif' font-size="23.3" font-weight="bold" fill="#000" textLength="21" lengthAdjust="spacingAndGlyphs" x="1015.6" y="874.8" stroke="#000" stroke-width="0.45" stroke-linejoin="round">60</text>
<text font-family='"Liberation Serif", serif' font-size="23.3" font-weight="bold" fill="#000" textLength="21" lengthAdjust="spacingAndGlyphs" x="1090.3" y="874.8" stroke="#000" stroke-width="0.45" stroke-linejoin="round">80</text>
<text font-family='"Liberation Serif", serif' font-size="23.3" font-weight="bold" fill="#000" textLength="31.5" lengthAdjust="spacingAndGlyphs" x="1159.8" y="874.8" stroke="#000" stroke-width="0.45" stroke-linejoin="round">100</text>
<text font-family='"Liberation Serif", serif' font-size="23.3" font-weight="bold" fill="#000" textLength="31.5" lengthAdjust="spacingAndGlyphs" x="1234.6" y="874.8" stroke="#000" stroke-width="0.45" stroke-linejoin="round">120</text>
<text font-family='"Liberation Serif", serif' font-size="23.5" font-weight="bold" fill="#000" textLength="169.6" lengthAdjust="spacingAndGlyphs" x="941.3" y="896.7" stroke="#000" stroke-width="0.45" stroke-linejoin="round">Cycle numbers (n)</text>
<text font-family='"Liberation Serif", serif' font-size="23.5" font-weight="bold" fill="#000" textLength="192" lengthAdjust="spacingAndGlyphs" transform="translate(753.2 767.5) rotate(-90)" stroke="#000" stroke-width="0.45" stroke-linejoin="round">Capacity (mA h/g)</text>
<text font-family='"Liberation Serif", serif' font-size="23.5" font-weight="bold" fill="#5f4ea6" textLength="261" lengthAdjust="spacingAndGlyphs" transform="translate(1295.5 551.6) rotate(90)" stroke="#5f4ea6" stroke-width="0.45" stroke-linejoin="round">Coulombic efficiency(%)</text>
<text font-family='"Liberation Serif", serif' font-size="21.5" font-weight="bold" fill="#111" textLength="34.5" lengthAdjust="spacingAndGlyphs" x="804.5" y="591" stroke="#111" stroke-width="0.35">25°C</text>
<text font-family='"Liberation Serif", serif' font-size="21.5" font-weight="bold" fill="#111" textLength="33.8" lengthAdjust="spacingAndGlyphs" x="842.7" y="602.5" stroke="#111" stroke-width="0.35">15°C</text>
<text font-family='"Liberation Serif", serif' font-size="21.5" font-weight="bold" fill="#111" textLength="26.6" lengthAdjust="spacingAndGlyphs" x="885.2" y="622" stroke="#111" stroke-width="0.35">5°C</text>
<text font-family='"Liberation Serif", serif' font-size="21.5" font-weight="bold" fill="#111" textLength="32.4" lengthAdjust="spacingAndGlyphs" x="921.2" y="635" stroke="#111" stroke-width="0.35">-5°C</text>
<text font-family='"Liberation Serif", serif' font-size="21.5" font-weight="bold" fill="#111" textLength="40.3" lengthAdjust="spacingAndGlyphs" x="958" y="648" stroke="#111" stroke-width="0.35">-15°C</text>
<text font-family='"Liberation Serif", serif' font-size="21.5" font-weight="bold" fill="#111" textLength="39" lengthAdjust="spacingAndGlyphs" x="994.7" y="682.3" stroke="#111" stroke-width="0.35">-25°C</text>
<text font-family='"Liberation Serif", serif' font-size="21.5" font-weight="bold" fill="#111" textLength="38.9" lengthAdjust="spacingAndGlyphs" x="1027.9" y="726.3" stroke="#111" stroke-width="0.35">-35°C</text>
<text font-family='"Liberation Serif", serif' font-size="21.5" font-weight="bold" fill="#111" textLength="40.3" lengthAdjust="spacingAndGlyphs" x="1058.2" y="675.9" stroke="#111" stroke-width="0.35">-25°C</text>
<text font-family='"Liberation Serif", serif' font-size="21.5" font-weight="bold" fill="#111" textLength="41.1" lengthAdjust="spacingAndGlyphs" x="1097.8" y="650.1" stroke="#111" stroke-width="0.35">-15°C</text>
<text font-family='"Liberation Serif", serif' font-size="21.5" font-weight="bold" fill="#111" textLength="30.9" lengthAdjust="spacingAndGlyphs" x="1141.8" y="639.3" stroke="#111" stroke-width="0.35">-5°C</text>
<text font-family='"Liberation Serif", serif' font-size="21.5" font-weight="bold" fill="#111" textLength="33.8" lengthAdjust="spacingAndGlyphs" x="1177.8" y="622" stroke="#111" stroke-width="0.35">15°C</text>
<text font-family='"Liberation Serif", serif' font-size="21.5" font-weight="bold" fill="#111" textLength="33.8" lengthAdjust="spacingAndGlyphs" x="1212.4" y="608.3" stroke="#111" stroke-width="0.35">25°C</text>
<line x1="817.5" y1="759.4" x2="863.6" y2="759.4" stroke="#b585b0" stroke-width="2.4" />
<rect x="836" y="754.2" width="10.4" height="10.4" fill="#fbeef8" stroke="#b07ab0" stroke-width="1.6"/>
<text font-family='"Liberation Serif", serif' font-size="22.5" font-weight="bold" fill="#111" textLength="85.7" lengthAdjust="spacingAndGlyphs" x="870" y="767" stroke="#111" stroke-width="0.45" stroke-linejoin="round">Discharge</text>
<line x1="817.5" y1="788" x2="863.6" y2="788" stroke="#f4904a" stroke-width="2.4" />
<rect x="836" y="782.8" width="10.4" height="10.4" fill="#fff6e6" stroke="#eaa65e" stroke-width="1.6"/>
<text font-family='"Liberation Serif", serif' font-size="22.5" font-weight="bold" fill="#111" textLength="63.4" lengthAdjust="spacingAndGlyphs" x="870" y="795.6" stroke="#111" stroke-width="0.45" stroke-linejoin="round">Charge</text>
<line x1="817.5" y1="816.3" x2="863.6" y2="816.3" stroke="#8474b0" stroke-width="2.4" />
<rect x="836" y="811.1" width="10.4" height="10.4" fill="#f7f0fb" stroke="#9a80bc" stroke-width="1.6"/>
<text font-family='"Liberation Serif", serif' font-size="22.5" font-weight="bold" fill="#111" textLength="220.6" lengthAdjust="spacingAndGlyphs" x="870" y="823.9" stroke="#111" stroke-width="0.45" stroke-linejoin="round">Coulombic efficiency (%)</text>
</g>
<g id="panel-f">
<path d="M1434.5 614C1436.7 614.8 1438.9 615.5 1441 616.5C1443.8 617.8 1446.4 619.5 1448.8 621.3C1452.6 624.1 1456 627.5 1458.9 631.3C1463.1 636.8 1464.8 643.8 1467.6 650.1C1470.1 655.8 1472.5 661.6 1474.8 667.4C1476.4 671.6 1477.3 676.1 1479.5 680C1481 682.8 1482.6 685.6 1484.9 687.8C1487.7 690.5 1491.5 691.9 1495 693.6C1503.1 697.4 1512.2 698.5 1520.9 700.4C1535.1 703.5 1549.7 704.8 1564.1 706.8C1583.3 709.5 1602.5 712 1621.8 714C1641.2 716.1 1660.6 717.3 1680 719.1C1699.2 720.9 1718.5 722.5 1737.7 724.9C1752.1 726.7 1766.6 728.5 1780.9 731.3C1790.6 733.2 1800.3 734.8 1809.7 737.8C1817.1 740.2 1824.7 742.5 1831.3 746.5C1837.2 750 1842.8 754.2 1847.2 759.5C1851.7 764.9 1854.9 771.5 1857.3 778.2C1860.3 786.4 1860.5 795.4 1861.6 804.1C1863.3 817.7 1863.5 831.4 1864.5 845" fill="none" stroke="#d28fcf" stroke-width="2.1" />
<path d="M1434.5 744C1435.7 741 1436.6 737.9 1438 735C1439.9 731.1 1441.8 727 1445 724C1448.1 721.1 1452.2 719.5 1456 717.7C1467.1 712.6 1480 713.1 1492.1 711.2C1516 707.5 1540.1 706.1 1564.1 703.2C1588.2 700.3 1612.1 696.8 1636.2 693.9C1650.8 692.1 1665.4 690.9 1680 688.8C1694.5 686.8 1708.9 684.7 1723.2 681.6C1737.8 678.5 1752.8 675.9 1766.5 670.1C1774.5 666.7 1782.6 663.2 1789.5 658C1794.3 654.4 1798.7 650.4 1802.5 645.8C1809.1 637.9 1810.7 626.7 1816.9 618.4C1820 614.3 1823.5 610.6 1827 606.8C1833 600.3 1840.6 595.2 1845.8 588.1C1850.6 581.5 1853.8 573.9 1857.3 566.5C1862.8 554.9 1866.4 542.4 1871 530.4" fill="none" stroke="#d28fcf" stroke-width="2.1" />
<path d="M1434.5 622.7C1436 623.6 1437.6 624.4 1439 625.5C1441.1 627.1 1442.9 629.2 1444.5 631.3C1447.8 635.6 1449.7 640.8 1451.7 645.8C1454.2 651.8 1455.6 658.3 1457.5 664.5C1458.9 669.2 1460.2 674 1461.8 678.7C1463.5 683.6 1464.5 689 1467.6 693.2C1470.3 696.7 1473.9 699.5 1477.7 701.8C1486.1 707 1496.8 706.4 1506.5 708.3C1525.5 712 1544.9 713.9 1564.1 716.2C1588.1 719.1 1612.2 720.8 1636.2 723.4C1650.8 725 1665.4 726.7 1680 728.5C1699.2 730.8 1718.6 732.7 1737.7 735.7C1749.7 737.6 1761.9 739 1773.7 742.2C1783.5 744.8 1793.7 747.2 1802.5 752.2C1809.4 756.1 1816 760.8 1821.2 766.7C1825.3 771.4 1828.8 776.8 1831.3 782.5C1834.3 789.3 1835.2 796.8 1836.4 804.1C1838.7 817.6 1837.8 831.4 1838.5 845" fill="none" stroke="#f58436" stroke-width="2.1" />
<path d="M1434.5 743C1435.3 739.7 1435.9 736.3 1437 733C1438.3 729.2 1439.5 725.1 1442 722C1443.9 719.7 1446.3 717.9 1448.8 716.2C1453.1 713.3 1458.3 712 1463.2 710.4C1472.5 707.4 1482.5 707 1492.1 705.4C1516 701.5 1540.1 698.5 1564.1 695.3C1588.1 692 1612.1 688.9 1636.2 685.9C1650.8 684.1 1665.5 682.8 1680 680.6C1689.6 679.1 1699.3 677.6 1708.8 675.6C1718.5 673.6 1728.2 671.4 1737.7 668.4C1747.5 665.3 1757.7 662.7 1766.5 657.3C1774.6 652.3 1781.8 645.6 1788.1 638.5C1797.4 628 1802.7 614.6 1809.7 602.5C1817.1 589.7 1825.7 577.3 1831.3 563.6C1835.7 552.9 1838 541.5 1841.4 530.4" fill="none" stroke="#f58436" stroke-width="2.1" />
<path d="M1434.5 635.7C1435.3 636.6 1436.3 637.5 1437 638.5C1438.6 640.6 1439.2 643.3 1440.2 645.8C1442.3 651 1444.5 656.2 1445.9 661.6C1447.4 667.2 1447.7 673 1448.8 678.7C1450.1 685.5 1449.9 692.8 1453.2 698.9C1455.1 702.4 1457.3 705.8 1460.4 708.3C1465.1 712.1 1471.9 712.3 1477.7 714C1491.8 718 1506.4 719.6 1520.9 722C1544.8 725.9 1568.9 728.5 1593 731.3C1622 734.7 1651.1 736.1 1680 740C1694.4 741.9 1708.9 744 1723.2 746.5C1735.3 748.6 1747.6 750.1 1759.3 753.7C1769.2 756.7 1779.6 759.4 1788.1 765.2C1793.4 768.8 1798.8 772.9 1802.5 778.2C1806.3 783.7 1807.9 790.5 1809.7 796.9C1811.7 803.9 1812.5 811.2 1813.3 818.5C1814.3 827.3 1814.3 836.2 1814.8 845" fill="none" stroke="#6cc03c" stroke-width="2.1" />
<path d="M1434.5 742C1435.3 737.3 1435.9 732.6 1437 728C1438 723.9 1438.7 719.8 1440.5 716C1441.9 713 1443.5 709.9 1445.9 707.6C1449.7 703.9 1455.4 703 1460.4 701.1C1470.6 697.2 1481.5 695.5 1492.1 693.2C1515.8 688.1 1540.1 686.3 1564.1 683.1C1588.1 679.8 1612.2 676.8 1636.2 673.7C1650.8 671.8 1665.5 670.4 1680 668C1694.5 665.6 1709.2 664 1723.2 659.4C1733.1 656.2 1743.6 653.2 1752.1 647.2C1758.8 642.5 1764.2 636.2 1769.4 629.9C1777 620.8 1782.2 609.9 1788.1 599.6C1794.3 588.8 1800.6 578 1805.4 566.5C1810.3 554.8 1813.1 542.4 1816.9 530.4" fill="none" stroke="#6cc03c" stroke-width="2.1" />
<path d="M1434.5 646C1435.5 649 1436.6 652 1437.5 655C1440 663.6 1440.5 672.7 1441.6 681.6C1442.5 688.8 1441.9 696.2 1443.8 703.2C1445 707.7 1445.9 712.6 1448.8 716.2C1453.6 722.1 1463.1 721.9 1470.4 724.1C1486.7 729 1504 729.7 1520.9 732.1C1544.9 735.5 1569 738 1593 740.7C1622 744 1651.1 746.2 1680 750.1C1694.4 752.1 1709 753.4 1723.2 756.6C1732.9 758.8 1743 760.4 1752.1 764.5C1759.9 768 1767.9 772 1773.7 778.2C1778 782.8 1781.4 788.2 1783.8 794C1786.7 800.8 1787 808.4 1788.1 815.7C1789.6 825.4 1790 835.2 1791 845" fill="none" stroke="#6b69b9" stroke-width="2.1" />
<path d="M1434.5 742C1435 736.7 1435.2 731.3 1436 726C1436.7 721.7 1437.3 717.4 1438.7 713.3C1440 709.4 1441.7 705.5 1444 702C1445.8 699.3 1447.9 696.7 1450.3 694.6C1454 691.3 1458.7 689.4 1463.2 687.4C1470.1 684.4 1477.6 683.3 1484.9 681.6C1501.4 677.8 1518.5 676.8 1535.3 674.4C1554.5 671.7 1573.7 669 1593 666.5C1612.2 664 1631.5 662.5 1650.6 659.5C1660.4 658 1670.2 656.2 1680 654.4C1689.6 652.6 1699.5 651.5 1708.8 648.6C1718.9 645.4 1729.5 642.4 1737.7 635.7C1743.5 630.9 1747.7 624.5 1752.1 618.4C1758.7 609.3 1764 599.3 1769.4 589.5C1774.6 580.1 1779.8 570.7 1783.8 560.7C1787.7 550.9 1790 540.5 1793.1 530.4" fill="none" stroke="#6b69b9" stroke-width="2.1" />
<path d="M1434.5 652C1435 654.7 1435.6 657.3 1436 660C1436.7 664.8 1436.9 669.6 1437.3 674.4C1438.1 684 1437.2 693.9 1439.5 703.2C1440.7 708.2 1441.4 713.6 1444.5 717.7C1450 725 1461.6 724.3 1470.4 727C1486.8 732 1504 734.2 1520.9 737.1C1544.8 741.2 1569 743.4 1593 746.5C1622 750.2 1651.3 751.8 1680 757.3C1692.1 759.6 1704.7 760.3 1716 765.2C1723.7 768.5 1731.2 772.8 1737.7 778.2C1743.2 782.8 1748.3 788 1752.1 794C1756.3 800.6 1758.4 808.3 1760.7 815.7C1763.6 825.2 1764.6 835.2 1766.5 845" fill="none" stroke="#4b3d90" stroke-width="2.1" />
<path d="M1434.5 742C1435 735.3 1435.1 728.6 1436 722C1436.7 717.2 1437.4 712.3 1438.7 707.6C1439.8 703.6 1440.9 699.5 1443 696C1444.6 693.4 1446.7 691.1 1448.8 688.8C1450.8 686.6 1452.6 684.3 1455 682.5C1457.5 680.7 1460.4 679.6 1463.2 678.3C1470.1 675.1 1477.5 673.1 1484.9 671.2C1496.7 668.1 1508.9 667.1 1520.9 665.5C1535.3 663.6 1549.7 662.6 1564.1 660.9C1583.4 658.6 1602.6 655.9 1621.8 653C1641.2 650.1 1661.6 650.3 1680 643.3C1690.1 639.4 1700.2 635 1708.8 628.5C1715.9 623.2 1721.9 616.5 1727.6 609.7C1734.2 601.7 1739.6 592.7 1744.9 583.8C1750.2 574.9 1755.2 565.9 1759.3 556.4C1763 548 1765.5 539.1 1768.6 530.4" fill="none" stroke="#4b3d90" stroke-width="2.1" />
<line x1="1635" y1="711.9" x2="1929.4" y2="711.9" stroke="#3a3a3a" stroke-width="2.8" />
<polygon points="1625.5,711.9 1637.5,708.3 1637.5,715.5" fill="#222"/>
<text font-family='"Liberation Serif", serif' font-size="21" font-weight="bold" fill="#54479a" textLength="52" lengthAdjust="spacingAndGlyphs" x="1668" y="706.4" stroke="#54479a" stroke-width="0.45" stroke-linejoin="round">-15°C</text>
<text font-family='"Liberation Serif", serif' font-size="21" font-weight="bold" fill="#223" textLength="5" lengthAdjust="spacingAndGlyphs" x="1722" y="706.4" stroke="#223" stroke-width="0.45" stroke-linejoin="round">,</text>
<text font-family='"Liberation Serif", serif' font-size="21" font-weight="bold" fill="#7f7cb9" textLength="42.5" lengthAdjust="spacingAndGlyphs" x="1731" y="706.4" stroke="#7f7cb9" stroke-width="0.45" stroke-linejoin="round">-5°C</text>
<text font-family='"Liberation Serif", serif' font-size="21" font-weight="bold" fill="#223" textLength="5" lengthAdjust="spacingAndGlyphs" x="1775" y="706.4" stroke="#223" stroke-width="0.45" stroke-linejoin="round">,</text>
<text font-family='"Liberation Serif", serif' font-size="21" font-weight="bold" fill="#92c455" textLength="32.3" lengthAdjust="spacingAndGlyphs" x="1783" y="706.4" stroke="#92c455" stroke-width="0.45" stroke-linejoin="round">5°C</text>
<text font-family='"Liberation Serif", serif' font-size="21" font-weight="bold" fill="#223" textLength="5" lengthAdjust="spacingAndGlyphs" x="1817" y="706.4" stroke="#223" stroke-width="0.45" stroke-linejoin="round">,</text>
<text font-family='"Liberation Serif", serif' font-size="21" font-weight="bold" fill="#ef8358" textLength="44.2" lengthAdjust="spacingAndGlyphs" x="1824.7" y="706.4" stroke="#ef8358" stroke-width="0.45" stroke-linejoin="round">15°C</text>
<text font-family='"Liberation Serif", serif' font-size="21" font-weight="bold" fill="#223" textLength="5" lengthAdjust="spacingAndGlyphs" x="1870.5" y="706.4" stroke="#223" stroke-width="0.45" stroke-linejoin="round">,</text>
<text font-family='"Liberation Serif", serif' font-size="21" font-weight="bold" fill="#dba6c9" textLength="45.9" lengthAdjust="spacingAndGlyphs" x="1878.2" y="706.4" stroke="#dba6c9" stroke-width="0.45" stroke-linejoin="round">25°C</text>
<text font-family='"Liberation Serif", serif' font-size="21" font-weight="bold" fill="#223" textLength="5" lengthAdjust="spacingAndGlyphs" x="1925.5" y="706.4" stroke="#223" stroke-width="0.45" stroke-linejoin="round">,</text>
<rect x="1433.7" y="489.2" width="500.6" height="356.7" fill="none" stroke="#000" stroke-width="4.8"/>
<line x1="1424.9" y1="845.9" x2="1433.7" y2="845.9" stroke="#000" stroke-width="3.6" />
<line x1="1427.9" y1="810.2" x2="1433.7" y2="810.2" stroke="#000" stroke-width="3.6" />
<line x1="1424.9" y1="774.6" x2="1433.7" y2="774.6" stroke="#000" stroke-width="3.6" />
<line x1="1427.9" y1="738.9" x2="1433.7" y2="738.9" stroke="#000" stroke-width="3.6" />
<line x1="1424.9" y1="703.3" x2="1433.7" y2="703.3" stroke="#000" stroke-width="3.6" />
<line x1="1427.9" y1="667.6" x2="1433.7" y2="667.6" stroke="#000" stroke-width="3.6" />
<line x1="1424.9" y1="632" x2="1433.7" y2="632" stroke="#000" stroke-width="3.6" />
<line x1="1427.9" y1="596.3" x2="1433.7" y2="596.3" stroke="#000" stroke-width="3.6" />
<line x1="1424.9" y1="560.7" x2="1433.7" y2="560.7" stroke="#000" stroke-width="3.6" />
<line x1="1427.9" y1="525" x2="1433.7" y2="525" stroke="#000" stroke-width="3.6" />
<line x1="1424.9" y1="489.2" x2="1433.7" y2="489.2" stroke="#000" stroke-width="3.6" />
<line x1="1433.7" y1="845.9" x2="1433.7" y2="855.1" stroke="#000" stroke-width="3.6" />
<line x1="1469.5" y1="845.9" x2="1469.5" y2="851.9" stroke="#000" stroke-width="3.6" />
<line x1="1505.2" y1="845.9" x2="1505.2" y2="855.1" stroke="#000" stroke-width="3.6" />
<line x1="1541" y1="845.9" x2="1541" y2="851.9" stroke="#000" stroke-width="3.6" />
<line x1="1576.7" y1="845.9" x2="1576.7" y2="855.1" stroke="#000" stroke-width="3.6" />
<line x1="1612.5" y1="845.9" x2="1612.5" y2="851.9" stroke="#000" stroke-width="3.6" />
<line x1="1648.2" y1="845.9" x2="1648.2" y2="855.1" stroke="#000" stroke-width="3.6" />
<line x1="1684" y1="845.9" x2="1684" y2="851.9" stroke="#000" stroke-width="3.6" />
<line x1="1719.8" y1="845.9" x2="1719.8" y2="855.1" stroke="#000" stroke-width="3.6" />
<line x1="1755.5" y1="845.9" x2="1755.5" y2="851.9" stroke="#000" stroke-width="3.6" />
<line x1="1791.3" y1="845.9" x2="1791.3" y2="855.1" stroke="#000" stroke-width="3.6" />
<line x1="1827" y1="845.9" x2="1827" y2="851.9" stroke="#000" stroke-width="3.6" />
<line x1="1862.8" y1="845.9" x2="1862.8" y2="855.1" stroke="#000" stroke-width="3.6" />
<line x1="1898.5" y1="845.9" x2="1898.5" y2="851.9" stroke="#000" stroke-width="3.6" />
<line x1="1934.3" y1="845.9" x2="1934.3" y2="855.1" stroke="#000" stroke-width="3.6" />
<text font-family='"Liberation Serif", serif' font-size="23.3" font-weight="bold" fill="#000" textLength="26.2" lengthAdjust="spacingAndGlyphs" x="1393.8" y="852.3" stroke="#000" stroke-width="0.45" stroke-linejoin="round">2.0</text>
<text font-family='"Liberation Serif", serif' font-size="23.3" font-weight="bold" fill="#000" textLength="26.2" lengthAdjust="spacingAndGlyphs" x="1393.8" y="781" stroke="#000" stroke-width="0.45" stroke-linejoin="round">2.5</text>
<text font-family='"Liberation Serif", serif' font-size="23.3" font-weight="bold" fill="#000" textLength="26.2" lengthAdjust="spacingAndGlyphs" x="1393.8" y="709.7" stroke="#000" stroke-width="0.45" stroke-linejoin="round">3.0</text>
<text font-family='"Liberation Serif", serif' font-size="23.3" font-weight="bold" fill="#000" textLength="26.2" lengthAdjust="spacingAndGlyphs" x="1393.8" y="638.4" stroke="#000" stroke-width="0.45" stroke-linejoin="round">3.5</text>
<text font-family='"Liberation Serif", serif' font-size="23.3" font-weight="bold" fill="#000" textLength="26.2" lengthAdjust="spacingAndGlyphs" x="1393.8" y="567.1" stroke="#000" stroke-width="0.45" stroke-linejoin="round">4.0</text>
<text font-family='"Liberation Serif", serif' font-size="23.3" font-weight="bold" fill="#000" textLength="26.2" lengthAdjust="spacingAndGlyphs" x="1393.8" y="495.8" stroke="#000" stroke-width="0.45" stroke-linejoin="round">4.5</text>
<text font-family='"Liberation Serif", serif' font-size="23.3" font-weight="bold" fill="#000" textLength="10.5" lengthAdjust="spacingAndGlyphs" x="1428.5" y="876.6" stroke="#000" stroke-width="0.45" stroke-linejoin="round">0</text>
<text font-family='"Liberation Serif", serif' font-size="23.3" font-weight="bold" fill="#000" textLength="21" lengthAdjust="spacingAndGlyphs" x="1494.7" y="876.6" stroke="#000" stroke-width="0.45" stroke-linejoin="round">20</text>
<text font-family='"Liberation Serif", serif' font-size="23.3" font-weight="bold" fill="#000" textLength="21" lengthAdjust="spacingAndGlyphs" x="1566.2" y="876.6" stroke="#000" stroke-width="0.45" stroke-linejoin="round">40</text>
<text font-family='"Liberation Serif", serif' font-size="23.3" font-weight="bold" fill="#000" textLength="21" lengthAdjust="spacingAndGlyphs" x="1637.8" y="876.6" stroke="#000" stroke-width="0.45" stroke-linejoin="round">60</text>
<text font-family='"Liberation Serif", serif' font-size="23.3" font-weight="bold" fill="#000" textLength="21" lengthAdjust="spacingAndGlyphs" x="1709.3" y="876.6" stroke="#000" stroke-width="0.45" stroke-linejoin="round">80</text>
<text font-family='"Liberation Serif", serif' font-size="23.3" font-weight="bold" fill="#000" textLength="31.5" lengthAdjust="spacingAndGlyphs" x="1775.5" y="876.6" stroke="#000" stroke-width="0.45" stroke-linejoin="round">100</text>
<text font-family='"Liberation Serif", serif' font-size="23.3" font-weight="bold" fill="#000" textLength="31.5" lengthAdjust="spacingAndGlyphs" x="1847.1" y="876.6" stroke="#000" stroke-width="0.45" stroke-linejoin="round">120</text>
<text font-family='"Liberation Serif", serif' font-size="23.3" font-weight="bold" fill="#000" textLength="31.5" lengthAdjust="spacingAndGlyphs" x="1918.6" y="876.6" stroke="#000" stroke-width="0.45" stroke-linejoin="round">140</text>
<text font-family='"Liberation Serif", serif' font-size="24.5" font-weight="bold" fill="#000" textLength="190.5" lengthAdjust="spacingAndGlyphs" x="1579.2" y="900" stroke="#000" stroke-width="0.45" stroke-linejoin="round">Capacity (mA h/g)</text>
<text font-family='"Liberation Serif", serif' font-size="24.5" font-weight="bold" fill="#000" textLength="120" lengthAdjust="spacingAndGlyphs" transform="translate(1375 725.5) rotate(-90)" stroke="#000" stroke-width="0.45" stroke-linejoin="round">Voltage (V)</text>
</g>
<g id="panel-g">
<line x1="112.3" y1="932.7" x2="633.9" y2="932.7" stroke="#5d8c85" stroke-width="4" stroke-dasharray="4.2 3.02"/>
<line x1="112.3" y1="1369.4" x2="633.9" y2="1369.4" stroke="#5d8c85" stroke-width="4" stroke-dasharray="4.2 3.02"/>
<line x1="114.3" y1="930.7" x2="114.3" y2="1371.4" stroke="#5d8c85" stroke-width="4" stroke-dasharray="4.2 3.01"/>
<line x1="631.9" y1="930.7" x2="631.9" y2="1371.4" stroke="#5d8c85" stroke-width="4" stroke-dasharray="4.2 3.01"/>
<g clip-path="url(#gclip)"><polygon points="283.6,977.2 366.1,978 322.2,1019.6" fill="#5a8a88" stroke="#5a8a88" stroke-width="0.6"/><polygon points="366.1,978 380,1070 322.2,1019.6" fill="#649a96" stroke="#649a96" stroke-width="0.6"/><polygon points="380,1070 300,1070 322.2,1019.6" fill="#588886" stroke="#588886" stroke-width="0.6"/><polygon points="300,1070 283.6,977.2 322.2,1019.6" fill="#527f80" stroke="#527f80" stroke-width="0.6"/><line x1="322.2" y1="1019.6" x2="283.6" y2="977.2" stroke="#8cb8b4" stroke-width="1.5" opacity="0.8"/><line x1="322.2" y1="1019.6" x2="366.1" y2="978" stroke="#8cb8b4" stroke-width="1.5" opacity="0.8"/><line x1="322.2" y1="1019.6" x2="380" y2="1070" stroke="#8cb8b4" stroke-width="1.5" opacity="0.8"/>
<polygon points="479.1,987.8 561.6,988.6 517.7,1030.2" fill="#5a8a88" stroke="#5a8a88" stroke-width="0.6"/><polygon points="561.6,988.6 575.5,1080.6 517.7,1030.2" fill="#649a96" stroke="#649a96" stroke-width="0.6"/><polygon points="575.5,1080.6 495.5,1080.6 517.7,1030.2" fill="#588886" stroke="#588886" stroke-width="0.6"/><polygon points="495.5,1080.6 479.1,987.8 517.7,1030.2" fill="#527f80" stroke="#527f80" stroke-width="0.6"/><line x1="517.7" y1="1030.2" x2="479.1" y2="987.8" stroke="#8cb8b4" stroke-width="1.5" opacity="0.8"/><line x1="517.7" y1="1030.2" x2="561.6" y2="988.6" stroke="#8cb8b4" stroke-width="1.5" opacity="0.8"/><line x1="517.7" y1="1030.2" x2="575.5" y2="1080.6" stroke="#8cb8b4" stroke-width="1.5" opacity="0.8"/>
<polygon points="283.6,1179 366.1,1179.8 322.2,1221.4" fill="#5a8a88" stroke="#5a8a88" stroke-width="0.6"/><polygon points="366.1,1179.8 380,1271.8 322.2,1221.4" fill="#649a96" stroke="#649a96" stroke-width="0.6"/><polygon points="380,1271.8 300,1271.8 322.2,1221.4" fill="#588886" stroke="#588886" stroke-width="0.6"/><polygon points="300,1271.8 283.6,1179 322.2,1221.4" fill="#527f80" stroke="#527f80" stroke-width="0.6"/><line x1="322.2" y1="1221.4" x2="283.6" y2="1179" stroke="#8cb8b4" stroke-width="1.5" opacity="0.8"/><line x1="322.2" y1="1221.4" x2="366.1" y2="1179.8" stroke="#8cb8b4" stroke-width="1.5" opacity="0.8"/><line x1="322.2" y1="1221.4" x2="380" y2="1271.8" stroke="#8cb8b4" stroke-width="1.5" opacity="0.8"/>
<polygon points="479.1,1190 561.6,1190.8 517.7,1232.4" fill="#5a8a88" stroke="#5a8a88" stroke-width="0.6"/><polygon points="561.6,1190.8 575.5,1282.8 517.7,1232.4" fill="#649a96" stroke="#649a96" stroke-width="0.6"/><polygon points="575.5,1282.8 495.5,1282.8 517.7,1232.4" fill="#588886" stroke="#588886" stroke-width="0.6"/><polygon points="495.5,1282.8 479.1,1190 517.7,1232.4" fill="#527f80" stroke="#527f80" stroke-width="0.6"/><line x1="517.7" y1="1232.4" x2="479.1" y2="1190" stroke="#8cb8b4" stroke-width="1.5" opacity="0.8"/><line x1="517.7" y1="1232.4" x2="561.6" y2="1190.8" stroke="#8cb8b4" stroke-width="1.5" opacity="0.8"/><line x1="517.7" y1="1232.4" x2="575.5" y2="1282.8" stroke="#8cb8b4" stroke-width="1.5" opacity="0.8"/>
<circle cx="412.5" cy="1039.3" r="18.5" fill="url(#gYp)"/>
<circle cx="413" cy="1242.5" r="18.5" fill="url(#gYp)"/>
<polygon points="349.5,1111 397.5,1111 427.3,1141 417,1208.4 375,1200 345,1150" fill="#3f807c"/>
<polygon points="375,1143 427.3,1141 417,1208.4 375,1200" fill="#3a7a78"/>
<polygon points="349.5,1111 397.5,1111 401,1138 372,1142 345,1150" fill="#4a8682"/>
<line x1="401.3" y1="1138.3" x2="417" y2="1208.4" stroke="#79b0ac" stroke-width="1.5" />
<line x1="401.3" y1="1138.3" x2="375" y2="1160" stroke="#5fae8c" stroke-width="1.2" />
<polygon points="427.3,1141 466,1141 466,1166 427.3,1160" fill="#b3b0b2"/>
<polygon points="427.3,1160 466,1166 470,1172 428,1168" fill="#a8a2b8" opacity="0.7"/>
<circle cx="317" cy="1132" r="19.6" fill="url(#gYp)"/>
<polygon points="248.8,1002.2 322.2,1019.6 296,1052" fill="#b2aeaa" stroke="#b2aeaa" stroke-width="0.6"/><polygon points="322.2,1019.6 323,1102 296,1052" fill="#a6a3a4" stroke="#a6a3a4" stroke-width="0.6"/><polygon points="323,1102 250.5,1075 296,1052" fill="#8e8b8a" stroke="#8e8b8a" stroke-width="0.6"/><polygon points="250.5,1075 248.8,1002.2 296,1052" fill="#aaa7a2" stroke="#aaa7a2" stroke-width="0.6"/><circle cx="288" cy="1053" r="9" fill="#c9b89a" opacity="0.45"/>
<polygon points="444.3,1012.8 517.7,1030.2 491.5,1062.6" fill="#b2aeaa" stroke="#b2aeaa" stroke-width="0.6"/><polygon points="517.7,1030.2 518.5,1112.6 491.5,1062.6" fill="#a6a3a4" stroke="#a6a3a4" stroke-width="0.6"/><polygon points="518.5,1112.6 446,1085.6 491.5,1062.6" fill="#8e8b8a" stroke="#8e8b8a" stroke-width="0.6"/><polygon points="446,1085.6 444.3,1012.8 491.5,1062.6" fill="#aaa7a2" stroke="#aaa7a2" stroke-width="0.6"/><circle cx="483.5" cy="1063.6" r="9" fill="#c9b89a" opacity="0.45"/>
<polygon points="248.8,1204 322.2,1221.4 296,1253.8" fill="#b2aeaa" stroke="#b2aeaa" stroke-width="0.6"/><polygon points="322.2,1221.4 323,1303.8 296,1253.8" fill="#a6a3a4" stroke="#a6a3a4" stroke-width="0.6"/><polygon points="323,1303.8 250.5,1276.8 296,1253.8" fill="#8e8b8a" stroke="#8e8b8a" stroke-width="0.6"/><polygon points="250.5,1276.8 248.8,1204 296,1253.8" fill="#aaa7a2" stroke="#aaa7a2" stroke-width="0.6"/><circle cx="288" cy="1254.8" r="9" fill="#c9b89a" opacity="0.45"/>
<polygon points="444.3,1215 517.7,1232.4 491.5,1264.8" fill="#b2aeaa" stroke="#b2aeaa" stroke-width="0.6"/><polygon points="517.7,1232.4 518.5,1314.8 491.5,1264.8" fill="#a6a3a4" stroke="#a6a3a4" stroke-width="0.6"/><polygon points="518.5,1314.8 446,1287.8 491.5,1264.8" fill="#8e8b8a" stroke="#8e8b8a" stroke-width="0.6"/><polygon points="446,1287.8 444.3,1215 491.5,1264.8" fill="#aaa7a2" stroke="#aaa7a2" stroke-width="0.6"/><circle cx="483.5" cy="1265.8" r="9" fill="#c9b89a" opacity="0.45"/>
<polygon points="302.5,1152.5 374.5,1143 321.6,1200" fill="#aca9a5" stroke="#aca9a5" stroke-width="0.6"/>
<polygon points="374.5,1143 375.4,1224 321.6,1200" fill="#a3a09e" stroke="#a3a09e" stroke-width="0.6"/>
<polygon points="375.4,1224 301.5,1233.6 321.6,1200" fill="#8b8887" stroke="#8b8887" stroke-width="0.6"/>
<polygon points="301.5,1233.6 302.5,1152.5 321.6,1200" fill="#7f7c84" stroke="#7f7c84" stroke-width="0.6"/>
<circle cx="338" cy="1186" r="9" fill="#c8b496" opacity="0.4"/>
<polygon points="195.1,1034.7 274.6,1034 224.6,1090" fill="#2f6f6c" stroke="#2f6f6c" stroke-width="0.6"/><polygon points="274.6,1034 288.2,1127.8 224.6,1090" fill="#3b807b" stroke="#3b807b" stroke-width="0.6"/><polygon points="288.2,1127.8 205.7,1127 224.6,1090" fill="#2a5f60" stroke="#2a5f60" stroke-width="0.6"/><polygon points="205.7,1127 195.1,1034.7 224.6,1090" fill="#2c6866" stroke="#2c6866" stroke-width="0.6"/><polygon points="224.6,1090 250,1059 268,1074 255,1104" fill="#4a8a78" opacity="0.45"/><line x1="224.6" y1="1090" x2="195.1" y2="1034.7" stroke="#6fa9a6" stroke-width="1.6" opacity="0.85"/><line x1="224.6" y1="1090" x2="274.6" y2="1034" stroke="#6fa9a6" stroke-width="1.6" opacity="0.85"/><line x1="224.6" y1="1090" x2="288.2" y2="1127.8" stroke="#6fa9a6" stroke-width="1.6" opacity="0.85"/><line x1="224.6" y1="1090" x2="205.7" y2="1127" stroke="#6fa9a6" stroke-width="1.6" opacity="0.85"/>
<polygon points="387.6,1045.3 470.1,1044.6 417.1,1100.6" fill="#2f6f6c" stroke="#2f6f6c" stroke-width="0.6"/><polygon points="470.1,1044.6 483.7,1138.4 417.1,1100.6" fill="#3b807b" stroke="#3b807b" stroke-width="0.6"/><polygon points="483.7,1138.4 398.2,1137.6 417.1,1100.6" fill="#2a5f60" stroke="#2a5f60" stroke-width="0.6"/><polygon points="398.2,1137.6 387.6,1045.3 417.1,1100.6" fill="#2c6866" stroke="#2c6866" stroke-width="0.6"/><polygon points="417.1,1100.6 442.5,1069.6 460.5,1084.6 447.5,1114.6" fill="#4a8a78" opacity="0.45"/><line x1="417.1" y1="1100.6" x2="387.6" y2="1045.3" stroke="#6fa9a6" stroke-width="1.6" opacity="0.85"/><line x1="417.1" y1="1100.6" x2="470.1" y2="1044.6" stroke="#6fa9a6" stroke-width="1.6" opacity="0.85"/><line x1="417.1" y1="1100.6" x2="483.7" y2="1138.4" stroke="#6fa9a6" stroke-width="1.6" opacity="0.85"/><line x1="417.1" y1="1100.6" x2="398.2" y2="1137.6" stroke="#6fa9a6" stroke-width="1.6" opacity="0.85"/>
<polygon points="195.1,1236.5 274.6,1235.8 224.6,1291.8" fill="#2f6f6c" stroke="#2f6f6c" stroke-width="0.6"/><polygon points="274.6,1235.8 288.2,1329.6 224.6,1291.8" fill="#3b807b" stroke="#3b807b" stroke-width="0.6"/><polygon points="288.2,1329.6 205.7,1328.8 224.6,1291.8" fill="#2a5f60" stroke="#2a5f60" stroke-width="0.6"/><polygon points="205.7,1328.8 195.1,1236.5 224.6,1291.8" fill="#2c6866" stroke="#2c6866" stroke-width="0.6"/><polygon points="224.6,1291.8 250,1260.8 268,1275.8 255,1305.8" fill="#4a8a78" opacity="0.45"/><line x1="224.6" y1="1291.8" x2="195.1" y2="1236.5" stroke="#6fa9a6" stroke-width="1.6" opacity="0.85"/><line x1="224.6" y1="1291.8" x2="274.6" y2="1235.8" stroke="#6fa9a6" stroke-width="1.6" opacity="0.85"/><line x1="224.6" y1="1291.8" x2="288.2" y2="1329.6" stroke="#6fa9a6" stroke-width="1.6" opacity="0.85"/><line x1="224.6" y1="1291.8" x2="205.7" y2="1328.8" stroke="#6fa9a6" stroke-width="1.6" opacity="0.85"/>
<polygon points="387.6,1247.5 470.1,1246.8 417.1,1302.8" fill="#2f6f6c" stroke="#2f6f6c" stroke-width="0.6"/><polygon points="470.1,1246.8 483.7,1340.6 417.1,1302.8" fill="#3b807b" stroke="#3b807b" stroke-width="0.6"/><polygon points="483.7,1340.6 398.2,1339.8 417.1,1302.8" fill="#2a5f60" stroke="#2a5f60" stroke-width="0.6"/><polygon points="398.2,1339.8 387.6,1247.5 417.1,1302.8" fill="#2c6866" stroke="#2c6866" stroke-width="0.6"/><polygon points="417.1,1302.8 442.5,1271.8 460.5,1286.8 447.5,1316.8" fill="#4a8a78" opacity="0.45"/><line x1="417.1" y1="1302.8" x2="387.6" y2="1247.5" stroke="#6fa9a6" stroke-width="1.6" opacity="0.85"/><line x1="417.1" y1="1302.8" x2="470.1" y2="1246.8" stroke="#6fa9a6" stroke-width="1.6" opacity="0.85"/><line x1="417.1" y1="1302.8" x2="483.7" y2="1340.6" stroke="#6fa9a6" stroke-width="1.6" opacity="0.85"/><line x1="417.1" y1="1302.8" x2="398.2" y2="1339.8" stroke="#6fa9a6" stroke-width="1.6" opacity="0.85"/>
<circle cx="355.5" cy="1066.5" r="20.6" fill="url(#gY)"/>
<circle cx="355.5" cy="1268.2" r="20.6" fill="url(#gY)"/>
<circle cx="452.5" cy="1182.4" r="20.8" fill="url(#gY)"/>
<ellipse cx="327" cy="1111.5" rx="2.6" ry="6" fill="#d01820" transform="rotate(-8 327 1111.5)"/>
<ellipse cx="308.5" cy="1136" rx="3" ry="5.4" fill="#d01820" transform="rotate(-25 308.5 1136)"/>
<circle cx="283.6" cy="977.2" r="6.6" fill="url(#gR)"/>
<circle cx="366.1" cy="978" r="6.6" fill="url(#gR)"/>
<circle cx="380" cy="1070" r="6.6" fill="url(#gR)"/>
<circle cx="479.1" cy="987.8" r="6.6" fill="url(#gR)"/>
<circle cx="561.6" cy="988.6" r="6.6" fill="url(#gR)"/>
<circle cx="575.5" cy="1080.6" r="6.6" fill="url(#gR)"/>
<circle cx="283.6" cy="1179" r="6.6" fill="url(#gR)"/>
<circle cx="366.1" cy="1179.8" r="6.6" fill="url(#gR)"/>
<circle cx="380" cy="1271.8" r="6.6" fill="url(#gR)"/>
<circle cx="479.1" cy="1190" r="6.6" fill="url(#gR)"/>
<circle cx="561.6" cy="1190.8" r="6.6" fill="url(#gR)"/>
<circle cx="575.5" cy="1282.8" r="6.6" fill="url(#gR)"/>
<circle cx="195.1" cy="1034.7" r="6.6" fill="url(#gR)"/>
<circle cx="274.6" cy="1034" r="6.6" fill="url(#gR)"/>
<circle cx="288.2" cy="1127.8" r="6.6" fill="url(#gR)"/>
<circle cx="205.7" cy="1127" r="6.6" fill="url(#gR)"/>
<circle cx="387.6" cy="1045.3" r="6.6" fill="url(#gR)"/>
<circle cx="470.1" cy="1044.6" r="6.6" fill="url(#gR)"/>
<circle cx="483.7" cy="1138.4" r="6.6" fill="url(#gR)"/>
<circle cx="398.2" cy="1137.6" r="6.6" fill="url(#gR)"/>
<circle cx="195.1" cy="1236.5" r="6.6" fill="url(#gR)"/>
<circle cx="274.6" cy="1235.8" r="6.6" fill="url(#gR)"/>
<circle cx="288.2" cy="1329.6" r="6.6" fill="url(#gR)"/>
<circle cx="205.7" cy="1328.8" r="6.6" fill="url(#gR)"/>
<circle cx="387.6" cy="1247.5" r="6.6" fill="url(#gR)"/>
<circle cx="470.1" cy="1246.8" r="6.6" fill="url(#gR)"/>
<circle cx="483.7" cy="1340.6" r="6.6" fill="url(#gR)"/>
<circle cx="398.2" cy="1339.8" r="6.6" fill="url(#gR)"/>
<circle cx="382" cy="1069.5" r="6.6" fill="url(#gR)"/>
<circle cx="350.8" cy="1108.5" r="6.6" fill="url(#gR)"/>
<circle cx="284" cy="1179.2" r="6.6" fill="url(#gR)"/>
<circle cx="381.5" cy="1272" r="6.6" fill="url(#gR)"/>
<circle cx="437" cy="1149" r="6.6" fill="url(#gR)"/>
<circle cx="224.6" cy="1090" r="6.8" fill="url(#gW)"/>
<circle cx="417.1" cy="1100.6" r="6.8" fill="url(#gW)"/>
<circle cx="224.6" cy="1291.8" r="6.8" fill="url(#gW)"/>
<circle cx="417.1" cy="1302.8" r="6.8" fill="url(#gW)"/>
<circle cx="401.3" cy="1138.3" r="6.8" fill="url(#gW)"/>
<circle cx="417" cy="1208.4" r="6.8" fill="url(#gW)"/>
<circle cx="248.8" cy="1002.2" r="7.6" fill="url(#gB)"/>
<circle cx="322.2" cy="1019.6" r="7.6" fill="url(#gB)"/>
<circle cx="323" cy="1102" r="7.6" fill="url(#gB)"/>
<circle cx="444.3" cy="1012.8" r="7.6" fill="url(#gB)"/>
<circle cx="517.7" cy="1030.2" r="7.6" fill="url(#gB)"/>
<circle cx="518.5" cy="1112.6" r="7.6" fill="url(#gB)"/>
<circle cx="248.8" cy="1204" r="7.6" fill="url(#gB)"/>
<circle cx="322.2" cy="1221.4" r="7.6" fill="url(#gB)"/>
<circle cx="323" cy="1303.8" r="7.6" fill="url(#gB)"/>
<circle cx="444.3" cy="1215" r="7.6" fill="url(#gB)"/>
<circle cx="517.7" cy="1232.4" r="7.6" fill="url(#gB)"/>
<circle cx="518.5" cy="1314.8" r="7.6" fill="url(#gB)"/>
<circle cx="300.8" cy="1151.3" r="7.6" fill="url(#gB)"/>
<circle cx="374.1" cy="1141.6" r="7.6" fill="url(#gB)"/>
<circle cx="321.6" cy="1199.9" r="7.6" fill="url(#gB)"/>
<circle cx="375.4" cy="1223.9" r="7.6" fill="url(#gB)"/>
<circle cx="301.5" cy="1233.6" r="7.6" fill="url(#gB)"/>
<circle cx="444.1" cy="1215.5" r="7.6" fill="url(#gB)"/>
<circle cx="319" cy="1101" r="7.6" fill="url(#gB)"/>
<circle cx="389" cy="1143" r="7.6" fill="url(#gB)"/></g>
</g>
<g id="panel-h">
<rect x="840.1" y="1216.9" width="69.1" height="66.8" fill="#ff8000"/>
<rect x="909.2" y="976.6" width="69.9" height="307.1" fill="#0d7f80"/>
<rect x="1069.2" y="1277.8" width="70.5" height="5.9" fill="#f28a1c"/>
<rect x="1139.7" y="1006" width="69.8" height="277.7" fill="#0d7f80"/>
<line x1="791.8" y1="932.5" x2="1255" y2="932.5" stroke="#222" stroke-width="2.6" />
<line x1="792.9" y1="932.5" x2="792.9" y2="1284.9" stroke="#222" stroke-width="2.8" />
<line x1="791.8" y1="1283.7" x2="1255" y2="1283.7" stroke="#111" stroke-width="2.6" />
<line x1="1255" y1="931.3" x2="1255" y2="1284.9" stroke="#c42430" stroke-width="2.4" />
<line x1="787.4" y1="1283.7" x2="792.9" y2="1283.7" stroke="#111" stroke-width="2.2" />
<line x1="789.9" y1="1248.6" x2="792.9" y2="1248.6" stroke="#111" stroke-width="2.2" />
<line x1="787.4" y1="1213.5" x2="792.9" y2="1213.5" stroke="#111" stroke-width="2.2" />
<line x1="789.9" y1="1178.3" x2="792.9" y2="1178.3" stroke="#111" stroke-width="2.2" />
<line x1="787.4" y1="1143.2" x2="792.9" y2="1143.2" stroke="#111" stroke-width="2.2" />
<line x1="789.9" y1="1108.1" x2="792.9" y2="1108.1" stroke="#111" stroke-width="2.2" />
<line x1="787.4" y1="1073" x2="792.9" y2="1073" stroke="#111" stroke-width="2.2" />
<line x1="789.9" y1="1037.9" x2="792.9" y2="1037.9" stroke="#111" stroke-width="2.2" />
<line x1="787.4" y1="1002.7" x2="792.9" y2="1002.7" stroke="#111" stroke-width="2.2" />
<line x1="789.9" y1="967.6" x2="792.9" y2="967.6" stroke="#111" stroke-width="2.2" />
<line x1="787.4" y1="932.5" x2="792.9" y2="932.5" stroke="#111" stroke-width="2.2" />
<line x1="1255" y1="1283.7" x2="1261" y2="1283.7" stroke="#c42430" stroke-width="2.2" />
<line x1="1255" y1="1254.4" x2="1258.2" y2="1254.4" stroke="#c42430" stroke-width="2.2" />
<line x1="1255" y1="1225.2" x2="1261" y2="1225.2" stroke="#c42430" stroke-width="2.2" />
<line x1="1255" y1="1195.9" x2="1258.2" y2="1195.9" stroke="#c42430" stroke-width="2.2" />
<line x1="1255" y1="1166.6" x2="1261" y2="1166.6" stroke="#c42430" stroke-width="2.2" />
<line x1="1255" y1="1137.4" x2="1258.2" y2="1137.4" stroke="#c42430" stroke-width="2.2" />
<line x1="1255" y1="1108.1" x2="1261" y2="1108.1" stroke="#c42430" stroke-width="2.2" />
<line x1="1255" y1="1078.8" x2="1258.2" y2="1078.8" stroke="#c42430" stroke-width="2.2" />
<line x1="1255" y1="1049.6" x2="1261" y2="1049.6" stroke="#c42430" stroke-width="2.2" />
<line x1="1255" y1="1020.3" x2="1258.2" y2="1020.3" stroke="#c42430" stroke-width="2.2" />
<line x1="1255" y1="991" x2="1261" y2="991" stroke="#c42430" stroke-width="2.2" />
<line x1="1255" y1="961.8" x2="1258.2" y2="961.8" stroke="#c42430" stroke-width="2.2" />
<line x1="1255" y1="932.5" x2="1261" y2="932.5" stroke="#c42430" stroke-width="2.2" />
<line x1="909.2" y1="1283.7" x2="909.2" y2="1289.7" stroke="#111" stroke-width="2.2" />
<line x1="1139.7" y1="1283.7" x2="1139.7" y2="1289.7" stroke="#111" stroke-width="2.2" />
<line x1="1024.4" y1="1283.7" x2="1024.4" y2="1286.7" stroke="#111" stroke-width="1.8" />
<text font-family='"Liberation Sans", sans-serif' font-size="20.5" font-weight="bold" text-anchor="end" fill="#111" x="781.5" y="1290.5" stroke="#111" stroke-width="0.4">0.00</text>
<text font-family='"Liberation Sans", sans-serif' font-size="20.5" font-weight="bold" text-anchor="end" fill="#111" x="781.5" y="1220.3" stroke="#111" stroke-width="0.4">0.01</text>
<text font-family='"Liberation Sans", sans-serif' font-size="20.5" font-weight="bold" text-anchor="end" fill="#111" x="781.5" y="1150" stroke="#111" stroke-width="0.4">0.02</text>
<text font-family='"Liberation Sans", sans-serif' font-size="20.5" font-weight="bold" text-anchor="end" fill="#111" x="781.5" y="1079.8" stroke="#111" stroke-width="0.4">0.03</text>
<text font-family='"Liberation Sans", sans-serif' font-size="20.5" font-weight="bold" text-anchor="end" fill="#111" x="781.5" y="1009.5" stroke="#111" stroke-width="0.4">0.04</text>
<text font-family='"Liberation Sans", sans-serif' font-size="20.5" font-weight="bold" text-anchor="end" fill="#111" x="781.5" y="939.3" stroke="#111" stroke-width="0.4">0.05</text>
<text font-family='"Liberation Sans", sans-serif' font-size="20.5" font-weight="bold" fill="#c42430" textLength="40.5" lengthAdjust="spacingAndGlyphs" x="1267" y="1291.1">0.00</text>
<text font-family='"Liberation Sans", sans-serif' font-size="20.5" font-weight="bold" fill="#c42430" textLength="40.5" lengthAdjust="spacingAndGlyphs" x="1267" y="1232.6">0.25</text>
<text font-family='"Liberation Sans", sans-serif' font-size="20.5" font-weight="bold" fill="#c42430" textLength="40.5" lengthAdjust="spacingAndGlyphs" x="1267" y="1174">0.50</text>
<text font-family='"Liberation Sans", sans-serif' font-size="20.5" font-weight="bold" fill="#c42430" textLength="40.5" lengthAdjust="spacingAndGlyphs" x="1267" y="1115.5">0.75</text>
<text font-family='"Liberation Sans", sans-serif' font-size="20.5" font-weight="bold" fill="#c42430" textLength="40.5" lengthAdjust="spacingAndGlyphs" x="1267" y="1057">1.00</text>
<text font-family='"Liberation Sans", sans-serif' font-size="20.5" font-weight="bold" fill="#c42430" textLength="40.5" lengthAdjust="spacingAndGlyphs" x="1267" y="998.4">1.25</text>
<text font-family='"Liberation Sans", sans-serif' font-size="20.5" font-weight="bold" fill="#c42430" textLength="40.5" lengthAdjust="spacingAndGlyphs" x="1267" y="939.9">1.50</text>
<rect x="808.1" y="950.1" width="37.5" height="18.2" fill="#ff8000"/>
<text font-family='"Liberation Sans", sans-serif' font-size="21" font-weight="bold" fill="#111" textLength="94" lengthAdjust="spacingAndGlyphs" x="853.4" y="964.6">MnHCF-L</text>
<rect x="1106.3" y="950.1" width="38.1" height="18.2" fill="#0d7f80"/>
<text font-family='"Liberation Sans", sans-serif' font-size="21" font-weight="bold" fill="#111" textLength="95.5" lengthAdjust="spacingAndGlyphs" x="1151.8" y="964.6">MnHCF-S</text>
<line x1="891.4" y1="1079.4" x2="825.6" y2="1079.4" stroke="#111" stroke-width="2.2" /><polygon points="813.6,1079.4 827.6,1075.4 827.6,1083.4" fill="#111"/>
<line x1="1185" y1="994.7" x2="1236.1" y2="994.7" stroke="#e0201e" stroke-width="2.2" /><polygon points="1248.1,994.7 1234.1,998.7 1234.1,990.7" fill="#e0201e"/>
<text font-family='"Liberation Sans", sans-serif' font-size="27.3" font-weight="bold" text-anchor="middle" fill="#111" textLength="80.9" lengthAdjust="spacingAndGlyphs" x="912.2" y="1315.8">Space</text>
<text font-family='"Liberation Sans", sans-serif' font-size="27.3" font-weight="bold" text-anchor="middle" fill="#111" textLength="128" lengthAdjust="spacingAndGlyphs" x="920.3" y="1352.6">utilization</text>
<text font-family='"Liberation Sans", sans-serif' font-size="27.3" font-weight="bold" text-anchor="middle" fill="#111" textLength="76" lengthAdjust="spacingAndGlyphs" x="1148.7" y="1316.4">Water</text>
<text font-family='"Liberation Sans", sans-serif' font-size="27.3" font-weight="bold" text-anchor="middle" fill="#111" textLength="173.7" lengthAdjust="spacingAndGlyphs" x="1158.6" y="1353.5">consumption</text>
<text font-family='"Liberation Sans", sans-serif' font-size="28" font-weight="bold" fill="#111" textLength="213" lengthAdjust="spacingAndGlyphs" transform="translate(732 1214.5) rotate(-90)" stroke="#111" stroke-width="0.6">Mass (kg dm<tspan font-size="18" dy="-11">-3</tspan><tspan dy="11">&#8203;</tspan>)</text>
<text font-family='"Liberation Sans", sans-serif' font-size="26" font-weight="bold" fill="#dc1f26" textLength="179" lengthAdjust="spacingAndGlyphs" transform="translate(1341 1198.5) rotate(-90)">Mass (kg L<tspan font-size="17" dy="-11">-1</tspan><tspan dy="11">&#8203;</tspan>)</text>
</g>
<g id="panel-i">
<polyline points="1486,1038.6 1488.8,1039.9 1491.7,1040.8 1494.6,1041.4 1497.4,1041.9 1500.3,1042.5 1503.2,1043 1506,1043.4 1508.9,1043.5 1511.8,1043.6 1514.7,1043.8 1517.5,1043.9 1520.4,1044 1523.3,1044.2 1526.1,1044.3 1529,1044.4 1531.9,1044.5 1534.8,1044.7 1537.6,1044.8 1540.5,1044.9 1543.4,1045.1 1546.2,1045.2 1549.1,1045.3 1552,1045.5 1554.8,1045.7 1557.7,1046.1 1560.6,1046.4 1563.5,1046.8 1566.3,1047.1 1569.2,1047.5 1572.1,1047.8 1574.9,1048.2 1577.8,1048.5 1580.7,1048.9 1583.6,1049.2 1586.4,1049.6 1589.3,1049.9 1592.2,1050.4 1595,1050.9 1597.9,1051.3 1600.8,1051.8 1603.7,1052.3 1606.5,1052.8 1609.4,1053.3 1612.3,1053.8 1615.1,1054.2 1618,1054.7 1620.9,1055.2 1623.7,1055.7 1626.6,1056.3 1629.5,1056.9 1632.4,1057.5 1635.2,1058 1638.1,1058.6 1641,1059.2 1643.8,1059.8 1646.7,1060.3 1649.6,1060.9 1652.5,1061.5 1655.3,1062.1 1658.2,1062.6 1661.1,1063.2 1663.9,1063.8 1666.8,1064.4 1669.7,1064.9 1672.5,1065.5 1675.4,1066.1 1678.3,1066.7 1681.2,1067.2 1684,1067.8 1686.9,1068.4 1689.8,1069 1692.6,1069.5 1695.5,1070.1 1698.4,1070.7 1701.3,1071.3 1704.1,1071.9 1707,1072.6 1709.9,1073.3 1712.7,1073.9 1715.6,1074.6 1718.5,1075.2 1721.3,1075.9 1724.2,1076.5 1727.1,1077.2 1730,1077.9 1732.8,1078.5 1735.7,1079 1738.6,1079.4 1741.4,1079.9 1744.3,1080.4 1747.2,1080.8 1750.1,1081.3 1752.9,1081.7 1755.8,1082.2 1758.7,1082.6 1761.5,1083.1 1764.4,1083.5 1767.3,1084 1770.1,1084.4 1773,1084.9 1775.9,1085.4 1778.8,1085.8 1781.6,1086.2 1784.5,1086.6 1787.4,1087.1 1790.2,1087.5 1793.1,1087.9 1796,1088.3 1798.9,1088.7 1801.7,1089.1 1804.6,1089.5 1807.5,1090 1810.3,1090.4 1813.2,1090.8 1816.1,1091.2 1819,1091.6 1821.8,1091.9 1824.7,1092.2 1827.6,1092.4 1830.4,1092.7 1833.3,1093 1836.2,1093.3 1839,1093.5 1841.9,1093.8 1844.8,1094.1 1847.7,1094.3 1850.5,1094.6 1853.4,1094.9 1856.3,1095.1 1859.1,1095.4 1862,1095.7 1864.9,1095.9 1867.8,1096.1 1870.6,1096.3 1873.5,1096.5 1876.4,1096.8 1879.2,1097 1882.1,1097.2 1885,1097.4 1887.8,1097.7 1890.7,1097.9 1893.6,1098.1 1896.5,1098.3 1899.3,1098.5" fill="none" stroke="#c2c2c2" stroke-width="8.4" />
<g opacity="0.9"><rect x="1482.1" y="1034.5" width="7.8" height="8.2" fill="#eef2f2" stroke="#2c2c2c" stroke-width="1.2"/><rect x="1484.9" y="1035.8" width="7.8" height="8.2" fill="#cfcfcf" stroke="#2c2c2c" stroke-width="1.2"/><rect x="1487.8" y="1036.7" width="7.8" height="8.2" fill="#cfcfcf" stroke="#2c2c2c" stroke-width="1.2"/><rect x="1490.7" y="1037.3" width="7.8" height="8.2" fill="#cfcfcf" stroke="#2c2c2c" stroke-width="1.2"/><rect x="1493.5" y="1037.8" width="7.8" height="8.2" fill="#cfcfcf" stroke="#2c2c2c" stroke-width="1.2"/><rect x="1496.4" y="1038.4" width="7.8" height="8.2" fill="#cfcfcf" stroke="#2c2c2c" stroke-width="1.2"/><rect x="1499.3" y="1038.9" width="7.8" height="8.2" fill="#cfcfcf" stroke="#2c2c2c" stroke-width="1.2"/><rect x="1502.1" y="1039.3" width="7.8" height="8.2" fill="#cfcfcf" stroke="#2c2c2c" stroke-width="1.2"/><rect x="1505" y="1039.4" width="7.8" height="8.2" fill="#cfcfcf" stroke="#2c2c2c" stroke-width="1.2"/><rect x="1507.9" y="1039.5" width="7.8" height="8.2" fill="#eef2f2" stroke="#2c2c2c" stroke-width="1.2"/><rect x="1510.8" y="1039.7" width="7.8" height="8.2" fill="#cfcfcf" stroke="#2c2c2c" stroke-width="1.2"/><rect x="1513.6" y="1039.8" width="7.8" height="8.2" fill="#cfcfcf" stroke="#2c2c2c" stroke-width="1.2"/><rect x="1516.5" y="1039.9" width="7.8" height="8.2" fill="#cfcfcf" stroke="#2c2c2c" stroke-width="1.2"/><rect x="1519.4" y="1040.1" width="7.8" height="8.2" fill="#cfcfcf" stroke="#2c2c2c" stroke-width="1.2"/><rect x="1522.2" y="1040.2" width="7.8" height="8.2" fill="#cfcfcf" stroke="#2c2c2c" stroke-width="1.2"/><rect x="1525.1" y="1040.3" width="7.8" height="8.2" fill="#cfcfcf" stroke="#2c2c2c" stroke-width="1.2"/><rect x="1528" y="1040.4" width="7.8" height="8.2" fill="#cfcfcf" stroke="#2c2c2c" stroke-width="1.2"/><rect x="1530.9" y="1040.6" width="7.8" height="8.2" fill="#cfcfcf" stroke="#2c2c2c" stroke-width="1.2"/><rect x="1533.7" y="1040.7" width="7.8" height="8.2" fill="#eef2f2" stroke="#2c2c2c" stroke-width="1.2"/><rect x="1536.6" y="1040.8" width="7.8" height="8.2" fill="#cfcfcf" stroke="#2c2c2c" stroke-width="1.2"/><rect x="1539.5" y="1041" width="7.8" height="8.2" fill="#cfcfcf" stroke="#2c2c2c" stroke-width="1.2"/><rect x="1542.3" y="1041.1" width="7.8" height="8.2" fill="#cfcfcf" stroke="#2c2c2c" stroke-width="1.2"/><rect x="1545.2" y="1041.2" width="7.8" height="8.2" fill="#cfcfcf" stroke="#2c2c2c" stroke-width="1.2"/><rect x="1548.1" y="1041.4" width="7.8" height="8.2" fill="#cfcfcf" stroke="#2c2c2c" stroke-width="1.2"/><rect x="1550.9" y="1041.6" width="7.8" height="8.2" fill="#cfcfcf" stroke="#2c2c2c" stroke-width="1.2"/><rect x="1553.8" y="1042" width="7.8" height="8.2" fill="#cfcfcf" stroke="#2c2c2c" stroke-width="1.2"/><rect x="1556.7" y="1042.3" width="7.8" height="8.2" fill="#cfcfcf" stroke="#2c2c2c" stroke-width="1.2"/><rect x="1559.6" y="1042.7" width="7.8" height="8.2" fill="#eef2f2" stroke="#2c2c2c" stroke-width="1.2"/><rect x="1562.4" y="1043" width="7.8" height="8.2" fill="#cfcfcf" stroke="#2c2c2c" stroke-width="1.2"/><rect x="1565.3" y="1043.4" width="7.8" height="8.2" fill="#cfcfcf" stroke="#2c2c2c" stroke-width="1.2"/><rect x="1568.2" y="1043.7" width="7.8" height="8.2" fill="#cfcfcf" stroke="#2c2c2c" stroke-width="1.2"/><rect x="1571" y="1044.1" width="7.8" height="8.2" fill="#cfcfcf" stroke="#2c2c2c" stroke-width="1.2"/><rect x="1573.9" y="1044.4" width="7.8" height="8.2" fill="#cfcfcf" stroke="#2c2c2c" stroke-width="1.2"/><rect x="1576.8" y="1044.8" width="7.8" height="8.2" fill="#cfcfcf" stroke="#2c2c2c" stroke-width="1.2"/><rect x="1579.7" y="1045.1" width="7.8" height="8.2" fill="#cfcfcf" stroke="#2c2c2c" stroke-width="1.2"/><rect x="1582.5" y="1045.5" width="7.8" height="8.2" fill="#cfcfcf" stroke="#2c2c2c" stroke-width="1.2"/><rect x="1585.4" y="1045.8" width="7.8" height="8.2" fill="#eef2f2" stroke="#2c2c2c" stroke-width="1.2"/><rect x="1588.3" y="1046.3" width="7.8" height="8.2" fill="#cfcfcf" stroke="#2c2c2c" stroke-width="1.2"/><rect x="1591.1" y="1046.8" width="7.8" height="8.2" fill="#cfcfcf" stroke="#2c2c2c" stroke-width="1.2"/><rect x="1594" y="1047.2" width="7.8" height="8.2" fill="#cfcfcf" stroke="#2c2c2c" stroke-width="1.2"/><rect x="1596.9" y="1047.7" width="7.8" height="8.2" fill="#cfcfcf" stroke="#2c2c2c" stroke-width="1.2"/><rect x="1599.8" y="1048.2" width="7.8" height="8.2" fill="#cfcfcf" stroke="#2c2c2c" stroke-width="1.2"/><rect x="1602.6" y="1048.7" width="7.8" height="8.2" fill="#cfcfcf" stroke="#2c2c2c" stroke-width="1.2"/><rect x="1605.5" y="1049.2" width="7.8" height="8.2" fill="#cfcfcf" stroke="#2c2c2c" stroke-width="1.2"/><rect x="1608.4" y="1049.7" width="7.8" height="8.2" fill="#cfcfcf" stroke="#2c2c2c" stroke-width="1.2"/><rect x="1611.2" y="1050.1" width="7.8" height="8.2" fill="#eef2f2" stroke="#2c2c2c" stroke-width="1.2"/><rect x="1614.1" y="1050.6" width="7.8" height="8.2" fill="#cfcfcf" stroke="#2c2c2c" stroke-width="1.2"/><rect x="1617" y="1051.1" width="7.8" height="8.2" fill="#cfcfcf" stroke="#2c2c2c" stroke-width="1.2"/><rect x="1619.8" y="1051.6" width="7.8" height="8.2" fill="#cfcfcf" stroke="#2c2c2c" stroke-width="1.2"/><rect x="1622.7" y="1052.2" width="7.8" height="8.2" fill="#cfcfcf" stroke="#2c2c2c" stroke-width="1.2"/><rect x="1625.6" y="1052.8" width="7.8" height="8.2" fill="#cfcfcf" stroke="#2c2c2c" stroke-width="1.2"/><rect x="1628.5" y="1053.4" width="7.8" height="8.2" fill="#cfcfcf" stroke="#2c2c2c" stroke-width="1.2"/><rect x="1631.3" y="1053.9" width="7.8" height="8.2" fill="#cfcfcf" stroke="#2c2c2c" stroke-width="1.2"/><rect x="1634.2" y="1054.5" width="7.8" height="8.2" fill="#cfcfcf" stroke="#2c2c2c" stroke-width="1.2"/><rect x="1637.1" y="1055.1" width="7.8" height="8.2" fill="#eef2f2" stroke="#2c2c2c" stroke-width="1.2"/><rect x="1639.9" y="1055.7" width="7.8" height="8.2" fill="#cfcfcf" stroke="#2c2c2c" stroke-width="1.2"/><rect x="1642.8" y="1056.2" width="7.8" height="8.2" fill="#cfcfcf" stroke="#2c2c2c" stroke-width="1.2"/><rect x="1645.7" y="1056.8" width="7.8" height="8.2" fill="#cfcfcf" stroke="#2c2c2c" stroke-width="1.2"/><rect x="1648.6" y="1057.4" width="7.8" height="8.2" fill="#cfcfcf" stroke="#2c2c2c" stroke-width="1.2"/><rect x="1651.4" y="1058" width="7.8" height="8.2" fill="#cfcfcf" stroke="#2c2c2c" stroke-width="1.2"/><rect x="1654.3" y="1058.5" width="7.8" height="8.2" fill="#cfcfcf" stroke="#2c2c2c" stroke-width="1.2"/><rect x="1657.2" y="1059.1" width="7.8" height="8.2" fill="#cfcfcf" stroke="#2c2c2c" stroke-width="1.2"/><rect x="1660" y="1059.7" width="7.8" height="8.2" fill="#cfcfcf" stroke="#2c2c2c" stroke-width="1.2"/><rect x="1662.9" y="1060.3" width="7.8" height="8.2" fill="#eef2f2" stroke="#2c2c2c" stroke-width="1.2"/><rect x="1665.8" y="1060.8" width="7.8" height="8.2" fill="#cfcfcf" stroke="#2c2c2c" stroke-width="1.2"/><rect x="1668.6" y="1061.4" width="7.8" height="8.2" fill="#cfcfcf" stroke="#2c2c2c" stroke-width="1.2"/><rect x="1671.5" y="1062" width="7.8" height="8.2" fill="#cfcfcf" stroke="#2c2c2c" stroke-width="1.2"/><rect x="1674.4" y="1062.6" width="7.8" height="8.2" fill="#cfcfcf" stroke="#2c2c2c" stroke-width="1.2"/><rect x="1677.3" y="1063.1" width="7.8" height="8.2" fill="#cfcfcf" stroke="#2c2c2c" stroke-width="1.2"/><rect x="1680.1" y="1063.7" width="7.8" height="8.2" fill="#cfcfcf" stroke="#2c2c2c" stroke-width="1.2"/><rect x="1683" y="1064.3" width="7.8" height="8.2" fill="#cfcfcf" stroke="#2c2c2c" stroke-width="1.2"/><rect x="1685.9" y="1064.9" width="7.8" height="8.2" fill="#cfcfcf" stroke="#2c2c2c" stroke-width="1.2"/><rect x="1688.7" y="1065.4" width="7.8" height="8.2" fill="#eef2f2" stroke="#2c2c2c" stroke-width="1.2"/><rect x="1691.6" y="1066" width="7.8" height="8.2" fill="#cfcfcf" stroke="#2c2c2c" stroke-width="1.2"/><rect x="1694.5" y="1066.6" width="7.8" height="8.2" fill="#cfcfcf" stroke="#2c2c2c" stroke-width="1.2"/><rect x="1697.4" y="1067.2" width="7.8" height="8.2" fill="#cfcfcf" stroke="#2c2c2c" stroke-width="1.2"/><rect x="1700.2" y="1067.8" width="7.8" height="8.2" fill="#cfcfcf" stroke="#2c2c2c" stroke-width="1.2"/><rect x="1703.1" y="1068.5" width="7.8" height="8.2" fill="#cfcfcf" stroke="#2c2c2c" stroke-width="1.2"/><rect x="1706" y="1069.2" width="7.8" height="8.2" fill="#cfcfcf" stroke="#2c2c2c" stroke-width="1.2"/><rect x="1708.8" y="1069.8" width="7.8" height="8.2" fill="#cfcfcf" stroke="#2c2c2c" stroke-width="1.2"/><rect x="1711.7" y="1070.5" width="7.8" height="8.2" fill="#cfcfcf" stroke="#2c2c2c" stroke-width="1.2"/><rect x="1714.6" y="1071.1" width="7.8" height="8.2" fill="#eef2f2" stroke="#2c2c2c" stroke-width="1.2"/><rect x="1717.4" y="1071.8" width="7.8" height="8.2" fill="#cfcfcf" stroke="#2c2c2c" stroke-width="1.2"/><rect x="1720.3" y="1072.4" width="7.8" height="8.2" fill="#cfcfcf" stroke="#2c2c2c" stroke-width="1.2"/><rect x="1723.2" y="1073.1" width="7.8" height="8.2" fill="#cfcfcf" stroke="#2c2c2c" stroke-width="1.2"/><rect x="1726.1" y="1073.8" width="7.8" height="8.2" fill="#cfcfcf" stroke="#2c2c2c" stroke-width="1.2"/><rect x="1728.9" y="1074.4" width="7.8" height="8.2" fill="#cfcfcf" stroke="#2c2c2c" stroke-width="1.2"/><rect x="1731.8" y="1074.9" width="7.8" height="8.2" fill="#cfcfcf" stroke="#2c2c2c" stroke-width="1.2"/><rect x="1734.7" y="1075.3" width="7.8" height="8.2" fill="#cfcfcf" stroke="#2c2c2c" stroke-width="1.2"/><rect x="1737.5" y="1075.8" width="7.8" height="8.2" fill="#cfcfcf" stroke="#2c2c2c" stroke-width="1.2"/><rect x="1740.4" y="1076.3" width="7.8" height="8.2" fill="#eef2f2" stroke="#2c2c2c" stroke-width="1.2"/><rect x="1743.3" y="1076.7" width="7.8" height="8.2" fill="#cfcfcf" stroke="#2c2c2c" stroke-width="1.2"/><rect x="1746.2" y="1077.2" width="7.8" height="8.2" fill="#cfcfcf" stroke="#2c2c2c" stroke-width="1.2"/><rect x="1749" y="1077.6" width="7.8" height="8.2" fill="#cfcfcf" stroke="#2c2c2c" stroke-width="1.2"/><rect x="1751.9" y="1078.1" width="7.8" height="8.2" fill="#cfcfcf" stroke="#2c2c2c" stroke-width="1.2"/><rect x="1754.8" y="1078.5" width="7.8" height="8.2" fill="#cfcfcf" stroke="#2c2c2c" stroke-width="1.2"/><rect x="1757.6" y="1079" width="7.8" height="8.2" fill="#cfcfcf" stroke="#2c2c2c" stroke-width="1.2"/><rect x="1760.5" y="1079.4" width="7.8" height="8.2" fill="#cfcfcf" stroke="#2c2c2c" stroke-width="1.2"/><rect x="1763.4" y="1079.9" width="7.8" height="8.2" fill="#cfcfcf" stroke="#2c2c2c" stroke-width="1.2"/><rect x="1766.2" y="1080.3" width="7.8" height="8.2" fill="#eef2f2" stroke="#2c2c2c" stroke-width="1.2"/><rect x="1769.1" y="1080.8" width="7.8" height="8.2" fill="#cfcfcf" stroke="#2c2c2c" stroke-width="1.2"/><rect x="1772" y="1081.3" width="7.8" height="8.2" fill="#cfcfcf" stroke="#2c2c2c" stroke-width="1.2"/><rect x="1774.9" y="1081.7" width="7.8" height="8.2" fill="#cfcfcf" stroke="#2c2c2c" stroke-width="1.2"/><rect x="1777.7" y="1082.1" width="7.8" height="8.2" fill="#cfcfcf" stroke="#2c2c2c" stroke-width="1.2"/><rect x="1780.6" y="1082.5" width="7.8" height="8.2" fill="#cfcfcf" stroke="#2c2c2c" stroke-width="1.2"/><rect x="1783.5" y="1083" width="7.8" height="8.2" fill="#cfcfcf" stroke="#2c2c2c" stroke-width="1.2"/><rect x="1786.3" y="1083.4" width="7.8" height="8.2" fill="#cfcfcf" stroke="#2c2c2c" stroke-width="1.2"/><rect x="1789.2" y="1083.8" width="7.8" height="8.2" fill="#cfcfcf" stroke="#2c2c2c" stroke-width="1.2"/><rect x="1792.1" y="1084.2" width="7.8" height="8.2" fill="#eef2f2" stroke="#2c2c2c" stroke-width="1.2"/><rect x="1795" y="1084.6" width="7.8" height="8.2" fill="#cfcfcf" stroke="#2c2c2c" stroke-width="1.2"/><rect x="1797.8" y="1085" width="7.8" height="8.2" fill="#cfcfcf" stroke="#2c2c2c" stroke-width="1.2"/><rect x="1800.7" y="1085.4" width="7.8" height="8.2" fill="#cfcfcf" stroke="#2c2c2c" stroke-width="1.2"/><rect x="1803.6" y="1085.9" width="7.8" height="8.2" fill="#cfcfcf" stroke="#2c2c2c" stroke-width="1.2"/><rect x="1806.4" y="1086.3" width="7.8" height="8.2" fill="#cfcfcf" stroke="#2c2c2c" stroke-width="1.2"/><rect x="1809.3" y="1086.7" width="7.8" height="8.2" fill="#cfcfcf" stroke="#2c2c2c" stroke-width="1.2"/><rect x="1812.2" y="1087.1" width="7.8" height="8.2" fill="#cfcfcf" stroke="#2c2c2c" stroke-width="1.2"/><rect x="1815.1" y="1087.5" width="7.8" height="8.2" fill="#cfcfcf" stroke="#2c2c2c" stroke-width="1.2"/><rect x="1817.9" y="1087.8" width="7.8" height="8.2" fill="#eef2f2" stroke="#2c2c2c" stroke-width="1.2"/><rect x="1820.8" y="1088.1" width="7.8" height="8.2" fill="#cfcfcf" stroke="#2c2c2c" stroke-width="1.2"/><rect x="1823.7" y="1088.3" width="7.8" height="8.2" fill="#cfcfcf" stroke="#2c2c2c" stroke-width="1.2"/><rect x="1826.5" y="1088.6" width="7.8" height="8.2" fill="#cfcfcf" stroke="#2c2c2c" stroke-width="1.2"/><rect x="1829.4" y="1088.9" width="7.8" height="8.2" fill="#cfcfcf" stroke="#2c2c2c" stroke-width="1.2"/><rect x="1832.3" y="1089.2" width="7.8" height="8.2" fill="#cfcfcf" stroke="#2c2c2c" stroke-width="1.2"/><rect x="1835.1" y="1089.4" width="7.8" height="8.2" fill="#cfcfcf" stroke="#2c2c2c" stroke-width="1.2"/><rect x="1838" y="1089.7" width="7.8" height="8.2" fill="#cfcfcf" stroke="#2c2c2c" stroke-width="1.2"/><rect x="1840.9" y="1090" width="7.8" height="8.2" fill="#cfcfcf" stroke="#2c2c2c" stroke-width="1.2"/><rect x="1843.8" y="1090.2" width="7.8" height="8.2" fill="#eef2f2" stroke="#2c2c2c" stroke-width="1.2"/><rect x="1846.6" y="1090.5" width="7.8" height="8.2" fill="#cfcfcf" stroke="#2c2c2c" stroke-width="1.2"/><rect x="1849.5" y="1090.8" width="7.8" height="8.2" fill="#cfcfcf" stroke="#2c2c2c" stroke-width="1.2"/><rect x="1852.4" y="1091" width="7.8" height="8.2" fill="#cfcfcf" stroke="#2c2c2c" stroke-width="1.2"/><rect x="1855.2" y="1091.3" width="7.8" height="8.2" fill="#cfcfcf" stroke="#2c2c2c" stroke-width="1.2"/><rect x="1858.1" y="1091.6" width="7.8" height="8.2" fill="#cfcfcf" stroke="#2c2c2c" stroke-width="1.2"/><rect x="1861" y="1091.8" width="7.8" height="8.2" fill="#cfcfcf" stroke="#2c2c2c" stroke-width="1.2"/><rect x="1863.9" y="1092" width="7.8" height="8.2" fill="#cfcfcf" stroke="#2c2c2c" stroke-width="1.2"/><rect x="1866.7" y="1092.2" width="7.8" height="8.2" fill="#cfcfcf" stroke="#2c2c2c" stroke-width="1.2"/><rect x="1869.6" y="1092.4" width="7.8" height="8.2" fill="#eef2f2" stroke="#2c2c2c" stroke-width="1.2"/><rect x="1872.5" y="1092.7" width="7.8" height="8.2" fill="#cfcfcf" stroke="#2c2c2c" stroke-width="1.2"/><rect x="1875.3" y="1092.9" width="7.8" height="8.2" fill="#cfcfcf" stroke="#2c2c2c" stroke-width="1.2"/><rect x="1878.2" y="1093.1" width="7.8" height="8.2" fill="#cfcfcf" stroke="#2c2c2c" stroke-width="1.2"/><rect x="1881.1" y="1093.3" width="7.8" height="8.2" fill="#cfcfcf" stroke="#2c2c2c" stroke-width="1.2"/><rect x="1883.9" y="1093.6" width="7.8" height="8.2" fill="#cfcfcf" stroke="#2c2c2c" stroke-width="1.2"/><rect x="1886.8" y="1093.8" width="7.8" height="8.2" fill="#cfcfcf" stroke="#2c2c2c" stroke-width="1.2"/><rect x="1889.7" y="1094" width="7.8" height="8.2" fill="#cfcfcf" stroke="#2c2c2c" stroke-width="1.2"/><rect x="1892.6" y="1094.2" width="7.8" height="8.2" fill="#cfcfcf" stroke="#2c2c2c" stroke-width="1.2"/><rect x="1895.4" y="1094.4" width="7.8" height="8.2" fill="#eef2f2" stroke="#2c2c2c" stroke-width="1.2"/></g>
<polyline points="1491.7,1012.4 1494.6,1013.1 1497.4,1013.8 1500.3,1014.6 1503.2,1015.3 1506,1016 1508.9,1016.8 1511.8,1017.5 1514.7,1018.2 1517.5,1019 1520.4,1019.7 1523.3,1020.4 1526.1,1021.1 1529,1021.9 1531.9,1022.6 1534.8,1023.3 1537.6,1024 1540.5,1024.7 1543.4,1025.4 1546.2,1026.2 1549.1,1026.9 1552,1027.6 1554.8,1028.3 1557.7,1029 1560.6,1029.7 1563.5,1030.4 1566.3,1031 1569.2,1031.6 1572.1,1032.3 1574.9,1032.9 1577.8,1033.5 1580.7,1034.2 1583.6,1034.8 1586.4,1035.4 1589.3,1036.1 1592.2,1036.7 1595,1037.2 1597.9,1037.7 1600.8,1038.2 1603.7,1038.7 1606.5,1039.2 1609.4,1039.7 1612.3,1040.1 1615.1,1040.6 1618,1041.1 1620.9,1041.6 1623.7,1042.1 1626.6,1042.6 1629.5,1043.1 1632.4,1043.6 1635.2,1044.1 1638.1,1044.6 1641,1045.1 1643.8,1045.5 1646.7,1046 1649.6,1046.5 1652.5,1047 1655.3,1047.4 1658.2,1047.8 1661.1,1048.3 1663.9,1048.7 1666.8,1049.1 1669.7,1049.6 1672.5,1050 1675.4,1050.4 1678.3,1050.8 1681.2,1051.3 1684,1051.7 1686.9,1052.1 1689.8,1052.6 1692.6,1053 1695.5,1053.4 1698.4,1053.9 1701.3,1054.3 1704.1,1054.7 1707,1055.1 1709.9,1055.5 1712.7,1055.9 1715.6,1056.3 1718.5,1056.7 1721.3,1057.1 1724.2,1057.5 1727.1,1057.9 1730,1058.3 1732.8,1058.7 1735.7,1059.1 1738.6,1059.6 1741.4,1060 1744.3,1060.4 1747.2,1060.8 1750.1,1061.2 1752.9,1061.6 1755.8,1062 1758.7,1062.4" fill="none" stroke="#f3b4b0" stroke-width="8.6" stroke-linecap="round"/>
<g opacity="0.8"><circle cx="1491.7" cy="1012.4" r="4.3" fill="none" stroke="#e77a78" stroke-width="1.1"/><circle cx="1494.6" cy="1013.1" r="4.3" fill="none" stroke="#e77a78" stroke-width="1.1"/><circle cx="1497.4" cy="1013.8" r="4.3" fill="none" stroke="#e77a78" stroke-width="1.1"/><circle cx="1500.3" cy="1014.6" r="4.3" fill="none" stroke="#e77a78" stroke-width="1.1"/><circle cx="1503.2" cy="1015.3" r="4.3" fill="none" stroke="#e77a78" stroke-width="1.1"/><circle cx="1506" cy="1016" r="4.3" fill="none" stroke="#e77a78" stroke-width="1.1"/><circle cx="1508.9" cy="1016.8" r="4.3" fill="none" stroke="#e77a78" stroke-width="1.1"/><circle cx="1511.8" cy="1017.5" r="4.3" fill="none" stroke="#e77a78" stroke-width="1.1"/><circle cx="1514.7" cy="1018.2" r="4.3" fill="none" stroke="#e77a78" stroke-width="1.1"/><circle cx="1517.5" cy="1019" r="4.3" fill="none" stroke="#e77a78" stroke-width="1.1"/><circle cx="1520.4" cy="1019.7" r="4.3" fill="none" stroke="#e77a78" stroke-width="1.1"/><circle cx="1523.3" cy="1020.4" r="4.3" fill="none" stroke="#e77a78" stroke-width="1.1"/><circle cx="1526.1" cy="1021.1" r="4.3" fill="none" stroke="#e77a78" stroke-width="1.1"/><circle cx="1529" cy="1021.9" r="4.3" fill="none" stroke="#e77a78" stroke-width="1.1"/><circle cx="1531.9" cy="1022.6" r="4.3" fill="none" stroke="#e77a78" stroke-width="1.1"/><circle cx="1534.8" cy="1023.3" r="4.3" fill="none" stroke="#e77a78" stroke-width="1.1"/><circle cx="1537.6" cy="1024" r="4.3" fill="none" stroke="#e77a78" stroke-width="1.1"/><circle cx="1540.5" cy="1024.7" r="4.3" fill="none" stroke="#e77a78" stroke-width="1.1"/><circle cx="1543.4" cy="1025.4" r="4.3" fill="none" stroke="#e77a78" stroke-width="1.1"/><circle cx="1546.2" cy="1026.2" r="4.3" fill="none" stroke="#e77a78" stroke-width="1.1"/><circle cx="1549.1" cy="1026.9" r="4.3" fill="none" stroke="#e77a78" stroke-width="1.1"/><circle cx="1552" cy="1027.6" r="4.3" fill="none" stroke="#e77a78" stroke-width="1.1"/><circle cx="1554.8" cy="1028.3" r="4.3" fill="none" stroke="#e77a78" stroke-width="1.1"/><circle cx="1557.7" cy="1029" r="4.3" fill="none" stroke="#e77a78" stroke-width="1.1"/><circle cx="1560.6" cy="1029.7" r="4.3" fill="none" stroke="#e77a78" stroke-width="1.1"/><circle cx="1563.5" cy="1030.4" r="4.3" fill="none" stroke="#e77a78" stroke-width="1.1"/><circle cx="1566.3" cy="1031" r="4.3" fill="none" stroke="#e77a78" stroke-width="1.1"/><circle cx="1569.2" cy="1031.6" r="4.3" fill="none" stroke="#e77a78" stroke-width="1.1"/><circle cx="1572.1" cy="1032.3" r="4.3" fill="none" stroke="#e77a78" stroke-width="1.1"/><circle cx="1574.9" cy="1032.9" r="4.3" fill="none" stroke="#e77a78" stroke-width="1.1"/><circle cx="1577.8" cy="1033.5" r="4.3" fill="none" stroke="#e77a78" stroke-width="1.1"/><circle cx="1580.7" cy="1034.2" r="4.3" fill="none" stroke="#e77a78" stroke-width="1.1"/><circle cx="1583.6" cy="1034.8" r="4.3" fill="none" stroke="#e77a78" stroke-width="1.1"/><circle cx="1586.4" cy="1035.4" r="4.3" fill="none" stroke="#e77a78" stroke-width="1.1"/><circle cx="1589.3" cy="1036.1" r="4.3" fill="none" stroke="#e77a78" stroke-width="1.1"/><circle cx="1592.2" cy="1036.7" r="4.3" fill="none" stroke="#e77a78" stroke-width="1.1"/><circle cx="1595" cy="1037.2" r="4.3" fill="none" stroke="#e77a78" stroke-width="1.1"/><circle cx="1597.9" cy="1037.7" r="4.3" fill="none" stroke="#e77a78" stroke-width="1.1"/><circle cx="1600.8" cy="1038.2" r="4.3" fill="none" stroke="#e77a78" stroke-width="1.1"/><circle cx="1603.7" cy="1038.7" r="4.3" fill="none" stroke="#e77a78" stroke-width="1.1"/><circle cx="1606.5" cy="1039.2" r="4.3" fill="none" stroke="#e77a78" stroke-width="1.1"/><circle cx="1609.4" cy="1039.7" r="4.3" fill="none" stroke="#e77a78" stroke-width="1.1"/><circle cx="1612.3" cy="1040.1" r="4.3" fill="none" stroke="#e77a78" stroke-width="1.1"/><circle cx="1615.1" cy="1040.6" r="4.3" fill="none" stroke="#e77a78" stroke-width="1.1"/><circle cx="1618" cy="1041.1" r="4.3" fill="none" stroke="#e77a78" stroke-width="1.1"/><circle cx="1620.9" cy="1041.6" r="4.3" fill="none" stroke="#e77a78" stroke-width="1.1"/><circle cx="1623.7" cy="1042.1" r="4.3" fill="none" stroke="#e77a78" stroke-width="1.1"/><circle cx="1626.6" cy="1042.6" r="4.3" fill="none" stroke="#e77a78" stroke-width="1.1"/><circle cx="1629.5" cy="1043.1" r="4.3" fill="none" stroke="#e77a78" stroke-width="1.1"/><circle cx="1632.4" cy="1043.6" r="4.3" fill="none" stroke="#e77a78" stroke-width="1.1"/><circle cx="1635.2" cy="1044.1" r="4.3" fill="none" stroke="#e77a78" stroke-width="1.1"/><circle cx="1638.1" cy="1044.6" r="4.3" fill="none" stroke="#e77a78" stroke-width="1.1"/><circle cx="1641" cy="1045.1" r="4.3" fill="none" stroke="#e77a78" stroke-width="1.1"/><circle cx="1643.8" cy="1045.5" r="4.3" fill="none" stroke="#e77a78" stroke-width="1.1"/><circle cx="1646.7" cy="1046" r="4.3" fill="none" stroke="#e77a78" stroke-width="1.1"/><circle cx="1649.6" cy="1046.5" r="4.3" fill="none" stroke="#e77a78" stroke-width="1.1"/><circle cx="1652.5" cy="1047" r="4.3" fill="none" stroke="#e77a78" stroke-width="1.1"/><circle cx="1655.3" cy="1047.4" r="4.3" fill="none" stroke="#e77a78" stroke-width="1.1"/><circle cx="1658.2" cy="1047.8" r="4.3" fill="none" stroke="#e77a78" stroke-width="1.1"/><circle cx="1661.1" cy="1048.3" r="4.3" fill="none" stroke="#e77a78" stroke-width="1.1"/><circle cx="1663.9" cy="1048.7" r="4.3" fill="none" stroke="#e77a78" stroke-width="1.1"/><circle cx="1666.8" cy="1049.1" r="4.3" fill="none" stroke="#e77a78" stroke-width="1.1"/><circle cx="1669.7" cy="1049.6" r="4.3" fill="none" stroke="#e77a78" stroke-width="1.1"/><circle cx="1672.5" cy="1050" r="4.3" fill="none" stroke="#e77a78" stroke-width="1.1"/><circle cx="1675.4" cy="1050.4" r="4.3" fill="none" stroke="#e77a78" stroke-width="1.1"/><circle cx="1678.3" cy="1050.8" r="4.3" fill="none" stroke="#e77a78" stroke-width="1.1"/><circle cx="1681.2" cy="1051.3" r="4.3" fill="none" stroke="#e77a78" stroke-width="1.1"/><circle cx="1684" cy="1051.7" r="4.3" fill="none" stroke="#e77a78" stroke-width="1.1"/><circle cx="1686.9" cy="1052.1" r="4.3" fill="none" stroke="#e77a78" stroke-width="1.1"/><circle cx="1689.8" cy="1052.6" r="4.3" fill="none" stroke="#e77a78" stroke-width="1.1"/><circle cx="1692.6" cy="1053" r="4.3" fill="none" stroke="#e77a78" stroke-width="1.1"/><circle cx="1695.5" cy="1053.4" r="4.3" fill="none" stroke="#e77a78" stroke-width="1.1"/><circle cx="1698.4" cy="1053.9" r="4.3" fill="none" stroke="#e77a78" stroke-width="1.1"/><circle cx="1701.3" cy="1054.3" r="4.3" fill="none" stroke="#e77a78" stroke-width="1.1"/><circle cx="1704.1" cy="1054.7" r="4.3" fill="none" stroke="#e77a78" stroke-width="1.1"/><circle cx="1707" cy="1055.1" r="4.3" fill="none" stroke="#e77a78" stroke-width="1.1"/><circle cx="1709.9" cy="1055.5" r="4.3" fill="none" stroke="#e77a78" stroke-width="1.1"/><circle cx="1712.7" cy="1055.9" r="4.3" fill="none" stroke="#e77a78" stroke-width="1.1"/><circle cx="1715.6" cy="1056.3" r="4.3" fill="none" stroke="#e77a78" stroke-width="1.1"/><circle cx="1718.5" cy="1056.7" r="4.3" fill="none" stroke="#e77a78" stroke-width="1.1"/><circle cx="1721.3" cy="1057.1" r="4.3" fill="none" stroke="#e77a78" stroke-width="1.1"/><circle cx="1724.2" cy="1057.5" r="4.3" fill="none" stroke="#e77a78" stroke-width="1.1"/><circle cx="1727.1" cy="1057.9" r="4.3" fill="none" stroke="#e77a78" stroke-width="1.1"/><circle cx="1730" cy="1058.3" r="4.3" fill="none" stroke="#e77a78" stroke-width="1.1"/><circle cx="1732.8" cy="1058.7" r="4.3" fill="none" stroke="#e77a78" stroke-width="1.1"/><circle cx="1735.7" cy="1059.1" r="4.3" fill="none" stroke="#e77a78" stroke-width="1.1"/><circle cx="1738.6" cy="1059.6" r="4.3" fill="none" stroke="#e77a78" stroke-width="1.1"/><circle cx="1741.4" cy="1060" r="4.3" fill="none" stroke="#e77a78" stroke-width="1.1"/><circle cx="1744.3" cy="1060.4" r="4.3" fill="none" stroke="#e77a78" stroke-width="1.1"/><circle cx="1747.2" cy="1060.8" r="4.3" fill="none" stroke="#e77a78" stroke-width="1.1"/><circle cx="1750.1" cy="1061.2" r="4.3" fill="none" stroke="#e77a78" stroke-width="1.1"/><circle cx="1752.9" cy="1061.6" r="4.3" fill="none" stroke="#e77a78" stroke-width="1.1"/><circle cx="1755.8" cy="1062" r="4.3" fill="none" stroke="#e77a78" stroke-width="1.1"/><circle cx="1758.7" cy="1062.4" r="4.3" fill="none" stroke="#e77a78" stroke-width="1.1"/></g>
<polyline points="1491.7,1006.8 1494.6,1007.5 1497.4,1008.2 1500.3,1009 1503.2,1009.7 1506,1010.4 1508.9,1011.2 1511.8,1011.9 1514.7,1012.6 1517.5,1013.4 1520.4,1014.1 1523.3,1014.8 1526.1,1015.5 1529,1016.3 1531.9,1017 1534.8,1017.7 1537.6,1018.4 1540.5,1019.1 1543.4,1019.8 1546.2,1020.6 1549.1,1021.3 1552,1022 1554.8,1022.7 1557.7,1023.4 1560.6,1024.1 1563.5,1024.8 1566.3,1025.4 1569.2,1026 1572.1,1026.7 1574.9,1027.3 1577.8,1027.9 1580.7,1028.6 1583.6,1029.2 1586.4,1029.8 1589.3,1030.5 1592.2,1031.1 1595,1031.6 1597.9,1032.1 1600.8,1032.6 1603.7,1033.1 1606.5,1033.6 1609.4,1034.1 1612.3,1034.5 1615.1,1035 1618,1035.5 1620.9,1036 1623.7,1036.5 1626.6,1037 1629.5,1037.5 1632.4,1038 1635.2,1038.5 1638.1,1039 1641,1039.5 1643.8,1039.9 1646.7,1040.4 1649.6,1040.9 1652.5,1041.4 1655.3,1041.8 1658.2,1042.2 1661.1,1042.7 1663.9,1043.1 1666.8,1043.5 1669.7,1044 1672.5,1044.4 1675.4,1044.8 1678.3,1045.2 1681.2,1045.7 1684,1046.1 1686.9,1046.5 1689.8,1047 1692.6,1047.4 1695.5,1047.8 1698.4,1048.3 1701.3,1048.7 1704.1,1049.1 1707,1049.5 1709.9,1049.9 1712.7,1050.3 1715.6,1050.7 1718.5,1051.1 1721.3,1051.5 1724.2,1051.9 1727.1,1052.3 1730,1052.7 1732.8,1053.1 1735.7,1053.5 1738.6,1054 1741.4,1054.4 1744.3,1054.8 1747.2,1055.2 1750.1,1055.6 1752.9,1056 1755.8,1056.4 1758.7,1056.8" fill="none" stroke="#dc1a22" stroke-width="4.2" stroke-linecap="round"/>
<circle cx="1759" cy="1062.3" r="5" fill="#fff" stroke="#e05a5a" stroke-width="1.4"/>
<line x1="1490" y1="939" x2="1901.2" y2="939" stroke="#8a8a8a" stroke-width="1.6" stroke-dasharray="5 2"/>
<line x1="1488" y1="944" x2="1901.7" y2="944" stroke="#0c0c0c" stroke-width="9" />
<polyline points="1491.7,952.6 1494.6,952.2 1497.4,951.8 1500.3,951.5 1503.2,951.4 1506,951.3 1508.9,951.2 1511.8,951.1 1514.7,951 1517.5,950.9 1520.4,950.8 1523.3,950.6 1526.1,950.5 1529,950.4 1531.9,950.4 1534.8,950.3 1537.6,950.2 1540.5,950.2 1543.4,950.1 1546.2,950 1549.1,950 1552,949.9 1554.8,949.8 1557.7,949.8 1560.6,949.7 1563.5,949.6 1566.3,949.6 1569.2,949.5 1572.1,949.4 1574.9,949.4 1577.8,949.3 1580.7,949.2 1583.6,949.2 1586.4,949.1 1589.3,949 1592.2,951 1595,950.9 1597.9,950.9 1600.8,950.8 1603.7,950.8 1606.5,950.7 1609.4,950.7 1612.3,950.7 1615.1,950.6 1618,950.6 1620.9,950.5 1623.7,950.5 1626.6,950.4 1629.5,950.4 1632.4,950.3 1635.2,950.3 1638.1,950.2 1641,950.2 1643.8,950.1 1646.7,950.1 1649.6,950 1652.5,950 1655.3,949.9 1658.2,949.8 1661.1,949.8 1663.9,949.7 1666.8,949.7 1669.7,949.6 1672.5,949.5 1675.4,949.5 1678.3,949.4 1681.2,949.4 1684,949.3 1686.9,949.3 1689.8,949.2 1692.6,949.1 1695.5,949.1 1698.4,949 1701.3,949 1704.1,949 1707,948.9 1709.9,948.9 1712.7,948.9 1715.6,948.9 1718.5,948.8 1721.3,948.8 1724.2,948.8 1727.1,948.7 1730,948.7 1732.8,948.7 1735.7,948.7 1738.6,948.6 1741.4,948.6 1744.3,948.6 1747.2,948.6 1750.1,948.5 1752.9,948.5 1755.8,948.5 1758.7,948.4 1761.5,948.4" fill="none" stroke="#e0444a" stroke-width="8.8" stroke-linecap="round"/>
<polyline points="1491.7,947 1494.6,946.6 1497.4,946.2 1500.3,945.9 1503.2,945.8 1506,945.7 1508.9,945.6 1511.8,945.5 1514.7,945.4 1517.5,945.3 1520.4,945.2 1523.3,945 1526.1,944.9 1529,944.8 1531.9,944.8 1534.8,944.7 1537.6,944.6 1540.5,944.6 1543.4,944.5 1546.2,944.4 1549.1,944.4 1552,944.3 1554.8,944.2 1557.7,944.2 1560.6,944.1 1563.5,944 1566.3,944 1569.2,943.9 1572.1,943.8 1574.9,943.8 1577.8,943.7 1580.7,943.6 1583.6,943.6 1586.4,943.5 1589.3,943.4 1592.2,945.4 1595,945.3 1597.9,945.3 1600.8,945.2 1603.7,945.2 1606.5,945.1 1609.4,945.1 1612.3,945.1 1615.1,945 1618,945 1620.9,944.9 1623.7,944.9 1626.6,944.8 1629.5,944.8 1632.4,944.7 1635.2,944.7 1638.1,944.6 1641,944.6 1643.8,944.5 1646.7,944.5 1649.6,944.4 1652.5,944.4 1655.3,944.3 1658.2,944.2 1661.1,944.2 1663.9,944.1 1666.8,944.1 1669.7,944 1672.5,943.9 1675.4,943.9 1678.3,943.8 1681.2,943.8 1684,943.7 1686.9,943.7 1689.8,943.6 1692.6,943.5 1695.5,943.5 1698.4,943.4 1701.3,943.4 1704.1,943.4 1707,943.3 1709.9,943.3 1712.7,943.3 1715.6,943.3 1718.5,943.2 1721.3,943.2 1724.2,943.2 1727.1,943.1 1730,943.1 1732.8,943.1 1735.7,943.1 1738.6,943 1741.4,943 1744.3,943 1747.2,943 1750.1,942.9 1752.9,942.9 1755.8,942.9 1758.7,942.8" fill="none" stroke="#5a2020" stroke-width="1.4" opacity="0.7"/>
<rect x="1471.5" y="927" width="10" height="10" fill="#111"/>
<rect x="1476" y="926.5" width="10" height="10" fill="#111"/>
<rect x="1480.5" y="927.5" width="10" height="10" fill="#111"/>
<rect x="1473" y="933" width="10" height="10" fill="#111"/>
<circle cx="1475.5" cy="951" r="4.6" fill="#f3c6c4" stroke="#d8363c" stroke-width="1.6"/>
<circle cx="1478.5" cy="958" r="4.6" fill="#f3c6c4" stroke="#d8363c" stroke-width="1.6"/>
<circle cx="1487.5" cy="961" r="4.6" fill="#f3c6c4" stroke="#d8363c" stroke-width="1.6"/>
<circle cx="1484.5" cy="948" r="4.6" fill="#f3c6c4" stroke="#d8363c" stroke-width="1.6"/>
<circle cx="1475" cy="975" r="4.6" fill="#fdf1f0" stroke="#d88a88" stroke-width="1.4"/>
<circle cx="1478.5" cy="982.5" r="4.6" fill="#fdf1f0" stroke="#d88a88" stroke-width="1.4"/>
<circle cx="1483" cy="988.5" r="4.6" fill="#fdf1f0" stroke="#d88a88" stroke-width="1.4"/>
<circle cx="1487" cy="992.5" r="4.6" fill="#fdf1f0" stroke="#d88a88" stroke-width="1.4"/>
<rect x="1473.4" y="995.9" width="9.2" height="9.2" fill="#eef4f4" stroke="#8a8a8a" stroke-width="1.3"/>
<rect x="1479.9" y="996.9" width="9.2" height="9.2" fill="#eef4f4" stroke="#8a8a8a" stroke-width="1.3"/>
<rect x="1471.9" y="1003.9" width="9.2" height="9.2" fill="#111"/>
<rect x="1475.4" y="1005.9" width="9.2" height="9.2" fill="#111"/>
<circle cx="1485.5" cy="1022" r="4.4" fill="#fdf1f0" stroke="#e08a88" stroke-width="1.3"/>
<circle cx="1486.5" cy="1030" r="4.4" fill="#fdf1f0" stroke="#e08a88" stroke-width="1.3"/>
<line x1="1470.3" y1="927.1" x2="1902.2" y2="927.1" stroke="#1a1a1a" stroke-width="2.6" />
<line x1="1471.6" y1="927.1" x2="1471.6" y2="1284.5" stroke="#1a1a1a" stroke-width="2.8" />
<line x1="1470.3" y1="1283.2" x2="1902.2" y2="1283.2" stroke="#1a1a1a" stroke-width="3" />
<line x1="1902.2" y1="925.9" x2="1902.2" y2="1284.6" stroke="#c8283a" stroke-width="2.4" />
<line x1="1464.6" y1="1244.1" x2="1471.6" y2="1244.1" stroke="#1a1a1a" stroke-width="2.2" />
<line x1="1467.6" y1="1204.5" x2="1471.6" y2="1204.5" stroke="#1a1a1a" stroke-width="2.2" />
<line x1="1464.6" y1="1164.8" x2="1471.6" y2="1164.8" stroke="#1a1a1a" stroke-width="2.2" />
<line x1="1467.6" y1="1125.2" x2="1471.6" y2="1125.2" stroke="#1a1a1a" stroke-width="2.2" />
<line x1="1464.6" y1="1085.6" x2="1471.6" y2="1085.6" stroke="#1a1a1a" stroke-width="2.2" />
<line x1="1467.6" y1="1046" x2="1471.6" y2="1046" stroke="#1a1a1a" stroke-width="2.2" />
<line x1="1464.6" y1="1006.4" x2="1471.6" y2="1006.4" stroke="#1a1a1a" stroke-width="2.2" />
<line x1="1467.6" y1="966.7" x2="1471.6" y2="966.7" stroke="#1a1a1a" stroke-width="2.2" />
<line x1="1464.6" y1="927.1" x2="1471.6" y2="927.1" stroke="#1a1a1a" stroke-width="2.2" />
<line x1="1471.6" y1="1283.2" x2="1471.6" y2="1290.2" stroke="#1a1a1a" stroke-width="2.2" />
<line x1="1514.7" y1="1283.2" x2="1514.7" y2="1287.2" stroke="#1a1a1a" stroke-width="2.2" />
<line x1="1557.7" y1="1283.2" x2="1557.7" y2="1290.2" stroke="#1a1a1a" stroke-width="2.2" />
<line x1="1600.8" y1="1283.2" x2="1600.8" y2="1287.2" stroke="#1a1a1a" stroke-width="2.2" />
<line x1="1643.8" y1="1283.2" x2="1643.8" y2="1290.2" stroke="#1a1a1a" stroke-width="2.2" />
<line x1="1686.9" y1="1283.2" x2="1686.9" y2="1287.2" stroke="#1a1a1a" stroke-width="2.2" />
<line x1="1730" y1="1283.2" x2="1730" y2="1290.2" stroke="#1a1a1a" stroke-width="2.2" />
<line x1="1773" y1="1283.2" x2="1773" y2="1287.2" stroke="#1a1a1a" stroke-width="2.2" />
<line x1="1816.1" y1="1283.2" x2="1816.1" y2="1290.2" stroke="#1a1a1a" stroke-width="2.2" />
<line x1="1859.1" y1="1283.2" x2="1859.1" y2="1287.2" stroke="#1a1a1a" stroke-width="2.2" />
<line x1="1902.2" y1="1283.2" x2="1902.2" y2="1290.2" stroke="#1a1a1a" stroke-width="2.2" />
<line x1="1902.2" y1="1283.2" x2="1908.2" y2="1283.2" stroke="#c8283a" stroke-width="2" />
<line x1="1902.2" y1="1232.3" x2="1905.7" y2="1232.3" stroke="#c8283a" stroke-width="2" />
<line x1="1902.2" y1="1181.3" x2="1908.2" y2="1181.3" stroke="#c8283a" stroke-width="2" />
<line x1="1902.2" y1="1130.4" x2="1905.7" y2="1130.4" stroke="#c8283a" stroke-width="2" />
<line x1="1902.2" y1="1079.5" x2="1908.2" y2="1079.5" stroke="#c8283a" stroke-width="2" />
<line x1="1902.2" y1="1028.5" x2="1905.7" y2="1028.5" stroke="#c8283a" stroke-width="2" />
<line x1="1902.2" y1="977.6" x2="1908.2" y2="977.6" stroke="#c8283a" stroke-width="2" />
<text font-family='"Liberation Sans", sans-serif' font-size="22.3" font-weight="bold" fill="#1a1a1a" textLength="10.9" lengthAdjust="spacingAndGlyphs" x="1447.9" y="1251.7">0</text>
<text font-family='"Liberation Sans", sans-serif' font-size="22.3" font-weight="bold" fill="#1a1a1a" textLength="21.8" lengthAdjust="spacingAndGlyphs" x="1437" y="1172.4">50</text>
<text font-family='"Liberation Sans", sans-serif' font-size="22.3" font-weight="bold" fill="#1a1a1a" textLength="32.7" lengthAdjust="spacingAndGlyphs" x="1426.1" y="1093.2">100</text>
<text font-family='"Liberation Sans", sans-serif' font-size="22.3" font-weight="bold" fill="#1a1a1a" textLength="32.7" lengthAdjust="spacingAndGlyphs" x="1426.1" y="1014">150</text>
<text font-family='"Liberation Sans", sans-serif' font-size="22.3" font-weight="bold" fill="#1a1a1a" textLength="32.7" lengthAdjust="spacingAndGlyphs" x="1426.1" y="934.7">200</text>
<text font-family='"Liberation Sans", sans-serif' font-size="22.3" font-weight="bold" fill="#1a1a1a" textLength="10.9" lengthAdjust="spacingAndGlyphs" x="1466.1" y="1313.6">0</text>
<text font-family='"Liberation Sans", sans-serif' font-size="22.3" font-weight="bold" fill="#1a1a1a" textLength="21.8" lengthAdjust="spacingAndGlyphs" x="1546.8" y="1313.6">30</text>
<text font-family='"Liberation Sans", sans-serif' font-size="22.3" font-weight="bold" fill="#1a1a1a" textLength="21.8" lengthAdjust="spacingAndGlyphs" x="1632.9" y="1313.6">60</text>
<text font-family='"Liberation Sans", sans-serif' font-size="22.3" font-weight="bold" fill="#1a1a1a" textLength="21.8" lengthAdjust="spacingAndGlyphs" x="1719" y="1313.6">90</text>
<text font-family='"Liberation Sans", sans-serif' font-size="22.3" font-weight="bold" fill="#1a1a1a" textLength="32.7" lengthAdjust="spacingAndGlyphs" x="1799.7" y="1313.6">120</text>
<text font-family='"Liberation Sans", sans-serif' font-size="22.3" font-weight="bold" fill="#1a1a1a" textLength="32.7" lengthAdjust="spacingAndGlyphs" x="1886.3" y="1313.6">150</text>
<text font-family='"Liberation Sans", sans-serif' font-size="22.3" font-weight="bold" fill="#c8283a" textLength="10.9" lengthAdjust="spacingAndGlyphs" x="1912.8" y="1290.8">0</text>
<text font-family='"Liberation Sans", sans-serif' font-size="22.3" font-weight="bold" fill="#c8283a" textLength="21.8" lengthAdjust="spacingAndGlyphs" x="1912.8" y="1188.9">30</text>
<text font-family='"Liberation Sans", sans-serif' font-size="22.3" font-weight="bold" fill="#c8283a" textLength="21.8" lengthAdjust="spacingAndGlyphs" x="1912.8" y="1087.1">60</text>
<text font-family='"Liberation Sans", sans-serif' font-size="22.3" font-weight="bold" fill="#c8283a" textLength="21.8" lengthAdjust="spacingAndGlyphs" x="1912.8" y="985.2">90</text>
<text font-family='"Liberation Sans", sans-serif' font-size="28.5" font-weight="bold" fill="#1a1a1a" textLength="181" lengthAdjust="spacingAndGlyphs" x="1596.1" y="1338.8">Cycle number</text>
<text font-family='"Liberation Sans", sans-serif' font-size="27.5" font-weight="bold" fill="#1a1a1a" textLength="387" lengthAdjust="spacingAndGlyphs" transform="translate(1415.4 1302.5) rotate(-90)">Specific capacity (mAh g<tspan font-size="17" dy="-11">-1</tspan><tspan dy="11">&#8203;</tspan>)</text>
<text font-family='"Liberation Sans", sans-serif' font-size="28" font-weight="bold" fill="#d8222c" textLength="365" lengthAdjust="spacingAndGlyphs" transform="translate(1962.8 1283.5) rotate(-90)">Coulombic efficiency (%)</text>
<polyline points="1526.1,1059.7 1526.1,1082.7 1486,1082.7" fill="none" stroke="#1a1a1a" stroke-width="2.4" />
<polygon points="1474.2,1082.7 1488,1078.6 1488,1086.8" fill="#1a1a1a"/>
<polyline points="1841.2,952.5 1841.2,977.6 1888,977.6" fill="none" stroke="#d8262e" stroke-width="2.2" />
<polygon points="1900.9,977.6 1886,973.6 1886,981.6" fill="#d8262e"/>
<line x1="1758.2" y1="1053.7" x2="1779.1" y2="1032.8" stroke="#1a1a1a" stroke-width="2" /><polygon points="1783.3,1028.6 1779.9,1036.6 1775.3,1032" fill="#1a1a1a"/>
<line x1="1897.4" y1="1100.4" x2="1859.4" y2="1122.4" stroke="#1a1a1a" stroke-width="2" /><polygon points="1854.2,1125.4 1859.5,1118.6 1862.8,1124.2" fill="#1a1a1a"/>
<text font-family='"Liberation Sans", sans-serif' font-size="22" font-weight="bold" fill="#1a1a1a" textLength="114" lengthAdjust="spacingAndGlyphs" x="1776.4" y="1021.7">118 mAh g<tspan font-size="12" dy="-9">-1</tspan><tspan dy="9">&#8203;</tspan></text>
<text font-family='"Liberation Sans", sans-serif' font-size="22" font-weight="bold" fill="#1a1a1a" textLength="102" lengthAdjust="spacingAndGlyphs" x="1796.3" y="1149.6">98 mAh g<tspan font-size="12" dy="-9">-1</tspan><tspan dy="9">&#8203;</tspan></text>
<text font-family='"Liberation Sans", sans-serif' font-size="18" font-weight="bold" fill="#1a1a1a" textLength="155.5" lengthAdjust="spacingAndGlyphs" x="1710.7" y="1193.6">Current: 100 mA g<tspan font-size="10" dy="-8">-1</tspan><tspan dy="8">&#8203;</tspan></text>
<rect x="1689.8" y="1221.4" width="9" height="9" fill="#111"/>
<rect x="1727.8" y="1221.8" width="8.2" height="8.2" fill="#fff" stroke="#777" stroke-width="1.2"/>
<text font-family='"Liberation Sans", sans-serif' font-size="18" font-weight="bold" fill="#1a1a1a" textLength="111.5" lengthAdjust="spacingAndGlyphs" x="1752.2" y="1231.8">-10 Centigrate</text>
<circle cx="1694.3" cy="1250.1" r="5" fill="#e01822"/>
<circle cx="1731.9" cy="1250.1" r="4.6" fill="#fff" stroke="#c89090" stroke-width="1.3"/>
<text font-family='"Liberation Sans", sans-serif' font-size="18" font-weight="bold" fill="#1a1a1a" textLength="106.3" lengthAdjust="spacingAndGlyphs" x="1756.5" y="1256.4">50 Centigrate</text>
</g>
</svg>
</body>
</html>
